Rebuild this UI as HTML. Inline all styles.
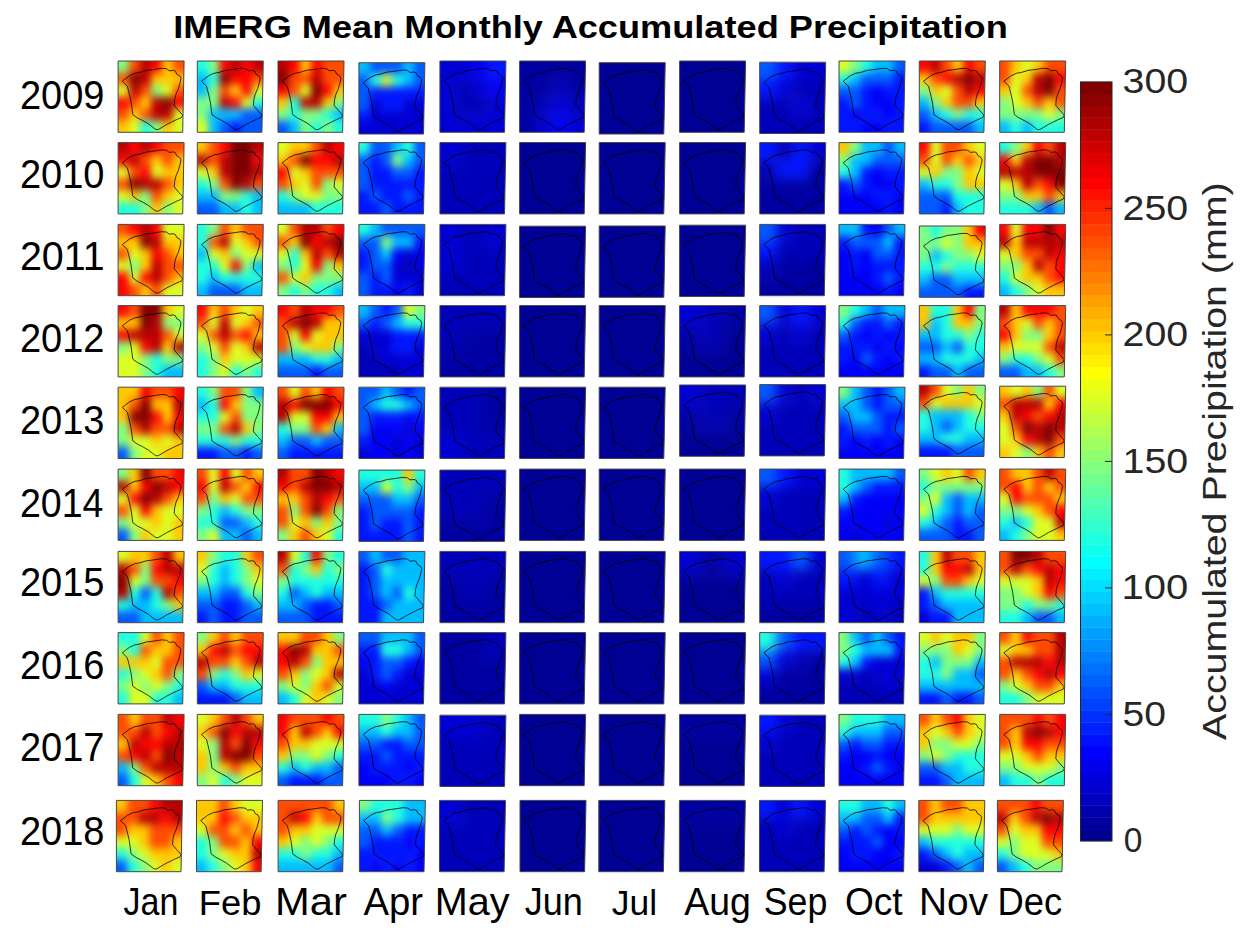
<!DOCTYPE html>
<html><head><meta charset="utf-8"><style>
html,body{margin:0;padding:0;background:#fff;width:1251px;height:936px;overflow:hidden}
svg{display:block}
text{font-family:"Liberation Sans",sans-serif}
.tk{font-size:35px;fill:#262626}
.mo{font-size:37px;fill:#000}
.yr{font-size:37px;fill:#000}
.ti{font-size:32px;font-weight:bold;fill:#000}
.lb{font-size:33.5px;fill:#262626}
</style></head><body>
<svg width="1251" height="936" viewBox="0 0 1251 936">
<defs><clipPath id="k3"><path d="M0 0H3L2.936 3H0z"/></clipPath><filter id="f3" x="-20%" y="-20%" width="140%" height="140%" color-interpolation-filters="sRGB"><feGaussianBlur stdDeviation="0.340"/></filter><clipPath id="k4"><path d="M0 0H4L3.915 4H0z"/></clipPath><filter id="f4" x="-20%" y="-20%" width="140%" height="140%" color-interpolation-filters="sRGB"><feGaussianBlur stdDeviation="0.340"/></filter><clipPath id="k6"><path d="M0 0H6L5.873 6H0z"/></clipPath><filter id="f6" x="-20%" y="-20%" width="140%" height="140%" color-interpolation-filters="sRGB"><feGaussianBlur stdDeviation="0.340"/></filter><path id="ol" d="M0.063 0.283 L0.114 0.248 L0.171 0.207 L0.254 0.172 L0.330 0.160 L0.431 0.131 L0.495 0.125 L0.584 0.113 L0.660 0.102 L0.736 0.108 L0.774 0.137 L0.838 0.131 L0.869 0.143 L0.888 0.184 L0.933 0.207 L0.952 0.242 L0.939 0.306 L0.914 0.388 L0.876 0.470 L0.857 0.540 L0.850 0.622 L0.914 0.692 L0.977 0.757 L0.964 0.792 L0.888 0.821 L0.812 0.856 L0.736 0.891 L0.673 0.926 L0.609 0.961 L0.571 0.961 L0.520 0.926 L0.457 0.880 L0.368 0.833 L0.292 0.798 L0.222 0.751 L0.209 0.657 L0.197 0.575 L0.178 0.494 L0.159 0.423 L0.140 0.353Z" fill="none" stroke="#000" stroke-width="0.85" stroke-opacity="0.9" vector-effect="non-scaling-stroke"/></defs>
<rect width="1251" height="936" fill="#fff"/>
<g transform="translate(118.1 61.0) scale(11.0000 11.8833)" clip-path="url(#k6)"><g filter="url(#f6)"><path fill="#80ff80" d="M-1 -1h1v1h-1zM0 -1h1v1h-1zM-1 0h1v1h-1zM0 0h1v1h-1zM3 2h1v1h-1zM3 5h1v1h-1zM3 6h1v1h-1z"/><path fill="#ff4c00" d="M1 -1h1v1h-1zM5 -1h1v1h-1zM6 -1h1v1h-1zM1 0h1v1h-1zM5 0h1v1h-1zM6 0h1v1h-1zM-1 1h1v1h-1zM0 1h1v1h-1zM2 2h1v1h-1zM5 2h1v1h-1zM6 2h1v1h-1zM1 3h1v1h-1zM-1 4h1v1h-1zM0 4h1v1h-1zM2 4h1v1h-1z"/><path fill="#b90000" d="M2 -1h1v1h-1zM2 0h1v1h-1zM2 1h1v1h-1zM1 2h1v1h-1zM3 3h1v1h-1zM3 4h1v1h-1zM4 4h1v1h-1z"/><path fill="#ff0200" d="M3 -1h1v1h-1zM3 0h1v1h-1zM-1 3h1v1h-1zM0 3h1v1h-1zM5 3h1v1h-1zM6 3h1v1h-1z"/><path fill="#ffc700" d="M4 -1h1v1h-1zM4 0h1v1h-1zM3 1h1v1h-1zM4 1h1v1h-1zM5 1h1v1h-1zM6 1h1v1h-1zM2 3h1v1h-1zM1 4h1v1h-1zM-1 5h1v1h-1zM0 5h1v1h-1zM4 5h1v1h-1zM-1 6h1v1h-1zM0 6h1v1h-1zM4 6h1v1h-1z"/><path fill="#800000" d="M1 1h1v1h-1zM4 3h1v1h-1z"/><path fill="#dbff24" d="M-1 2h1v1h-1zM0 2h1v1h-1zM4 2h1v1h-1zM5 4h1v1h-1zM6 4h1v1h-1zM1 5h1v1h-1zM5 5h1v1h-1zM6 5h1v1h-1zM1 6h1v1h-1zM5 6h1v1h-1zM6 6h1v1h-1z"/><path fill="#20ffdf" d="M2 5h1v1h-1zM2 6h1v1h-1z"/></g></g><use href="#ol" transform="translate(118.1 61.0) scale(66.0 71.3)"/><path d="M118.1 61.0h66.0l-1.4 71.3H118.1z" fill="none" stroke="#444" stroke-width="1"/>
<g transform="translate(197.3 61.0) scale(11.0000 11.8833)" clip-path="url(#k6)"><g filter="url(#f6)"><path fill="#20ffdf" d="M-1 -1h1v1h-1zM0 -1h1v1h-1zM-1 0h1v1h-1zM0 0h1v1h-1zM1 1h1v1h-1zM5 3h1v1h-1zM6 3h1v1h-1z"/><path fill="#80ff80" d="M1 -1h1v1h-1zM1 0h1v1h-1zM1 2h1v1h-1zM-1 3h1v1h-1zM0 3h1v1h-1zM1 3h1v1h-1zM-1 4h1v1h-1zM0 4h1v1h-1z"/><path fill="#ff0200" d="M2 -1h1v1h-1zM4 -1h1v1h-1zM2 0h1v1h-1zM4 0h1v1h-1zM3 1h1v1h-1zM4 1h1v1h-1zM4 2h1v1h-1zM3 3h1v1h-1z"/><path fill="#b90000" d="M3 -1h1v1h-1zM5 -1h1v1h-1zM6 -1h1v1h-1zM3 0h1v1h-1zM5 0h1v1h-1zM6 0h1v1h-1zM2 3h1v1h-1z"/><path fill="#00bdff" d="M-1 1h1v1h-1zM0 1h1v1h-1zM-1 2h1v1h-1zM0 2h1v1h-1zM1 4h1v1h-1zM2 4h1v1h-1zM3 4h1v1h-1zM1 5h1v1h-1zM1 6h1v1h-1z"/><path fill="#800000" d="M2 1h1v1h-1z"/><path fill="#ff4c00" d="M5 1h1v1h-1zM6 1h1v1h-1zM2 2h1v1h-1z"/><path fill="#ffc700" d="M3 2h1v1h-1z"/><path fill="#dbff24" d="M5 2h1v1h-1zM6 2h1v1h-1zM4 3h1v1h-1zM-1 5h1v1h-1zM0 5h1v1h-1zM-1 6h1v1h-1zM0 6h1v1h-1z"/><path fill="#005aff" d="M4 4h1v1h-1zM5 4h1v1h-1zM6 4h1v1h-1zM2 5h1v1h-1zM4 5h1v1h-1zM5 5h1v1h-1zM6 5h1v1h-1zM2 6h1v1h-1zM4 6h1v1h-1zM5 6h1v1h-1zM6 6h1v1h-1z"/><path fill="#0016ff" d="M3 5h1v1h-1zM3 6h1v1h-1z"/></g></g><use href="#ol" transform="translate(197.3 61.0) scale(66.0 71.3)"/><path d="M197.3 61.0h66.0l-1.4 71.3H197.3z" fill="none" stroke="#444" stroke-width="1"/>
<g transform="translate(278.0 61.0) scale(11.0000 11.8833)" clip-path="url(#k6)"><g filter="url(#f6)"><path fill="#b90000" d="M-1 -1h1v1h-1zM0 -1h1v1h-1zM-1 0h1v1h-1zM0 0h1v1h-1zM3 1h1v1h-1zM2 3h1v1h-1zM3 3h1v1h-1z"/><path fill="#ff0200" d="M1 -1h1v1h-1zM3 -1h1v1h-1zM1 0h1v1h-1zM3 0h1v1h-1zM-1 2h1v1h-1zM0 2h1v1h-1zM4 2h1v1h-1z"/><path fill="#ffc700" d="M2 -1h1v1h-1zM2 0h1v1h-1zM5 2h1v1h-1zM6 2h1v1h-1zM-1 3h1v1h-1zM0 3h1v1h-1zM4 3h1v1h-1z"/><path fill="#ff4c00" d="M4 -1h1v1h-1zM5 -1h1v1h-1zM6 -1h1v1h-1zM4 0h1v1h-1zM5 0h1v1h-1zM6 0h1v1h-1zM1 1h1v1h-1zM2 1h1v1h-1zM4 1h1v1h-1zM5 1h1v1h-1zM6 1h1v1h-1zM1 2h1v1h-1z"/><path fill="#800000" d="M-1 1h1v1h-1zM0 1h1v1h-1zM3 2h1v1h-1z"/><path fill="#dbff24" d="M2 2h1v1h-1z"/><path fill="#20ffdf" d="M1 3h1v1h-1zM1 4h1v1h-1zM4 4h1v1h-1zM3 5h1v1h-1zM5 5h1v1h-1zM6 5h1v1h-1zM3 6h1v1h-1zM5 6h1v1h-1zM6 6h1v1h-1z"/><path fill="#80ff80" d="M5 3h1v1h-1zM6 3h1v1h-1zM-1 4h1v1h-1zM0 4h1v1h-1zM2 4h1v1h-1zM3 4h1v1h-1zM2 5h1v1h-1zM4 5h1v1h-1zM2 6h1v1h-1zM4 6h1v1h-1z"/><path fill="#00bdff" d="M5 4h1v1h-1zM6 4h1v1h-1zM1 5h1v1h-1zM1 6h1v1h-1z"/><path fill="#005aff" d="M-1 5h1v1h-1zM0 5h1v1h-1zM-1 6h1v1h-1zM0 6h1v1h-1z"/></g></g><use href="#ol" transform="translate(278.0 61.0) scale(66.0 71.3)"/><path d="M278.0 61.0h66.0l-1.4 71.3H278.0z" fill="none" stroke="#444" stroke-width="1"/>
<g transform="translate(358.9 62.7) scale(11.0000 11.8833)" clip-path="url(#k6)"><g filter="url(#f6)"><path fill="#00bdff" d="M-1 -1h1v1h-1zM0 -1h1v1h-1zM4 -1h1v1h-1zM-1 0h1v1h-1zM0 0h1v1h-1zM4 0h1v1h-1zM4 1h1v1h-1z"/><path fill="#005aff" d="M1 -1h1v1h-1zM2 -1h1v1h-1zM3 -1h1v1h-1zM5 -1h1v1h-1zM6 -1h1v1h-1zM1 0h1v1h-1zM2 0h1v1h-1zM3 0h1v1h-1zM5 0h1v1h-1zM6 0h1v1h-1zM-1 1h1v1h-1zM0 1h1v1h-1zM5 1h1v1h-1zM6 1h1v1h-1zM-1 2h1v1h-1zM0 2h1v1h-1zM-1 3h1v1h-1zM0 3h1v1h-1z"/><path fill="#20ffdf" d="M1 1h1v1h-1zM3 1h1v1h-1z"/><path fill="#dbff24" d="M2 1h1v1h-1z"/><path fill="#0016ff" d="M1 2h1v1h-1zM2 2h1v1h-1zM3 2h1v1h-1zM4 2h1v1h-1zM5 2h1v1h-1zM6 2h1v1h-1zM2 3h1v1h-1zM3 3h1v1h-1zM-1 4h1v1h-1zM0 4h1v1h-1z"/><path fill="#0000d4" d="M1 3h1v1h-1zM4 3h1v1h-1zM5 3h1v1h-1zM6 3h1v1h-1zM1 4h1v1h-1zM2 4h1v1h-1zM3 4h1v1h-1zM4 4h1v1h-1zM5 4h1v1h-1zM6 4h1v1h-1zM-1 5h1v1h-1zM0 5h1v1h-1zM1 5h1v1h-1zM2 5h1v1h-1zM3 5h1v1h-1zM4 5h1v1h-1zM5 5h1v1h-1zM6 5h1v1h-1zM-1 6h1v1h-1zM0 6h1v1h-1zM1 6h1v1h-1zM2 6h1v1h-1zM3 6h1v1h-1zM4 6h1v1h-1zM5 6h1v1h-1zM6 6h1v1h-1z"/></g></g><use href="#ol" transform="translate(358.9 62.7) scale(66.0 71.3)"/><path d="M358.9 62.7h66.0l-1.4 71.3H358.9z" fill="none" stroke="#444" stroke-width="1"/>
<g transform="translate(439.9 61.0) scale(16.5000 17.8250)" clip-path="url(#k4)"><g filter="url(#f4)"><path fill="#0000d4" d="M-1 -1h1v1h-1zM0 -1h1v1h-1zM1 -1h1v1h-1zM-1 0h1v1h-1zM0 0h1v1h-1zM1 0h1v1h-1zM-1 1h1v1h-1zM0 1h1v1h-1zM2 1h1v1h-1zM-1 2h1v1h-1zM0 2h1v1h-1zM3 2h1v1h-1zM4 2h1v1h-1zM-1 3h1v1h-1zM0 3h1v1h-1zM1 3h1v1h-1zM2 3h1v1h-1zM3 3h1v1h-1zM4 3h1v1h-1zM-1 4h1v1h-1zM0 4h1v1h-1zM1 4h1v1h-1zM2 4h1v1h-1zM3 4h1v1h-1zM4 4h1v1h-1z"/><path fill="#0000f6" d="M2 -1h1v1h-1zM2 0h1v1h-1zM3 1h1v1h-1zM4 1h1v1h-1z"/><path fill="#0016ff" d="M3 -1h1v1h-1zM4 -1h1v1h-1zM3 0h1v1h-1zM4 0h1v1h-1z"/><path fill="#0000b9" d="M1 1h1v1h-1zM1 2h1v1h-1zM2 2h1v1h-1z"/></g></g><use href="#ol" transform="translate(439.9 61.0) scale(66.0 71.3)"/><path d="M439.9 61.0h66.0l-1.4 71.3H439.9z" fill="none" stroke="#444" stroke-width="1"/>
<g transform="translate(519.6 61.0) scale(16.5000 17.8250)" clip-path="url(#k4)"><g filter="url(#f4)"><path fill="#0000a2" d="M-1 -1h1v1h-1zM0 -1h1v1h-1zM1 -1h1v1h-1zM2 -1h1v1h-1zM3 -1h1v1h-1zM4 -1h1v1h-1zM-1 0h1v1h-1zM0 0h1v1h-1zM1 0h1v1h-1zM2 0h1v1h-1zM3 0h1v1h-1zM4 0h1v1h-1zM-1 1h1v1h-1zM0 1h1v1h-1zM1 1h1v1h-1zM3 1h1v1h-1zM4 1h1v1h-1zM-1 2h1v1h-1zM0 2h1v1h-1zM-1 3h1v1h-1zM0 3h1v1h-1zM-1 4h1v1h-1zM0 4h1v1h-1z"/><path fill="#0000b9" d="M2 1h1v1h-1zM1 2h1v1h-1zM3 2h1v1h-1zM4 2h1v1h-1z"/><path fill="#0000d4" d="M2 2h1v1h-1zM1 3h1v1h-1zM3 3h1v1h-1zM4 3h1v1h-1zM1 4h1v1h-1zM3 4h1v1h-1zM4 4h1v1h-1z"/><path fill="#0000f6" d="M2 3h1v1h-1zM2 4h1v1h-1z"/></g></g><use href="#ol" transform="translate(519.6 61.0) scale(66.0 71.3)"/><path d="M519.6 61.0h66.0l-1.4 71.3H519.6z" fill="none" stroke="#444" stroke-width="1"/>
<path d="M599.2 62.7h66.0l-1.4 71.3H599.2z" fill="#000094"/><use href="#ol" transform="translate(599.2 62.7) scale(66.0 71.3)"/><path d="M599.2 62.7h66.0l-1.4 71.3H599.2z" fill="none" stroke="#444" stroke-width="1"/>
<path d="M679.6 61.0h66.0l-1.4 71.3H679.6z" fill="#000094"/><use href="#ol" transform="translate(679.6 61.0) scale(66.0 71.3)"/><path d="M679.6 61.0h66.0l-1.4 71.3H679.6z" fill="none" stroke="#444" stroke-width="1"/>
<g transform="translate(759.7 62.2) scale(16.5000 17.8250)" clip-path="url(#k4)"><g filter="url(#f4)"><path fill="#005aff" d="M-1 -1h1v1h-1zM0 -1h1v1h-1zM-1 0h1v1h-1zM0 0h1v1h-1z"/><path fill="#0016ff" d="M1 -1h1v1h-1zM1 0h1v1h-1zM-1 1h1v1h-1zM0 1h1v1h-1z"/><path fill="#0000d4" d="M2 -1h1v1h-1zM3 -1h1v1h-1zM4 -1h1v1h-1zM2 0h1v1h-1zM3 0h1v1h-1zM4 0h1v1h-1zM1 1h1v1h-1zM2 2h1v1h-1z"/><path fill="#0000b9" d="M2 1h1v1h-1zM3 1h1v1h-1zM4 1h1v1h-1zM-1 2h1v1h-1zM0 2h1v1h-1zM1 2h1v1h-1zM3 2h1v1h-1zM4 2h1v1h-1zM-1 3h1v1h-1zM0 3h1v1h-1zM1 3h1v1h-1zM2 3h1v1h-1zM3 3h1v1h-1zM4 3h1v1h-1zM-1 4h1v1h-1zM0 4h1v1h-1zM1 4h1v1h-1zM2 4h1v1h-1zM3 4h1v1h-1zM4 4h1v1h-1z"/></g></g><use href="#ol" transform="translate(759.7 62.2) scale(66.0 71.3)"/><path d="M759.7 62.2h66.0l-1.4 71.3H759.7z" fill="none" stroke="#444" stroke-width="1"/>
<g transform="translate(839.0 61.0) scale(11.0000 11.8833)" clip-path="url(#k6)"><g filter="url(#f6)"><path fill="#dbff24" d="M-1 -1h1v1h-1zM0 -1h1v1h-1zM-1 0h1v1h-1zM0 0h1v1h-1z"/><path fill="#80ff80" d="M1 -1h1v1h-1zM1 0h1v1h-1z"/><path fill="#20ffdf" d="M2 -1h1v1h-1zM2 0h1v1h-1zM-1 1h1v1h-1zM0 1h1v1h-1z"/><path fill="#00bdff" d="M3 -1h1v1h-1zM4 -1h1v1h-1zM3 0h1v1h-1zM4 0h1v1h-1zM1 1h1v1h-1z"/><path fill="#005aff" d="M5 -1h1v1h-1zM6 -1h1v1h-1zM5 0h1v1h-1zM6 0h1v1h-1zM2 1h1v1h-1zM3 1h1v1h-1zM4 1h1v1h-1zM-1 2h1v1h-1zM0 2h1v1h-1zM1 2h1v1h-1zM1 3h1v1h-1z"/><path fill="#0016ff" d="M5 1h1v1h-1zM6 1h1v1h-1zM2 2h1v1h-1zM4 2h1v1h-1zM5 2h1v1h-1zM6 2h1v1h-1zM-1 3h1v1h-1zM0 3h1v1h-1zM2 3h1v1h-1zM5 3h1v1h-1zM6 3h1v1h-1zM-1 4h1v1h-1zM0 4h1v1h-1zM2 4h1v1h-1zM3 4h1v1h-1zM5 4h1v1h-1zM6 4h1v1h-1zM-1 5h1v1h-1zM0 5h1v1h-1zM1 5h1v1h-1zM4 5h1v1h-1zM5 5h1v1h-1zM6 5h1v1h-1zM-1 6h1v1h-1zM0 6h1v1h-1zM1 6h1v1h-1zM4 6h1v1h-1zM5 6h1v1h-1zM6 6h1v1h-1z"/><path fill="#0000f6" d="M3 2h1v1h-1zM3 3h1v1h-1zM4 3h1v1h-1zM1 4h1v1h-1zM4 4h1v1h-1zM2 5h1v1h-1zM3 5h1v1h-1zM2 6h1v1h-1zM3 6h1v1h-1z"/></g></g><use href="#ol" transform="translate(839.0 61.0) scale(66.0 71.3)"/><path d="M839.0 61.0h66.0l-1.4 71.3H839.0z" fill="none" stroke="#444" stroke-width="1"/>
<g transform="translate(919.3 61.0) scale(11.0000 11.8833)" clip-path="url(#k6)"><g filter="url(#f6)"><path fill="#ff0200" d="M-1 -1h1v1h-1zM0 -1h1v1h-1zM4 -1h1v1h-1zM-1 0h1v1h-1zM0 0h1v1h-1zM4 0h1v1h-1zM2 1h1v1h-1zM5 2h1v1h-1zM6 2h1v1h-1z"/><path fill="#b90000" d="M1 -1h1v1h-1zM1 0h1v1h-1zM3 1h1v1h-1zM5 1h1v1h-1zM6 1h1v1h-1zM4 2h1v1h-1z"/><path fill="#ff4c00" d="M2 -1h1v1h-1zM5 -1h1v1h-1zM6 -1h1v1h-1zM2 0h1v1h-1zM5 0h1v1h-1zM6 0h1v1h-1zM1 1h1v1h-1zM3 2h1v1h-1zM3 3h1v1h-1zM4 3h1v1h-1z"/><path fill="#ffc700" d="M3 -1h1v1h-1zM3 0h1v1h-1zM-1 1h1v1h-1zM0 1h1v1h-1zM1 2h1v1h-1zM2 3h1v1h-1zM5 3h1v1h-1zM6 3h1v1h-1z"/><path fill="#800000" d="M4 1h1v1h-1z"/><path fill="#80ff80" d="M-1 2h1v1h-1zM0 2h1v1h-1zM1 3h1v1h-1zM3 4h1v1h-1z"/><path fill="#dbff24" d="M2 2h1v1h-1z"/><path fill="#00bdff" d="M-1 3h1v1h-1zM0 3h1v1h-1zM1 4h1v1h-1zM5 5h1v1h-1zM6 5h1v1h-1zM5 6h1v1h-1zM6 6h1v1h-1z"/><path fill="#005aff" d="M-1 4h1v1h-1zM0 4h1v1h-1zM1 5h1v1h-1zM2 5h1v1h-1zM3 5h1v1h-1zM4 5h1v1h-1zM1 6h1v1h-1zM2 6h1v1h-1zM3 6h1v1h-1zM4 6h1v1h-1z"/><path fill="#20ffdf" d="M2 4h1v1h-1zM4 4h1v1h-1zM5 4h1v1h-1zM6 4h1v1h-1z"/><path fill="#0016ff" d="M-1 5h1v1h-1zM0 5h1v1h-1zM-1 6h1v1h-1zM0 6h1v1h-1z"/></g></g><use href="#ol" transform="translate(919.3 61.0) scale(66.0 71.3)"/><path d="M919.3 61.0h66.0l-1.4 71.3H919.3z" fill="none" stroke="#444" stroke-width="1"/>
<g transform="translate(999.7 61.0) scale(11.0000 11.8833)" clip-path="url(#k6)"><g filter="url(#f6)"><path fill="#ff4c00" d="M-1 -1h1v1h-1zM0 -1h1v1h-1zM4 -1h1v1h-1zM5 -1h1v1h-1zM6 -1h1v1h-1zM-1 0h1v1h-1zM0 0h1v1h-1zM4 0h1v1h-1zM5 0h1v1h-1zM6 0h1v1h-1zM-1 1h1v1h-1zM0 1h1v1h-1zM2 2h1v1h-1zM5 2h1v1h-1zM6 2h1v1h-1zM3 3h1v1h-1zM5 3h1v1h-1zM6 3h1v1h-1z"/><path fill="#ffc700" d="M1 -1h1v1h-1zM3 -1h1v1h-1zM1 0h1v1h-1zM3 0h1v1h-1zM2 1h1v1h-1zM-1 2h1v1h-1zM0 2h1v1h-1zM2 3h1v1h-1zM4 3h1v1h-1z"/><path fill="#dbff24" d="M2 -1h1v1h-1zM2 0h1v1h-1zM1 1h1v1h-1zM1 2h1v1h-1zM1 3h1v1h-1zM4 4h1v1h-1z"/><path fill="#b90000" d="M3 1h1v1h-1zM3 2h1v1h-1z"/><path fill="#800000" d="M4 1h1v1h-1zM4 2h1v1h-1z"/><path fill="#ff0200" d="M5 1h1v1h-1zM6 1h1v1h-1z"/><path fill="#80ff80" d="M-1 3h1v1h-1zM0 3h1v1h-1zM-1 4h1v1h-1zM0 4h1v1h-1zM1 4h1v1h-1zM2 4h1v1h-1zM3 4h1v1h-1zM5 4h1v1h-1zM6 4h1v1h-1z"/><path fill="#00bdff" d="M-1 5h1v1h-1zM0 5h1v1h-1zM2 5h1v1h-1zM-1 6h1v1h-1zM0 6h1v1h-1zM2 6h1v1h-1z"/><path fill="#20ffdf" d="M1 5h1v1h-1zM3 5h1v1h-1zM4 5h1v1h-1zM5 5h1v1h-1zM6 5h1v1h-1zM1 6h1v1h-1zM3 6h1v1h-1zM4 6h1v1h-1zM5 6h1v1h-1zM6 6h1v1h-1z"/></g></g><use href="#ol" transform="translate(999.7 61.0) scale(66.0 71.3)"/><path d="M999.7 61.0h66.0l-1.4 71.3H999.7z" fill="none" stroke="#444" stroke-width="1"/>
<g transform="translate(118.1 142.6) scale(11.0000 11.8833)" clip-path="url(#k6)"><g filter="url(#f6)"><path fill="#b90000" d="M-1 -1h1v1h-1zM0 -1h1v1h-1zM2 -1h1v1h-1zM-1 0h1v1h-1zM0 0h1v1h-1zM2 0h1v1h-1zM1 1h1v1h-1zM2 3h1v1h-1zM3 3h1v1h-1z"/><path fill="#ff0200" d="M1 -1h1v1h-1zM3 -1h1v1h-1zM1 0h1v1h-1zM3 0h1v1h-1zM-1 1h1v1h-1zM0 1h1v1h-1zM2 2h1v1h-1z"/><path fill="#ff4c00" d="M4 -1h1v1h-1zM5 -1h1v1h-1zM6 -1h1v1h-1zM4 0h1v1h-1zM5 0h1v1h-1zM6 0h1v1h-1zM2 1h1v1h-1zM4 1h1v1h-1zM1 2h1v1h-1zM-1 3h1v1h-1zM0 3h1v1h-1zM4 3h1v1h-1zM3 4h1v1h-1z"/><path fill="#ffc700" d="M3 1h1v1h-1zM5 1h1v1h-1zM6 1h1v1h-1zM4 2h1v1h-1zM5 2h1v1h-1zM6 2h1v1h-1zM5 3h1v1h-1zM6 3h1v1h-1zM1 4h1v1h-1zM4 4h1v1h-1zM3 5h1v1h-1zM3 6h1v1h-1z"/><path fill="#dbff24" d="M-1 2h1v1h-1zM0 2h1v1h-1zM3 2h1v1h-1zM-1 4h1v1h-1zM0 4h1v1h-1zM5 4h1v1h-1zM6 4h1v1h-1zM5 5h1v1h-1zM6 5h1v1h-1zM5 6h1v1h-1zM6 6h1v1h-1z"/><path fill="#800000" d="M1 3h1v1h-1z"/><path fill="#80ff80" d="M2 4h1v1h-1zM2 5h1v1h-1zM4 5h1v1h-1zM2 6h1v1h-1zM4 6h1v1h-1z"/><path fill="#20ffdf" d="M-1 5h1v1h-1zM0 5h1v1h-1zM1 5h1v1h-1zM-1 6h1v1h-1zM0 6h1v1h-1zM1 6h1v1h-1z"/></g></g><use href="#ol" transform="translate(118.1 142.6) scale(66.0 71.3)"/><path d="M118.1 142.6h66.0l-1.4 71.3H118.1z" fill="none" stroke="#444" stroke-width="1"/>
<g transform="translate(197.3 142.6) scale(11.0000 11.8833)" clip-path="url(#k6)"><g filter="url(#f6)"><path fill="#ffc700" d="M-1 -1h1v1h-1zM0 -1h1v1h-1zM-1 0h1v1h-1zM0 0h1v1h-1zM1 2h1v1h-1z"/><path fill="#ff4c00" d="M1 -1h1v1h-1zM1 0h1v1h-1zM1 1h1v1h-1zM2 3h1v1h-1zM5 3h1v1h-1zM6 3h1v1h-1z"/><path fill="#ff0200" d="M2 -1h1v1h-1zM2 0h1v1h-1zM5 1h1v1h-1zM6 1h1v1h-1z"/><path fill="#800000" d="M3 -1h1v1h-1zM4 -1h1v1h-1zM3 0h1v1h-1zM4 0h1v1h-1zM3 1h1v1h-1zM4 1h1v1h-1zM3 2h1v1h-1zM4 2h1v1h-1zM3 3h1v1h-1z"/><path fill="#b90000" d="M5 -1h1v1h-1zM6 -1h1v1h-1zM5 0h1v1h-1zM6 0h1v1h-1zM-1 1h1v1h-1zM0 1h1v1h-1zM2 1h1v1h-1zM2 2h1v1h-1zM5 2h1v1h-1zM6 2h1v1h-1zM4 3h1v1h-1z"/><path fill="#dbff24" d="M-1 2h1v1h-1zM0 2h1v1h-1z"/><path fill="#20ffdf" d="M-1 3h1v1h-1zM0 3h1v1h-1zM4 4h1v1h-1zM4 5h1v1h-1zM4 6h1v1h-1z"/><path fill="#80ff80" d="M1 3h1v1h-1zM2 4h1v1h-1zM3 4h1v1h-1z"/><path fill="#00bdff" d="M-1 4h1v1h-1zM0 4h1v1h-1zM1 4h1v1h-1zM5 4h1v1h-1zM6 4h1v1h-1zM2 5h1v1h-1zM3 5h1v1h-1zM5 5h1v1h-1zM6 5h1v1h-1zM2 6h1v1h-1zM3 6h1v1h-1zM5 6h1v1h-1zM6 6h1v1h-1z"/><path fill="#005aff" d="M-1 5h1v1h-1zM0 5h1v1h-1zM1 5h1v1h-1zM-1 6h1v1h-1zM0 6h1v1h-1zM1 6h1v1h-1z"/></g></g><use href="#ol" transform="translate(197.3 142.6) scale(66.0 71.3)"/><path d="M197.3 142.6h66.0l-1.4 71.3H197.3z" fill="none" stroke="#444" stroke-width="1"/>
<g transform="translate(278.0 142.6) scale(11.0000 11.8833)" clip-path="url(#k6)"><g filter="url(#f6)"><path fill="#dbff24" d="M-1 -1h1v1h-1zM0 -1h1v1h-1zM-1 0h1v1h-1zM0 0h1v1h-1zM1 2h1v1h-1zM2 3h1v1h-1zM5 3h1v1h-1zM6 3h1v1h-1zM2 4h1v1h-1zM3 4h1v1h-1z"/><path fill="#ffc700" d="M1 -1h1v1h-1zM2 -1h1v1h-1zM1 0h1v1h-1zM2 0h1v1h-1zM-1 1h1v1h-1zM0 1h1v1h-1zM2 2h1v1h-1zM1 3h1v1h-1z"/><path fill="#ff4c00" d="M3 -1h1v1h-1zM3 0h1v1h-1zM1 1h1v1h-1zM3 2h1v1h-1zM4 2h1v1h-1zM5 2h1v1h-1zM6 2h1v1h-1zM-1 3h1v1h-1zM0 3h1v1h-1zM3 3h1v1h-1z"/><path fill="#b90000" d="M4 -1h1v1h-1zM4 0h1v1h-1zM5 1h1v1h-1zM6 1h1v1h-1z"/><path fill="#ff0200" d="M5 -1h1v1h-1zM6 -1h1v1h-1zM5 0h1v1h-1zM6 0h1v1h-1zM3 1h1v1h-1zM4 1h1v1h-1zM-1 2h1v1h-1zM0 2h1v1h-1z"/><path fill="#800000" d="M2 1h1v1h-1z"/><path fill="#80ff80" d="M4 3h1v1h-1zM1 4h1v1h-1zM4 4h1v1h-1zM5 4h1v1h-1zM6 4h1v1h-1z"/><path fill="#20ffdf" d="M-1 4h1v1h-1zM0 4h1v1h-1zM3 5h1v1h-1zM4 5h1v1h-1zM5 5h1v1h-1zM6 5h1v1h-1zM3 6h1v1h-1zM4 6h1v1h-1zM5 6h1v1h-1zM6 6h1v1h-1z"/><path fill="#00bdff" d="M-1 5h1v1h-1zM0 5h1v1h-1zM1 5h1v1h-1zM2 5h1v1h-1zM-1 6h1v1h-1zM0 6h1v1h-1zM1 6h1v1h-1zM2 6h1v1h-1z"/></g></g><use href="#ol" transform="translate(278.0 142.6) scale(66.0 71.3)"/><path d="M278.0 142.6h66.0l-1.4 71.3H278.0z" fill="none" stroke="#444" stroke-width="1"/>
<g transform="translate(358.9 142.6) scale(11.0000 11.8833)" clip-path="url(#k6)"><g filter="url(#f6)"><path fill="#20ffdf" d="M-1 -1h1v1h-1zM0 -1h1v1h-1zM4 -1h1v1h-1zM-1 0h1v1h-1zM0 0h1v1h-1zM4 0h1v1h-1z"/><path fill="#005aff" d="M1 -1h1v1h-1zM2 -1h1v1h-1zM5 -1h1v1h-1zM6 -1h1v1h-1zM1 0h1v1h-1zM2 0h1v1h-1zM5 0h1v1h-1zM6 0h1v1h-1zM-1 1h1v1h-1zM0 1h1v1h-1zM2 1h1v1h-1zM5 1h1v1h-1zM6 1h1v1h-1zM-1 2h1v1h-1zM0 2h1v1h-1zM3 2h1v1h-1zM4 2h1v1h-1zM-1 3h1v1h-1zM0 3h1v1h-1zM1 4h1v1h-1zM4 4h1v1h-1zM2 5h1v1h-1zM2 6h1v1h-1z"/><path fill="#00bdff" d="M3 -1h1v1h-1zM3 0h1v1h-1zM4 1h1v1h-1z"/><path fill="#0016ff" d="M1 1h1v1h-1zM1 2h1v1h-1zM2 2h1v1h-1zM5 2h1v1h-1zM6 2h1v1h-1zM1 3h1v1h-1zM2 3h1v1h-1zM3 3h1v1h-1zM4 3h1v1h-1zM5 3h1v1h-1zM6 3h1v1h-1zM-1 4h1v1h-1zM0 4h1v1h-1zM2 4h1v1h-1zM3 4h1v1h-1zM5 4h1v1h-1zM6 4h1v1h-1zM-1 5h1v1h-1zM0 5h1v1h-1zM1 5h1v1h-1zM3 5h1v1h-1zM4 5h1v1h-1zM5 5h1v1h-1zM6 5h1v1h-1zM-1 6h1v1h-1zM0 6h1v1h-1zM1 6h1v1h-1zM3 6h1v1h-1zM4 6h1v1h-1zM5 6h1v1h-1zM6 6h1v1h-1z"/><path fill="#80ff80" d="M3 1h1v1h-1z"/></g></g><use href="#ol" transform="translate(358.9 142.6) scale(66.0 71.3)"/><path d="M358.9 142.6h66.0l-1.4 71.3H358.9z" fill="none" stroke="#444" stroke-width="1"/>
<g transform="translate(439.9 142.6) scale(22.0000 23.7667)" clip-path="url(#k3)"><g filter="url(#f3)"><path fill="#0000d4" d="M-1 -1h1v1h-1zM0 -1h1v1h-1zM-1 0h1v1h-1zM0 0h1v1h-1z"/><path fill="#0000b9" d="M1 -1h1v1h-1zM2 -1h1v1h-1zM3 -1h1v1h-1zM1 0h1v1h-1zM2 0h1v1h-1zM3 0h1v1h-1zM-1 1h1v1h-1zM0 1h1v1h-1zM1 1h1v1h-1zM2 1h1v1h-1zM3 1h1v1h-1zM-1 2h1v1h-1zM0 2h1v1h-1zM1 2h1v1h-1zM2 2h1v1h-1zM3 2h1v1h-1zM-1 3h1v1h-1zM0 3h1v1h-1zM1 3h1v1h-1zM2 3h1v1h-1zM3 3h1v1h-1z"/></g></g><use href="#ol" transform="translate(439.9 142.6) scale(66.0 71.3)"/><path d="M439.9 142.6h66.0l-1.4 71.3H439.9z" fill="none" stroke="#444" stroke-width="1"/>
<path d="M519.6 142.6h66.0l-1.4 71.3H519.6z" fill="#000094"/><use href="#ol" transform="translate(519.6 142.6) scale(66.0 71.3)"/><path d="M519.6 142.6h66.0l-1.4 71.3H519.6z" fill="none" stroke="#444" stroke-width="1"/>
<path d="M599.2 142.6h66.0l-1.4 71.3H599.2z" fill="#000094"/><use href="#ol" transform="translate(599.2 142.6) scale(66.0 71.3)"/><path d="M599.2 142.6h66.0l-1.4 71.3H599.2z" fill="none" stroke="#444" stroke-width="1"/>
<path d="M679.6 142.6h66.0l-1.4 71.3H679.6z" fill="#000094"/><use href="#ol" transform="translate(679.6 142.6) scale(66.0 71.3)"/><path d="M679.6 142.6h66.0l-1.4 71.3H679.6z" fill="none" stroke="#444" stroke-width="1"/>
<g transform="translate(759.7 142.6) scale(16.5000 17.8250)" clip-path="url(#k4)"><g filter="url(#f4)"><path fill="#0016ff" d="M-1 -1h1v1h-1zM0 -1h1v1h-1zM2 -1h1v1h-1zM-1 0h1v1h-1zM0 0h1v1h-1zM2 0h1v1h-1zM1 1h1v1h-1zM2 1h1v1h-1z"/><path fill="#0000b9" d="M1 -1h1v1h-1zM1 0h1v1h-1zM-1 1h1v1h-1zM0 1h1v1h-1z"/><path fill="#0000d4" d="M3 -1h1v1h-1zM4 -1h1v1h-1zM3 0h1v1h-1zM4 0h1v1h-1z"/><path fill="#0000a2" d="M3 1h1v1h-1zM4 1h1v1h-1zM-1 2h1v1h-1zM0 2h1v1h-1zM1 2h1v1h-1zM2 2h1v1h-1zM3 2h1v1h-1zM4 2h1v1h-1zM-1 3h1v1h-1zM0 3h1v1h-1zM1 3h1v1h-1zM2 3h1v1h-1zM3 3h1v1h-1zM4 3h1v1h-1zM-1 4h1v1h-1zM0 4h1v1h-1zM1 4h1v1h-1zM2 4h1v1h-1zM3 4h1v1h-1zM4 4h1v1h-1z"/></g></g><use href="#ol" transform="translate(759.7 142.6) scale(66.0 71.3)"/><path d="M759.7 142.6h66.0l-1.4 71.3H759.7z" fill="none" stroke="#444" stroke-width="1"/>
<g transform="translate(839.0 142.6) scale(11.0000 11.8833)" clip-path="url(#k6)"><g filter="url(#f6)"><path fill="#ffc700" d="M-1 -1h1v1h-1zM0 -1h1v1h-1zM-1 0h1v1h-1zM0 0h1v1h-1z"/><path fill="#80ff80" d="M1 -1h1v1h-1zM1 0h1v1h-1zM-1 1h1v1h-1zM0 1h1v1h-1z"/><path fill="#00bdff" d="M2 -1h1v1h-1zM3 -1h1v1h-1zM5 -1h1v1h-1zM6 -1h1v1h-1zM2 0h1v1h-1zM3 0h1v1h-1zM5 0h1v1h-1zM6 0h1v1h-1zM1 1h1v1h-1zM2 1h1v1h-1zM1 2h1v1h-1z"/><path fill="#005aff" d="M4 -1h1v1h-1zM4 0h1v1h-1zM3 1h1v1h-1zM4 1h1v1h-1zM5 1h1v1h-1zM6 1h1v1h-1zM1 3h1v1h-1z"/><path fill="#20ffdf" d="M-1 2h1v1h-1zM0 2h1v1h-1z"/><path fill="#0016ff" d="M2 2h1v1h-1zM4 2h1v1h-1zM5 2h1v1h-1zM6 2h1v1h-1zM-1 3h1v1h-1zM0 3h1v1h-1zM2 3h1v1h-1zM5 3h1v1h-1zM6 3h1v1h-1zM3 4h1v1h-1zM4 4h1v1h-1zM4 5h1v1h-1zM4 6h1v1h-1z"/><path fill="#0000f6" d="M3 2h1v1h-1zM3 3h1v1h-1zM4 3h1v1h-1zM-1 4h1v1h-1zM0 4h1v1h-1zM1 4h1v1h-1zM2 4h1v1h-1zM5 4h1v1h-1zM6 4h1v1h-1zM-1 5h1v1h-1zM0 5h1v1h-1zM1 5h1v1h-1zM2 5h1v1h-1zM3 5h1v1h-1zM5 5h1v1h-1zM6 5h1v1h-1zM-1 6h1v1h-1zM0 6h1v1h-1zM1 6h1v1h-1zM2 6h1v1h-1zM3 6h1v1h-1zM5 6h1v1h-1zM6 6h1v1h-1z"/></g></g><use href="#ol" transform="translate(839.0 142.6) scale(66.0 71.3)"/><path d="M839.0 142.6h66.0l-1.4 71.3H839.0z" fill="none" stroke="#444" stroke-width="1"/>
<g transform="translate(919.3 142.6) scale(11.0000 11.8833)" clip-path="url(#k6)"><g filter="url(#f6)"><path fill="#ff0200" d="M-1 -1h1v1h-1zM0 -1h1v1h-1zM-1 0h1v1h-1zM0 0h1v1h-1z"/><path fill="#dbff24" d="M1 -1h1v1h-1zM5 -1h1v1h-1zM6 -1h1v1h-1zM1 0h1v1h-1zM5 0h1v1h-1zM6 0h1v1h-1zM1 1h1v1h-1zM-1 2h1v1h-1zM0 2h1v1h-1zM5 2h1v1h-1zM6 2h1v1h-1z"/><path fill="#ff4c00" d="M2 -1h1v1h-1zM3 -1h1v1h-1zM2 0h1v1h-1zM3 0h1v1h-1zM-1 1h1v1h-1zM0 1h1v1h-1zM2 1h1v1h-1zM4 1h1v1h-1z"/><path fill="#ffc700" d="M4 -1h1v1h-1zM4 0h1v1h-1zM3 1h1v1h-1zM5 1h1v1h-1zM6 1h1v1h-1zM1 2h1v1h-1zM4 2h1v1h-1zM4 3h1v1h-1zM5 3h1v1h-1zM6 3h1v1h-1z"/><path fill="#80ff80" d="M2 2h1v1h-1zM3 2h1v1h-1zM3 3h1v1h-1z"/><path fill="#00bdff" d="M-1 3h1v1h-1zM0 3h1v1h-1zM3 5h1v1h-1zM3 6h1v1h-1z"/><path fill="#20ffdf" d="M1 3h1v1h-1zM2 3h1v1h-1zM3 4h1v1h-1zM4 4h1v1h-1zM5 4h1v1h-1zM6 4h1v1h-1zM4 5h1v1h-1zM5 5h1v1h-1zM6 5h1v1h-1zM4 6h1v1h-1zM5 6h1v1h-1zM6 6h1v1h-1z"/><path fill="#005aff" d="M-1 4h1v1h-1zM0 4h1v1h-1zM1 4h1v1h-1zM2 4h1v1h-1zM-1 5h1v1h-1zM0 5h1v1h-1zM1 5h1v1h-1zM-1 6h1v1h-1zM0 6h1v1h-1zM1 6h1v1h-1z"/><path fill="#0016ff" d="M2 5h1v1h-1zM2 6h1v1h-1z"/></g></g><use href="#ol" transform="translate(919.3 142.6) scale(66.0 71.3)"/><path d="M919.3 142.6h66.0l-1.4 71.3H919.3z" fill="none" stroke="#444" stroke-width="1"/>
<g transform="translate(999.7 142.6) scale(11.0000 11.8833)" clip-path="url(#k6)"><g filter="url(#f6)"><path fill="#20ffdf" d="M-1 -1h1v1h-1zM0 -1h1v1h-1zM-1 0h1v1h-1zM0 0h1v1h-1zM-1 5h1v1h-1zM0 5h1v1h-1zM1 5h1v1h-1zM2 5h1v1h-1zM-1 6h1v1h-1zM0 6h1v1h-1zM1 6h1v1h-1zM2 6h1v1h-1z"/><path fill="#80ff80" d="M1 -1h1v1h-1zM1 0h1v1h-1zM-1 4h1v1h-1zM0 4h1v1h-1zM1 4h1v1h-1z"/><path fill="#ffc700" d="M2 -1h1v1h-1zM2 0h1v1h-1zM1 1h1v1h-1zM1 3h1v1h-1zM2 4h1v1h-1zM3 4h1v1h-1zM5 4h1v1h-1zM6 4h1v1h-1z"/><path fill="#ff0200" d="M3 -1h1v1h-1zM3 0h1v1h-1zM-1 1h1v1h-1zM0 1h1v1h-1zM4 3h1v1h-1z"/><path fill="#ff4c00" d="M4 -1h1v1h-1zM4 0h1v1h-1zM3 3h1v1h-1zM4 4h1v1h-1z"/><path fill="#b90000" d="M5 -1h1v1h-1zM6 -1h1v1h-1zM5 0h1v1h-1zM6 0h1v1h-1zM2 1h1v1h-1zM5 1h1v1h-1zM6 1h1v1h-1zM-1 2h1v1h-1zM0 2h1v1h-1zM1 2h1v1h-1zM2 2h1v1h-1zM2 3h1v1h-1z"/><path fill="#800000" d="M3 1h1v1h-1zM4 1h1v1h-1zM3 2h1v1h-1zM4 2h1v1h-1zM5 2h1v1h-1zM6 2h1v1h-1zM5 3h1v1h-1zM6 3h1v1h-1z"/><path fill="#dbff24" d="M-1 3h1v1h-1zM0 3h1v1h-1z"/><path fill="#00bdff" d="M3 5h1v1h-1zM5 5h1v1h-1zM6 5h1v1h-1zM3 6h1v1h-1zM5 6h1v1h-1zM6 6h1v1h-1z"/><path fill="#005aff" d="M4 5h1v1h-1zM4 6h1v1h-1z"/></g></g><use href="#ol" transform="translate(999.7 142.6) scale(66.0 71.3)"/><path d="M999.7 142.6h66.0l-1.4 71.3H999.7z" fill="none" stroke="#444" stroke-width="1"/>
<g transform="translate(118.1 224.4) scale(11.0000 11.8833)" clip-path="url(#k6)"><g filter="url(#f6)"><path fill="#ff4c00" d="M-1 -1h1v1h-1zM0 -1h1v1h-1zM-1 0h1v1h-1zM0 0h1v1h-1zM-1 2h1v1h-1zM0 2h1v1h-1zM4 2h1v1h-1zM4 3h1v1h-1zM5 3h1v1h-1zM6 3h1v1h-1zM4 4h1v1h-1zM1 5h1v1h-1zM3 5h1v1h-1zM1 6h1v1h-1zM3 6h1v1h-1z"/><path fill="#ff0200" d="M1 -1h1v1h-1zM3 -1h1v1h-1zM1 0h1v1h-1zM3 0h1v1h-1zM3 2h1v1h-1zM-1 4h1v1h-1zM0 4h1v1h-1zM2 4h1v1h-1zM-1 5h1v1h-1zM0 5h1v1h-1zM-1 6h1v1h-1zM0 6h1v1h-1z"/><path fill="#b90000" d="M2 -1h1v1h-1zM2 0h1v1h-1zM3 1h1v1h-1zM3 3h1v1h-1zM3 4h1v1h-1z"/><path fill="#dbff24" d="M4 -1h1v1h-1zM5 -1h1v1h-1zM6 -1h1v1h-1zM4 0h1v1h-1zM5 0h1v1h-1zM6 0h1v1h-1zM1 2h1v1h-1zM-1 3h1v1h-1zM0 3h1v1h-1zM1 4h1v1h-1zM4 5h1v1h-1zM5 5h1v1h-1zM6 5h1v1h-1zM4 6h1v1h-1zM5 6h1v1h-1zM6 6h1v1h-1z"/><path fill="#ffc700" d="M-1 1h1v1h-1zM0 1h1v1h-1zM1 1h1v1h-1zM4 1h1v1h-1zM5 1h1v1h-1zM6 1h1v1h-1zM2 2h1v1h-1zM5 2h1v1h-1zM6 2h1v1h-1zM2 3h1v1h-1zM5 4h1v1h-1zM6 4h1v1h-1zM2 5h1v1h-1zM2 6h1v1h-1z"/><path fill="#800000" d="M2 1h1v1h-1z"/><path fill="#80ff80" d="M1 3h1v1h-1z"/></g></g><use href="#ol" transform="translate(118.1 224.4) scale(66.0 71.3)"/><path d="M118.1 224.4h66.0l-1.4 71.3H118.1z" fill="none" stroke="#444" stroke-width="1"/>
<g transform="translate(197.3 224.4) scale(11.0000 11.8833)" clip-path="url(#k6)"><g filter="url(#f6)"><path fill="#20ffdf" d="M-1 -1h1v1h-1zM0 -1h1v1h-1zM-1 0h1v1h-1zM0 0h1v1h-1zM-1 1h1v1h-1zM0 1h1v1h-1zM-1 3h1v1h-1zM0 3h1v1h-1zM1 3h1v1h-1zM-1 4h1v1h-1zM0 4h1v1h-1zM2 4h1v1h-1zM3 4h1v1h-1zM4 4h1v1h-1zM5 4h1v1h-1zM6 4h1v1h-1z"/><path fill="#80ff80" d="M1 -1h1v1h-1zM1 0h1v1h-1zM3 2h1v1h-1zM4 3h1v1h-1z"/><path fill="#ff4c00" d="M2 -1h1v1h-1zM4 -1h1v1h-1zM5 -1h1v1h-1zM6 -1h1v1h-1zM2 0h1v1h-1zM4 0h1v1h-1zM5 0h1v1h-1zM6 0h1v1h-1zM1 1h1v1h-1zM5 1h1v1h-1zM6 1h1v1h-1z"/><path fill="#ffc700" d="M3 -1h1v1h-1zM3 0h1v1h-1zM4 1h1v1h-1zM2 2h1v1h-1z"/><path fill="#b90000" d="M2 1h1v1h-1z"/><path fill="#dbff24" d="M3 1h1v1h-1zM1 2h1v1h-1zM4 2h1v1h-1zM5 2h1v1h-1zM6 2h1v1h-1zM2 3h1v1h-1z"/><path fill="#00bdff" d="M-1 2h1v1h-1zM0 2h1v1h-1zM5 3h1v1h-1zM6 3h1v1h-1zM1 4h1v1h-1zM-1 5h1v1h-1zM0 5h1v1h-1zM4 5h1v1h-1zM5 5h1v1h-1zM6 5h1v1h-1zM-1 6h1v1h-1zM0 6h1v1h-1zM4 6h1v1h-1zM5 6h1v1h-1zM6 6h1v1h-1z"/><path fill="#ff0200" d="M3 3h1v1h-1z"/><path fill="#005aff" d="M1 5h1v1h-1zM2 5h1v1h-1zM3 5h1v1h-1zM1 6h1v1h-1zM2 6h1v1h-1zM3 6h1v1h-1z"/></g></g><use href="#ol" transform="translate(197.3 224.4) scale(66.0 71.3)"/><path d="M197.3 224.4h66.0l-1.4 71.3H197.3z" fill="none" stroke="#444" stroke-width="1"/>
<g transform="translate(278.0 224.4) scale(11.0000 11.8833)" clip-path="url(#k6)"><g filter="url(#f6)"><path fill="#dbff24" d="M-1 -1h1v1h-1zM0 -1h1v1h-1zM-1 0h1v1h-1zM0 0h1v1h-1zM-1 2h1v1h-1zM0 2h1v1h-1zM2 3h1v1h-1zM1 4h1v1h-1z"/><path fill="#ff4c00" d="M1 -1h1v1h-1zM4 -1h1v1h-1zM1 0h1v1h-1zM4 0h1v1h-1zM-1 1h1v1h-1zM0 1h1v1h-1zM4 2h1v1h-1zM-1 4h1v1h-1zM0 4h1v1h-1z"/><path fill="#b90000" d="M2 -1h1v1h-1zM3 -1h1v1h-1zM2 0h1v1h-1zM3 0h1v1h-1zM4 1h1v1h-1zM3 2h1v1h-1zM5 2h1v1h-1zM6 2h1v1h-1z"/><path fill="#ff0200" d="M5 -1h1v1h-1zM6 -1h1v1h-1zM5 0h1v1h-1zM6 0h1v1h-1zM3 1h1v1h-1zM3 3h1v1h-1z"/><path fill="#ffc700" d="M1 1h1v1h-1zM2 2h1v1h-1zM5 3h1v1h-1zM6 3h1v1h-1zM2 4h1v1h-1z"/><path fill="#800000" d="M2 1h1v1h-1zM5 1h1v1h-1zM6 1h1v1h-1z"/><path fill="#20ffdf" d="M1 2h1v1h-1zM1 3h1v1h-1zM1 5h1v1h-1zM3 5h1v1h-1zM4 5h1v1h-1zM1 6h1v1h-1zM3 6h1v1h-1zM4 6h1v1h-1z"/><path fill="#80ff80" d="M-1 3h1v1h-1zM0 3h1v1h-1zM4 3h1v1h-1zM3 4h1v1h-1zM4 4h1v1h-1zM5 4h1v1h-1zM6 4h1v1h-1zM-1 5h1v1h-1zM0 5h1v1h-1zM2 5h1v1h-1zM-1 6h1v1h-1zM0 6h1v1h-1zM2 6h1v1h-1z"/><path fill="#00bdff" d="M5 5h1v1h-1zM6 5h1v1h-1zM5 6h1v1h-1zM6 6h1v1h-1z"/></g></g><use href="#ol" transform="translate(278.0 224.4) scale(66.0 71.3)"/><path d="M278.0 224.4h66.0l-1.4 71.3H278.0z" fill="none" stroke="#444" stroke-width="1"/>
<g transform="translate(358.9 224.4) scale(11.0000 11.8833)" clip-path="url(#k6)"><g filter="url(#f6)"><path fill="#20ffdf" d="M-1 -1h1v1h-1zM0 -1h1v1h-1zM-1 0h1v1h-1zM0 0h1v1h-1z"/><path fill="#00bdff" d="M1 -1h1v1h-1zM1 0h1v1h-1zM3 1h1v1h-1zM4 1h1v1h-1zM2 2h1v1h-1z"/><path fill="#005aff" d="M2 -1h1v1h-1zM3 -1h1v1h-1zM4 -1h1v1h-1zM5 -1h1v1h-1zM6 -1h1v1h-1zM2 0h1v1h-1zM3 0h1v1h-1zM4 0h1v1h-1zM5 0h1v1h-1zM6 0h1v1h-1zM-1 1h1v1h-1zM0 1h1v1h-1zM1 1h1v1h-1zM1 2h1v1h-1zM1 3h1v1h-1zM2 3h1v1h-1zM-1 4h1v1h-1zM0 4h1v1h-1zM2 4h1v1h-1zM-1 5h1v1h-1zM0 5h1v1h-1zM-1 6h1v1h-1zM0 6h1v1h-1z"/><path fill="#80ff80" d="M2 1h1v1h-1z"/><path fill="#0016ff" d="M5 1h1v1h-1zM6 1h1v1h-1zM-1 2h1v1h-1zM0 2h1v1h-1zM-1 3h1v1h-1zM0 3h1v1h-1zM1 4h1v1h-1zM1 5h1v1h-1zM2 5h1v1h-1zM4 5h1v1h-1zM1 6h1v1h-1zM2 6h1v1h-1zM4 6h1v1h-1z"/><path fill="#0000f6" d="M3 2h1v1h-1zM5 2h1v1h-1zM6 2h1v1h-1zM3 5h1v1h-1zM3 6h1v1h-1z"/><path fill="#0000d4" d="M4 2h1v1h-1zM3 3h1v1h-1zM5 3h1v1h-1zM6 3h1v1h-1zM3 4h1v1h-1zM4 4h1v1h-1zM5 4h1v1h-1zM6 4h1v1h-1zM5 5h1v1h-1zM6 5h1v1h-1zM5 6h1v1h-1zM6 6h1v1h-1z"/><path fill="#0000b9" d="M4 3h1v1h-1z"/></g></g><use href="#ol" transform="translate(358.9 224.4) scale(66.0 71.3)"/><path d="M358.9 224.4h66.0l-1.4 71.3H358.9z" fill="none" stroke="#444" stroke-width="1"/>
<g transform="translate(439.9 224.4) scale(22.0000 23.7667)" clip-path="url(#k3)"><g filter="url(#f3)"><path fill="#0000d4" d="M-1 -1h1v1h-1zM0 -1h1v1h-1zM2 -1h1v1h-1zM3 -1h1v1h-1zM-1 0h1v1h-1zM0 0h1v1h-1zM2 0h1v1h-1zM3 0h1v1h-1zM-1 1h1v1h-1zM0 1h1v1h-1z"/><path fill="#0000b9" d="M1 -1h1v1h-1zM1 0h1v1h-1zM1 1h1v1h-1zM2 1h1v1h-1zM3 1h1v1h-1zM-1 2h1v1h-1zM0 2h1v1h-1zM1 2h1v1h-1zM2 2h1v1h-1zM3 2h1v1h-1zM-1 3h1v1h-1zM0 3h1v1h-1zM1 3h1v1h-1zM2 3h1v1h-1zM3 3h1v1h-1z"/></g></g><use href="#ol" transform="translate(439.9 224.4) scale(66.0 71.3)"/><path d="M439.9 224.4h66.0l-1.4 71.3H439.9z" fill="none" stroke="#444" stroke-width="1"/>
<path d="M519.6 226.2h66.0l-1.4 71.3H519.6z" fill="#000094"/><use href="#ol" transform="translate(519.6 226.2) scale(66.0 71.3)"/><path d="M519.6 226.2h66.0l-1.4 71.3H519.6z" fill="none" stroke="#444" stroke-width="1"/>
<path d="M599.2 226.0h66.0l-1.4 71.3H599.2z" fill="#000094"/><use href="#ol" transform="translate(599.2 226.0) scale(66.0 71.3)"/><path d="M599.2 226.0h66.0l-1.4 71.3H599.2z" fill="none" stroke="#444" stroke-width="1"/>
<path d="M679.6 225.2h66.0l-1.4 71.3H679.6z" fill="#000094"/><use href="#ol" transform="translate(679.6 225.2) scale(66.0 71.3)"/><path d="M679.6 225.2h66.0l-1.4 71.3H679.6z" fill="none" stroke="#444" stroke-width="1"/>
<g transform="translate(759.7 224.4) scale(16.5000 17.8250)" clip-path="url(#k4)"><g filter="url(#f4)"><path fill="#005aff" d="M-1 -1h1v1h-1zM0 -1h1v1h-1zM-1 0h1v1h-1zM0 0h1v1h-1z"/><path fill="#0000d4" d="M1 -1h1v1h-1zM1 0h1v1h-1z"/><path fill="#0000b9" d="M2 -1h1v1h-1zM3 -1h1v1h-1zM4 -1h1v1h-1zM2 0h1v1h-1zM3 0h1v1h-1zM4 0h1v1h-1zM1 1h1v1h-1zM2 1h1v1h-1zM3 1h1v1h-1zM4 1h1v1h-1zM-1 2h1v1h-1zM0 2h1v1h-1z"/><path fill="#0016ff" d="M-1 1h1v1h-1zM0 1h1v1h-1z"/><path fill="#0000a2" d="M1 2h1v1h-1zM2 2h1v1h-1zM3 2h1v1h-1zM4 2h1v1h-1zM-1 3h1v1h-1zM0 3h1v1h-1zM1 3h1v1h-1zM2 3h1v1h-1zM3 3h1v1h-1zM4 3h1v1h-1zM-1 4h1v1h-1zM0 4h1v1h-1zM1 4h1v1h-1zM2 4h1v1h-1zM3 4h1v1h-1zM4 4h1v1h-1z"/></g></g><use href="#ol" transform="translate(759.7 224.4) scale(66.0 71.3)"/><path d="M759.7 224.4h66.0l-1.4 71.3H759.7z" fill="none" stroke="#444" stroke-width="1"/>
<g transform="translate(839.0 224.4) scale(11.0000 11.8833)" clip-path="url(#k6)"><g filter="url(#f6)"><path fill="#00bdff" d="M-1 -1h1v1h-1zM0 -1h1v1h-1zM1 -1h1v1h-1zM5 -1h1v1h-1zM6 -1h1v1h-1zM-1 0h1v1h-1zM0 0h1v1h-1zM1 0h1v1h-1zM5 0h1v1h-1zM6 0h1v1h-1zM4 1h1v1h-1z"/><path fill="#0016ff" d="M2 -1h1v1h-1zM2 0h1v1h-1zM-1 1h1v1h-1zM0 1h1v1h-1zM5 1h1v1h-1zM6 1h1v1h-1zM1 2h1v1h-1zM5 2h1v1h-1zM6 2h1v1h-1zM1 3h1v1h-1zM3 3h1v1h-1zM4 3h1v1h-1zM5 3h1v1h-1zM6 3h1v1h-1zM3 4h1v1h-1zM5 4h1v1h-1zM6 4h1v1h-1zM4 5h1v1h-1zM4 6h1v1h-1z"/><path fill="#0000f6" d="M3 -1h1v1h-1zM3 0h1v1h-1zM-1 2h1v1h-1zM0 2h1v1h-1zM2 2h1v1h-1zM-1 3h1v1h-1zM0 3h1v1h-1zM2 3h1v1h-1zM-1 4h1v1h-1zM0 4h1v1h-1zM1 4h1v1h-1zM2 4h1v1h-1zM-1 5h1v1h-1zM0 5h1v1h-1zM1 5h1v1h-1zM2 5h1v1h-1zM3 5h1v1h-1zM5 5h1v1h-1zM6 5h1v1h-1zM-1 6h1v1h-1zM0 6h1v1h-1zM1 6h1v1h-1zM2 6h1v1h-1zM3 6h1v1h-1zM5 6h1v1h-1zM6 6h1v1h-1z"/><path fill="#005aff" d="M4 -1h1v1h-1zM4 0h1v1h-1zM1 1h1v1h-1zM2 1h1v1h-1zM3 1h1v1h-1zM3 2h1v1h-1zM4 2h1v1h-1zM4 4h1v1h-1z"/></g></g><use href="#ol" transform="translate(839.0 224.4) scale(66.0 71.3)"/><path d="M839.0 224.4h66.0l-1.4 71.3H839.0z" fill="none" stroke="#444" stroke-width="1"/>
<g transform="translate(919.3 226.0) scale(11.0000 11.8833)" clip-path="url(#k6)"><g filter="url(#f6)"><path fill="#80ff80" d="M-1 -1h1v1h-1zM0 -1h1v1h-1zM2 -1h1v1h-1zM3 -1h1v1h-1zM-1 0h1v1h-1zM0 0h1v1h-1zM2 0h1v1h-1zM3 0h1v1h-1zM-1 1h1v1h-1zM0 1h1v1h-1zM1 1h1v1h-1zM3 1h1v1h-1zM-1 2h1v1h-1zM0 2h1v1h-1zM3 2h1v1h-1zM4 2h1v1h-1zM2 3h1v1h-1z"/><path fill="#20ffdf" d="M1 -1h1v1h-1zM1 0h1v1h-1zM2 2h1v1h-1zM-1 3h1v1h-1zM0 3h1v1h-1zM1 3h1v1h-1zM3 3h1v1h-1zM4 3h1v1h-1zM5 3h1v1h-1zM6 3h1v1h-1z"/><path fill="#ffc700" d="M4 -1h1v1h-1zM4 0h1v1h-1zM4 1h1v1h-1zM5 1h1v1h-1zM6 1h1v1h-1z"/><path fill="#ff0200" d="M5 -1h1v1h-1zM6 -1h1v1h-1zM5 0h1v1h-1zM6 0h1v1h-1z"/><path fill="#dbff24" d="M2 1h1v1h-1zM5 2h1v1h-1zM6 2h1v1h-1z"/><path fill="#00bdff" d="M1 2h1v1h-1zM-1 4h1v1h-1zM0 4h1v1h-1zM3 4h1v1h-1zM4 4h1v1h-1zM5 4h1v1h-1zM6 4h1v1h-1z"/><path fill="#005aff" d="M1 4h1v1h-1zM2 4h1v1h-1zM-1 5h1v1h-1zM0 5h1v1h-1zM1 5h1v1h-1zM2 5h1v1h-1zM3 5h1v1h-1zM-1 6h1v1h-1zM0 6h1v1h-1zM1 6h1v1h-1zM2 6h1v1h-1zM3 6h1v1h-1z"/><path fill="#0016ff" d="M4 5h1v1h-1zM5 5h1v1h-1zM6 5h1v1h-1zM4 6h1v1h-1zM5 6h1v1h-1zM6 6h1v1h-1z"/></g></g><use href="#ol" transform="translate(919.3 226.0) scale(66.0 71.3)"/><path d="M919.3 226.0h66.0l-1.4 71.3H919.3z" fill="none" stroke="#444" stroke-width="1"/>
<g transform="translate(999.7 224.4) scale(11.0000 11.8833)" clip-path="url(#k6)"><g filter="url(#f6)"><path fill="#ff0200" d="M-1 -1h1v1h-1zM0 -1h1v1h-1zM2 -1h1v1h-1zM3 -1h1v1h-1zM5 -1h1v1h-1zM6 -1h1v1h-1zM-1 0h1v1h-1zM0 0h1v1h-1zM2 0h1v1h-1zM3 0h1v1h-1zM5 0h1v1h-1zM6 0h1v1h-1zM5 2h1v1h-1zM6 2h1v1h-1zM5 3h1v1h-1zM6 3h1v1h-1zM5 4h1v1h-1zM6 4h1v1h-1z"/><path fill="#dbff24" d="M1 -1h1v1h-1zM1 0h1v1h-1zM-1 2h1v1h-1zM0 2h1v1h-1zM1 4h1v1h-1zM3 5h1v1h-1zM3 6h1v1h-1z"/><path fill="#800000" d="M4 -1h1v1h-1zM4 0h1v1h-1z"/><path fill="#b90000" d="M-1 1h1v1h-1zM0 1h1v1h-1zM2 1h1v1h-1zM3 1h1v1h-1zM4 1h1v1h-1zM5 1h1v1h-1zM6 1h1v1h-1zM4 2h1v1h-1zM3 3h1v1h-1z"/><path fill="#ffc700" d="M1 1h1v1h-1zM1 2h1v1h-1zM2 3h1v1h-1zM2 4h1v1h-1zM3 4h1v1h-1zM4 5h1v1h-1zM5 5h1v1h-1zM6 5h1v1h-1zM4 6h1v1h-1zM5 6h1v1h-1zM6 6h1v1h-1z"/><path fill="#ff4c00" d="M2 2h1v1h-1zM3 2h1v1h-1zM4 3h1v1h-1zM4 4h1v1h-1z"/><path fill="#80ff80" d="M-1 3h1v1h-1zM0 3h1v1h-1zM1 3h1v1h-1zM2 5h1v1h-1zM2 6h1v1h-1z"/><path fill="#20ffdf" d="M-1 4h1v1h-1zM0 4h1v1h-1zM1 5h1v1h-1zM1 6h1v1h-1z"/><path fill="#00bdff" d="M-1 5h1v1h-1zM0 5h1v1h-1zM-1 6h1v1h-1zM0 6h1v1h-1z"/></g></g><use href="#ol" transform="translate(999.7 224.4) scale(66.0 71.3)"/><path d="M999.7 224.4h66.0l-1.4 71.3H999.7z" fill="none" stroke="#444" stroke-width="1"/>
<g transform="translate(118.1 305.6) scale(11.0000 11.8833)" clip-path="url(#k6)"><g filter="url(#f6)"><path fill="#ff0200" d="M-1 -1h1v1h-1zM0 -1h1v1h-1zM-1 0h1v1h-1zM0 0h1v1h-1zM-1 2h1v1h-1zM0 2h1v1h-1zM2 3h1v1h-1z"/><path fill="#ff4c00" d="M1 -1h1v1h-1zM1 0h1v1h-1zM4 2h1v1h-1z"/><path fill="#800000" d="M2 -1h1v1h-1zM3 -1h1v1h-1zM2 0h1v1h-1zM3 0h1v1h-1zM2 1h1v1h-1z"/><path fill="#ffc700" d="M4 -1h1v1h-1zM4 0h1v1h-1zM-1 1h1v1h-1zM0 1h1v1h-1zM1 1h1v1h-1zM4 3h1v1h-1z"/><path fill="#dbff24" d="M5 -1h1v1h-1zM6 -1h1v1h-1zM5 0h1v1h-1zM6 0h1v1h-1zM5 2h1v1h-1zM6 2h1v1h-1zM1 3h1v1h-1zM-1 4h1v1h-1zM0 4h1v1h-1zM1 4h1v1h-1zM-1 5h1v1h-1zM0 5h1v1h-1zM1 5h1v1h-1zM-1 6h1v1h-1zM0 6h1v1h-1zM1 6h1v1h-1z"/><path fill="#b90000" d="M3 1h1v1h-1zM1 2h1v1h-1zM2 2h1v1h-1zM3 2h1v1h-1zM3 3h1v1h-1zM5 3h1v1h-1zM6 3h1v1h-1z"/><path fill="#80ff80" d="M4 1h1v1h-1zM5 1h1v1h-1zM6 1h1v1h-1zM-1 3h1v1h-1zM0 3h1v1h-1zM2 4h1v1h-1zM4 4h1v1h-1zM5 4h1v1h-1zM6 4h1v1h-1zM2 5h1v1h-1zM2 6h1v1h-1z"/><path fill="#20ffdf" d="M3 4h1v1h-1zM3 5h1v1h-1zM3 6h1v1h-1z"/><path fill="#00bdff" d="M4 5h1v1h-1zM5 5h1v1h-1zM6 5h1v1h-1zM4 6h1v1h-1zM5 6h1v1h-1zM6 6h1v1h-1z"/></g></g><use href="#ol" transform="translate(118.1 305.6) scale(66.0 71.3)"/><path d="M118.1 305.6h66.0l-1.4 71.3H118.1z" fill="none" stroke="#444" stroke-width="1"/>
<g transform="translate(197.3 305.6) scale(11.0000 11.8833)" clip-path="url(#k6)"><g filter="url(#f6)"><path fill="#ff0200" d="M-1 -1h1v1h-1zM0 -1h1v1h-1zM-1 0h1v1h-1zM0 0h1v1h-1zM4 2h1v1h-1z"/><path fill="#ffc700" d="M1 -1h1v1h-1zM3 -1h1v1h-1zM5 -1h1v1h-1zM6 -1h1v1h-1zM1 0h1v1h-1zM3 0h1v1h-1zM5 0h1v1h-1zM6 0h1v1h-1zM4 1h1v1h-1zM5 2h1v1h-1zM6 2h1v1h-1zM4 3h1v1h-1zM2 4h1v1h-1z"/><path fill="#ff4c00" d="M2 -1h1v1h-1zM2 0h1v1h-1zM-1 1h1v1h-1zM0 1h1v1h-1zM5 1h1v1h-1zM6 1h1v1h-1zM1 2h1v1h-1zM3 2h1v1h-1zM2 3h1v1h-1z"/><path fill="#dbff24" d="M4 -1h1v1h-1zM4 0h1v1h-1zM1 1h1v1h-1zM3 1h1v1h-1zM-1 2h1v1h-1zM0 2h1v1h-1zM1 3h1v1h-1zM3 3h1v1h-1zM3 4h1v1h-1zM4 4h1v1h-1zM5 4h1v1h-1zM6 4h1v1h-1zM2 5h1v1h-1zM2 6h1v1h-1z"/><path fill="#b90000" d="M2 1h1v1h-1zM2 2h1v1h-1zM5 3h1v1h-1zM6 3h1v1h-1z"/><path fill="#80ff80" d="M-1 3h1v1h-1zM0 3h1v1h-1zM1 4h1v1h-1zM1 5h1v1h-1zM4 5h1v1h-1zM1 6h1v1h-1zM4 6h1v1h-1z"/><path fill="#20ffdf" d="M-1 4h1v1h-1zM0 4h1v1h-1zM-1 5h1v1h-1zM0 5h1v1h-1zM3 5h1v1h-1zM5 5h1v1h-1zM6 5h1v1h-1zM-1 6h1v1h-1zM0 6h1v1h-1zM3 6h1v1h-1zM5 6h1v1h-1zM6 6h1v1h-1z"/></g></g><use href="#ol" transform="translate(197.3 305.6) scale(66.0 71.3)"/><path d="M197.3 305.6h66.0l-1.4 71.3H197.3z" fill="none" stroke="#444" stroke-width="1"/>
<g transform="translate(278.0 305.6) scale(11.0000 11.8833)" clip-path="url(#k6)"><g filter="url(#f6)"><path fill="#ff0200" d="M-1 -1h1v1h-1zM0 -1h1v1h-1zM3 -1h1v1h-1zM4 -1h1v1h-1zM-1 0h1v1h-1zM0 0h1v1h-1zM3 0h1v1h-1zM4 0h1v1h-1zM2 2h1v1h-1z"/><path fill="#ff4c00" d="M1 -1h1v1h-1zM5 -1h1v1h-1zM6 -1h1v1h-1zM1 0h1v1h-1zM5 0h1v1h-1zM6 0h1v1h-1zM-1 1h1v1h-1zM0 1h1v1h-1zM-1 2h1v1h-1zM0 2h1v1h-1zM-1 3h1v1h-1zM0 3h1v1h-1z"/><path fill="#b90000" d="M2 -1h1v1h-1zM2 0h1v1h-1zM1 1h1v1h-1zM3 1h1v1h-1z"/><path fill="#800000" d="M2 1h1v1h-1z"/><path fill="#ffc700" d="M4 1h1v1h-1zM5 1h1v1h-1zM6 1h1v1h-1zM4 2h1v1h-1zM5 2h1v1h-1zM6 2h1v1h-1zM3 3h1v1h-1zM4 3h1v1h-1z"/><path fill="#dbff24" d="M1 2h1v1h-1zM3 2h1v1h-1zM2 3h1v1h-1z"/><path fill="#80ff80" d="M1 3h1v1h-1zM5 3h1v1h-1zM6 3h1v1h-1z"/><path fill="#00bdff" d="M-1 4h1v1h-1zM0 4h1v1h-1zM1 4h1v1h-1zM2 4h1v1h-1zM5 4h1v1h-1zM6 4h1v1h-1z"/><path fill="#20ffdf" d="M3 4h1v1h-1zM4 4h1v1h-1z"/><path fill="#005aff" d="M-1 5h1v1h-1zM0 5h1v1h-1zM1 5h1v1h-1zM2 5h1v1h-1zM4 5h1v1h-1zM5 5h1v1h-1zM6 5h1v1h-1zM-1 6h1v1h-1zM0 6h1v1h-1zM1 6h1v1h-1zM2 6h1v1h-1zM4 6h1v1h-1zM5 6h1v1h-1zM6 6h1v1h-1z"/><path fill="#0016ff" d="M3 5h1v1h-1zM3 6h1v1h-1z"/></g></g><use href="#ol" transform="translate(278.0 305.6) scale(66.0 71.3)"/><path d="M278.0 305.6h66.0l-1.4 71.3H278.0z" fill="none" stroke="#444" stroke-width="1"/>
<g transform="translate(358.9 305.6) scale(11.0000 11.8833)" clip-path="url(#k6)"><g filter="url(#f6)"><path fill="#00bdff" d="M-1 -1h1v1h-1zM0 -1h1v1h-1zM-1 0h1v1h-1zM0 0h1v1h-1zM3 1h1v1h-1z"/><path fill="#005aff" d="M1 -1h1v1h-1zM3 -1h1v1h-1zM1 0h1v1h-1zM3 0h1v1h-1zM-1 1h1v1h-1zM0 1h1v1h-1zM2 1h1v1h-1z"/><path fill="#0016ff" d="M2 -1h1v1h-1zM2 0h1v1h-1zM1 1h1v1h-1zM3 2h1v1h-1zM4 2h1v1h-1zM5 2h1v1h-1zM6 2h1v1h-1zM3 3h1v1h-1zM4 3h1v1h-1z"/><path fill="#dbff24" d="M4 -1h1v1h-1zM4 0h1v1h-1z"/><path fill="#80ff80" d="M5 -1h1v1h-1zM6 -1h1v1h-1zM5 0h1v1h-1zM6 0h1v1h-1z"/><path fill="#20ffdf" d="M4 1h1v1h-1zM5 1h1v1h-1zM6 1h1v1h-1z"/><path fill="#0000d4" d="M-1 2h1v1h-1zM0 2h1v1h-1zM1 2h1v1h-1zM2 2h1v1h-1zM1 3h1v1h-1zM2 3h1v1h-1zM5 3h1v1h-1zM6 3h1v1h-1zM2 4h1v1h-1zM3 4h1v1h-1zM4 4h1v1h-1zM5 4h1v1h-1zM6 4h1v1h-1zM4 5h1v1h-1zM5 5h1v1h-1zM6 5h1v1h-1zM4 6h1v1h-1zM5 6h1v1h-1zM6 6h1v1h-1z"/><path fill="#0000b9" d="M-1 3h1v1h-1zM0 3h1v1h-1zM-1 4h1v1h-1zM0 4h1v1h-1zM1 4h1v1h-1zM-1 5h1v1h-1zM0 5h1v1h-1zM1 5h1v1h-1zM2 5h1v1h-1zM3 5h1v1h-1zM-1 6h1v1h-1zM0 6h1v1h-1zM1 6h1v1h-1zM2 6h1v1h-1zM3 6h1v1h-1z"/></g></g><use href="#ol" transform="translate(358.9 305.6) scale(66.0 71.3)"/><path d="M358.9 305.6h66.0l-1.4 71.3H358.9z" fill="none" stroke="#444" stroke-width="1"/>
<g transform="translate(439.9 305.6) scale(22.0000 23.7667)" clip-path="url(#k3)"><g filter="url(#f3)"><path fill="#0000b9" d="M-1 -1h1v1h-1zM0 -1h1v1h-1zM1 -1h1v1h-1zM2 -1h1v1h-1zM3 -1h1v1h-1zM-1 0h1v1h-1zM0 0h1v1h-1zM1 0h1v1h-1zM2 0h1v1h-1zM3 0h1v1h-1zM-1 1h1v1h-1zM0 1h1v1h-1z"/><path fill="#0000a2" d="M1 1h1v1h-1zM2 1h1v1h-1zM3 1h1v1h-1zM-1 2h1v1h-1zM0 2h1v1h-1zM1 2h1v1h-1zM2 2h1v1h-1zM3 2h1v1h-1zM-1 3h1v1h-1zM0 3h1v1h-1zM1 3h1v1h-1zM2 3h1v1h-1zM3 3h1v1h-1z"/></g></g><use href="#ol" transform="translate(439.9 305.6) scale(66.0 71.3)"/><path d="M439.9 305.6h66.0l-1.4 71.3H439.9z" fill="none" stroke="#444" stroke-width="1"/>
<path d="M519.6 305.6h66.0l-1.4 71.3H519.6z" fill="#000094"/><use href="#ol" transform="translate(519.6 305.6) scale(66.0 71.3)"/><path d="M519.6 305.6h66.0l-1.4 71.3H519.6z" fill="none" stroke="#444" stroke-width="1"/>
<path d="M599.2 305.6h66.0l-1.4 71.3H599.2z" fill="#000094"/><use href="#ol" transform="translate(599.2 305.6) scale(66.0 71.3)"/><path d="M599.2 305.6h66.0l-1.4 71.3H599.2z" fill="none" stroke="#444" stroke-width="1"/>
<g transform="translate(679.6 305.6) scale(22.0000 23.7667)" clip-path="url(#k3)"><g filter="url(#f3)"><path fill="#0000d4" d="M-1 -1h1v1h-1zM0 -1h1v1h-1zM-1 0h1v1h-1zM0 0h1v1h-1z"/><path fill="#0000b9" d="M1 -1h1v1h-1zM1 0h1v1h-1zM1 1h1v1h-1z"/><path fill="#0000a2" d="M2 -1h1v1h-1zM3 -1h1v1h-1zM2 0h1v1h-1zM3 0h1v1h-1zM-1 1h1v1h-1zM0 1h1v1h-1z"/><path fill="#000094" d="M2 1h1v1h-1zM3 1h1v1h-1zM-1 2h1v1h-1zM0 2h1v1h-1zM1 2h1v1h-1zM2 2h1v1h-1zM3 2h1v1h-1zM-1 3h1v1h-1zM0 3h1v1h-1zM1 3h1v1h-1zM2 3h1v1h-1zM3 3h1v1h-1z"/></g></g><use href="#ol" transform="translate(679.6 305.6) scale(66.0 71.3)"/><path d="M679.6 305.6h66.0l-1.4 71.3H679.6z" fill="none" stroke="#444" stroke-width="1"/>
<g transform="translate(759.7 305.6) scale(16.5000 17.8250)" clip-path="url(#k4)"><g filter="url(#f4)"><path fill="#005aff" d="M-1 -1h1v1h-1zM0 -1h1v1h-1zM-1 0h1v1h-1zM0 0h1v1h-1z"/><path fill="#0000d4" d="M1 -1h1v1h-1zM3 -1h1v1h-1zM4 -1h1v1h-1zM1 0h1v1h-1zM3 0h1v1h-1zM4 0h1v1h-1zM-1 1h1v1h-1zM0 1h1v1h-1zM2 1h1v1h-1z"/><path fill="#0016ff" d="M2 -1h1v1h-1zM2 0h1v1h-1z"/><path fill="#0000b9" d="M1 1h1v1h-1zM3 1h1v1h-1zM4 1h1v1h-1zM-1 2h1v1h-1zM0 2h1v1h-1zM1 2h1v1h-1zM2 2h1v1h-1zM3 2h1v1h-1zM4 2h1v1h-1zM-1 3h1v1h-1zM0 3h1v1h-1zM1 3h1v1h-1zM2 3h1v1h-1zM3 3h1v1h-1zM4 3h1v1h-1zM-1 4h1v1h-1zM0 4h1v1h-1zM1 4h1v1h-1zM2 4h1v1h-1zM3 4h1v1h-1zM4 4h1v1h-1z"/></g></g><use href="#ol" transform="translate(759.7 305.6) scale(66.0 71.3)"/><path d="M759.7 305.6h66.0l-1.4 71.3H759.7z" fill="none" stroke="#444" stroke-width="1"/>
<g transform="translate(839.0 305.6) scale(11.0000 11.8833)" clip-path="url(#k6)"><g filter="url(#f6)"><path fill="#80ff80" d="M-1 -1h1v1h-1zM0 -1h1v1h-1zM-1 0h1v1h-1zM0 0h1v1h-1z"/><path fill="#20ffdf" d="M1 -1h1v1h-1zM1 0h1v1h-1zM-1 1h1v1h-1zM0 1h1v1h-1z"/><path fill="#00bdff" d="M2 -1h1v1h-1zM4 -1h1v1h-1zM5 -1h1v1h-1zM6 -1h1v1h-1zM2 0h1v1h-1zM4 0h1v1h-1zM5 0h1v1h-1zM6 0h1v1h-1z"/><path fill="#005aff" d="M3 -1h1v1h-1zM3 0h1v1h-1zM1 1h1v1h-1zM4 1h1v1h-1zM-1 2h1v1h-1zM0 2h1v1h-1zM2 4h1v1h-1z"/><path fill="#0016ff" d="M2 1h1v1h-1zM3 1h1v1h-1zM5 1h1v1h-1zM6 1h1v1h-1zM1 2h1v1h-1zM3 2h1v1h-1zM5 2h1v1h-1zM6 2h1v1h-1zM-1 3h1v1h-1zM0 3h1v1h-1zM1 3h1v1h-1zM2 3h1v1h-1zM4 3h1v1h-1zM-1 4h1v1h-1zM0 4h1v1h-1zM3 4h1v1h-1zM5 4h1v1h-1zM6 4h1v1h-1z"/><path fill="#0000f6" d="M2 2h1v1h-1zM4 2h1v1h-1zM3 3h1v1h-1zM5 3h1v1h-1zM6 3h1v1h-1zM1 4h1v1h-1zM4 4h1v1h-1zM-1 5h1v1h-1zM0 5h1v1h-1zM1 5h1v1h-1zM2 5h1v1h-1zM3 5h1v1h-1zM4 5h1v1h-1zM5 5h1v1h-1zM6 5h1v1h-1zM-1 6h1v1h-1zM0 6h1v1h-1zM1 6h1v1h-1zM2 6h1v1h-1zM3 6h1v1h-1zM4 6h1v1h-1zM5 6h1v1h-1zM6 6h1v1h-1z"/></g></g><use href="#ol" transform="translate(839.0 305.6) scale(66.0 71.3)"/><path d="M839.0 305.6h66.0l-1.4 71.3H839.0z" fill="none" stroke="#444" stroke-width="1"/>
<g transform="translate(919.3 305.6) scale(11.0000 11.8833)" clip-path="url(#k6)"><g filter="url(#f6)"><path fill="#ffc700" d="M-1 -1h1v1h-1zM0 -1h1v1h-1zM3 -1h1v1h-1zM-1 0h1v1h-1zM0 0h1v1h-1zM3 0h1v1h-1zM-1 1h1v1h-1zM0 1h1v1h-1zM3 1h1v1h-1zM4 1h1v1h-1z"/><path fill="#20ffdf" d="M1 -1h1v1h-1zM2 -1h1v1h-1zM1 0h1v1h-1zM2 0h1v1h-1zM2 1h1v1h-1zM2 2h1v1h-1zM3 2h1v1h-1zM5 2h1v1h-1zM6 2h1v1h-1zM4 3h1v1h-1zM5 3h1v1h-1zM6 3h1v1h-1zM2 4h1v1h-1zM3 4h1v1h-1zM4 4h1v1h-1z"/><path fill="#ff0200" d="M4 -1h1v1h-1zM4 0h1v1h-1z"/><path fill="#80ff80" d="M5 -1h1v1h-1zM6 -1h1v1h-1zM5 0h1v1h-1zM6 0h1v1h-1zM5 1h1v1h-1zM6 1h1v1h-1zM4 2h1v1h-1z"/><path fill="#00bdff" d="M1 1h1v1h-1zM-1 2h1v1h-1zM0 2h1v1h-1zM1 2h1v1h-1zM2 3h1v1h-1zM-1 4h1v1h-1zM0 4h1v1h-1zM1 4h1v1h-1zM5 4h1v1h-1zM6 4h1v1h-1zM3 5h1v1h-1zM3 6h1v1h-1z"/><path fill="#005aff" d="M-1 3h1v1h-1zM0 3h1v1h-1zM1 3h1v1h-1zM3 3h1v1h-1zM1 5h1v1h-1zM2 5h1v1h-1zM4 5h1v1h-1zM5 5h1v1h-1zM6 5h1v1h-1zM1 6h1v1h-1zM2 6h1v1h-1zM4 6h1v1h-1zM5 6h1v1h-1zM6 6h1v1h-1z"/><path fill="#0016ff" d="M-1 5h1v1h-1zM0 5h1v1h-1zM-1 6h1v1h-1zM0 6h1v1h-1z"/></g></g><use href="#ol" transform="translate(919.3 305.6) scale(66.0 71.3)"/><path d="M919.3 305.6h66.0l-1.4 71.3H919.3z" fill="none" stroke="#444" stroke-width="1"/>
<g transform="translate(999.7 305.6) scale(11.0000 11.8833)" clip-path="url(#k6)"><g filter="url(#f6)"><path fill="#b90000" d="M-1 -1h1v1h-1zM0 -1h1v1h-1zM-1 0h1v1h-1zM0 0h1v1h-1zM5 3h1v1h-1zM6 3h1v1h-1z"/><path fill="#ffc700" d="M1 -1h1v1h-1zM1 0h1v1h-1zM1 1h1v1h-1zM4 1h1v1h-1zM1 2h1v1h-1zM4 2h1v1h-1zM-1 3h1v1h-1zM0 3h1v1h-1z"/><path fill="#ff0200" d="M2 -1h1v1h-1zM3 -1h1v1h-1zM4 -1h1v1h-1zM2 0h1v1h-1zM3 0h1v1h-1zM4 0h1v1h-1zM-1 2h1v1h-1zM0 2h1v1h-1z"/><path fill="#ff4c00" d="M5 -1h1v1h-1zM6 -1h1v1h-1zM5 0h1v1h-1zM6 0h1v1h-1zM-1 1h1v1h-1zM0 1h1v1h-1zM3 1h1v1h-1zM5 1h1v1h-1zM6 1h1v1h-1zM5 2h1v1h-1zM6 2h1v1h-1zM4 3h1v1h-1zM5 4h1v1h-1zM6 4h1v1h-1z"/><path fill="#dbff24" d="M2 1h1v1h-1zM1 3h1v1h-1zM2 3h1v1h-1zM3 3h1v1h-1zM4 4h1v1h-1z"/><path fill="#80ff80" d="M2 2h1v1h-1zM3 2h1v1h-1zM-1 4h1v1h-1zM0 4h1v1h-1zM3 4h1v1h-1zM5 5h1v1h-1zM6 5h1v1h-1zM5 6h1v1h-1zM6 6h1v1h-1z"/><path fill="#20ffdf" d="M1 4h1v1h-1zM2 4h1v1h-1zM4 5h1v1h-1zM4 6h1v1h-1z"/><path fill="#005aff" d="M-1 5h1v1h-1zM0 5h1v1h-1zM1 5h1v1h-1zM-1 6h1v1h-1zM0 6h1v1h-1zM1 6h1v1h-1z"/><path fill="#00bdff" d="M2 5h1v1h-1zM3 5h1v1h-1zM2 6h1v1h-1zM3 6h1v1h-1z"/></g></g><use href="#ol" transform="translate(999.7 305.6) scale(66.0 71.3)"/><path d="M999.7 305.6h66.0l-1.4 71.3H999.7z" fill="none" stroke="#444" stroke-width="1"/>
<g transform="translate(118.1 387.2) scale(11.0000 11.8833)" clip-path="url(#k6)"><g filter="url(#f6)"><path fill="#ffc700" d="M-1 -1h1v1h-1zM0 -1h1v1h-1zM1 -1h1v1h-1zM-1 0h1v1h-1zM0 0h1v1h-1zM1 0h1v1h-1zM-1 1h1v1h-1zM0 1h1v1h-1zM3 1h1v1h-1zM4 1h1v1h-1zM-1 2h1v1h-1zM0 2h1v1h-1zM4 2h1v1h-1zM3 4h1v1h-1zM5 4h1v1h-1zM6 4h1v1h-1zM4 5h1v1h-1zM5 5h1v1h-1zM6 5h1v1h-1zM4 6h1v1h-1zM5 6h1v1h-1zM6 6h1v1h-1z"/><path fill="#ff0200" d="M2 -1h1v1h-1zM5 -1h1v1h-1zM6 -1h1v1h-1zM2 0h1v1h-1zM5 0h1v1h-1zM6 0h1v1h-1zM3 2h1v1h-1zM5 2h1v1h-1zM6 2h1v1h-1z"/><path fill="#ff4c00" d="M3 -1h1v1h-1zM4 -1h1v1h-1zM3 0h1v1h-1zM4 0h1v1h-1zM1 1h1v1h-1zM1 3h1v1h-1zM3 3h1v1h-1zM4 3h1v1h-1z"/><path fill="#800000" d="M2 1h1v1h-1zM1 2h1v1h-1zM2 2h1v1h-1z"/><path fill="#b90000" d="M5 1h1v1h-1zM6 1h1v1h-1zM2 3h1v1h-1zM5 3h1v1h-1zM6 3h1v1h-1z"/><path fill="#80ff80" d="M-1 3h1v1h-1zM0 3h1v1h-1zM-1 4h1v1h-1zM0 4h1v1h-1zM1 5h1v1h-1zM1 6h1v1h-1z"/><path fill="#dbff24" d="M1 4h1v1h-1zM2 4h1v1h-1zM4 4h1v1h-1zM2 5h1v1h-1zM3 5h1v1h-1zM2 6h1v1h-1zM3 6h1v1h-1z"/><path fill="#005aff" d="M-1 5h1v1h-1zM0 5h1v1h-1zM-1 6h1v1h-1zM0 6h1v1h-1z"/></g></g><use href="#ol" transform="translate(118.1 387.2) scale(66.0 71.3)"/><path d="M118.1 387.2h66.0l-1.4 71.3H118.1z" fill="none" stroke="#444" stroke-width="1"/>
<g transform="translate(197.3 387.2) scale(11.0000 11.8833)" clip-path="url(#k6)"><g filter="url(#f6)"><path fill="#20ffdf" d="M-1 -1h1v1h-1zM0 -1h1v1h-1zM-1 0h1v1h-1zM0 0h1v1h-1zM1 1h1v1h-1zM-1 2h1v1h-1zM0 2h1v1h-1zM1 2h1v1h-1zM-1 4h1v1h-1zM0 4h1v1h-1zM1 4h1v1h-1zM2 4h1v1h-1zM4 4h1v1h-1zM5 4h1v1h-1zM6 4h1v1h-1z"/><path fill="#80ff80" d="M1 -1h1v1h-1zM4 -1h1v1h-1zM1 0h1v1h-1zM4 0h1v1h-1zM4 1h1v1h-1zM5 1h1v1h-1zM6 1h1v1h-1zM4 2h1v1h-1zM5 2h1v1h-1zM6 2h1v1h-1zM-1 3h1v1h-1zM0 3h1v1h-1zM1 3h1v1h-1zM5 3h1v1h-1zM6 3h1v1h-1zM3 4h1v1h-1z"/><path fill="#ff4c00" d="M2 -1h1v1h-1zM3 -1h1v1h-1zM2 0h1v1h-1zM3 0h1v1h-1zM3 2h1v1h-1zM2 3h1v1h-1z"/><path fill="#00bdff" d="M5 -1h1v1h-1zM6 -1h1v1h-1zM5 0h1v1h-1zM6 0h1v1h-1zM-1 1h1v1h-1zM0 1h1v1h-1z"/><path fill="#ff0200" d="M2 1h1v1h-1z"/><path fill="#ffc700" d="M3 1h1v1h-1zM4 3h1v1h-1z"/><path fill="#dbff24" d="M2 2h1v1h-1z"/><path fill="#b90000" d="M3 3h1v1h-1z"/><path fill="#0016ff" d="M-1 5h1v1h-1zM0 5h1v1h-1zM1 5h1v1h-1zM4 5h1v1h-1zM-1 6h1v1h-1zM0 6h1v1h-1zM1 6h1v1h-1zM4 6h1v1h-1z"/><path fill="#005aff" d="M2 5h1v1h-1zM3 5h1v1h-1zM5 5h1v1h-1zM6 5h1v1h-1zM2 6h1v1h-1zM3 6h1v1h-1zM5 6h1v1h-1zM6 6h1v1h-1z"/></g></g><use href="#ol" transform="translate(197.3 387.2) scale(66.0 71.3)"/><path d="M197.3 387.2h66.0l-1.4 71.3H197.3z" fill="none" stroke="#444" stroke-width="1"/>
<g transform="translate(278.0 387.2) scale(11.0000 11.8833)" clip-path="url(#k6)"><g filter="url(#f6)"><path fill="#ff4c00" d="M-1 -1h1v1h-1zM0 -1h1v1h-1zM2 -1h1v1h-1zM5 -1h1v1h-1zM6 -1h1v1h-1zM-1 0h1v1h-1zM0 0h1v1h-1zM2 0h1v1h-1zM5 0h1v1h-1zM6 0h1v1h-1zM3 3h1v1h-1z"/><path fill="#dbff24" d="M1 -1h1v1h-1zM1 0h1v1h-1zM1 2h1v1h-1zM2 2h1v1h-1z"/><path fill="#ffc700" d="M3 -1h1v1h-1zM3 0h1v1h-1zM5 2h1v1h-1zM6 2h1v1h-1zM4 3h1v1h-1z"/><path fill="#ff0200" d="M4 -1h1v1h-1zM4 0h1v1h-1zM1 1h1v1h-1zM5 1h1v1h-1zM6 1h1v1h-1zM3 2h1v1h-1zM4 2h1v1h-1z"/><path fill="#b90000" d="M-1 1h1v1h-1zM0 1h1v1h-1zM-1 2h1v1h-1zM0 2h1v1h-1z"/><path fill="#800000" d="M2 1h1v1h-1zM3 1h1v1h-1zM4 1h1v1h-1z"/><path fill="#20ffdf" d="M-1 3h1v1h-1zM0 3h1v1h-1z"/><path fill="#80ff80" d="M1 3h1v1h-1zM2 3h1v1h-1z"/><path fill="#00bdff" d="M5 3h1v1h-1zM6 3h1v1h-1zM-1 4h1v1h-1zM0 4h1v1h-1zM3 4h1v1h-1z"/><path fill="#005aff" d="M1 4h1v1h-1zM2 4h1v1h-1zM4 4h1v1h-1zM5 4h1v1h-1zM6 4h1v1h-1zM-1 5h1v1h-1zM0 5h1v1h-1zM-1 6h1v1h-1zM0 6h1v1h-1z"/><path fill="#0016ff" d="M1 5h1v1h-1zM2 5h1v1h-1zM3 5h1v1h-1zM4 5h1v1h-1zM5 5h1v1h-1zM6 5h1v1h-1zM1 6h1v1h-1zM2 6h1v1h-1zM3 6h1v1h-1zM4 6h1v1h-1zM5 6h1v1h-1zM6 6h1v1h-1z"/></g></g><use href="#ol" transform="translate(278.0 387.2) scale(66.0 71.3)"/><path d="M278.0 387.2h66.0l-1.4 71.3H278.0z" fill="none" stroke="#444" stroke-width="1"/>
<g transform="translate(358.9 387.2) scale(11.0000 11.8833)" clip-path="url(#k6)"><g filter="url(#f6)"><path fill="#005aff" d="M-1 -1h1v1h-1zM0 -1h1v1h-1zM1 -1h1v1h-1zM3 -1h1v1h-1zM5 -1h1v1h-1zM6 -1h1v1h-1zM-1 0h1v1h-1zM0 0h1v1h-1zM1 0h1v1h-1zM3 0h1v1h-1zM5 0h1v1h-1zM6 0h1v1h-1zM-1 1h1v1h-1zM0 1h1v1h-1zM5 1h1v1h-1zM6 1h1v1h-1zM-1 2h1v1h-1zM0 2h1v1h-1zM-1 3h1v1h-1zM0 3h1v1h-1z"/><path fill="#00bdff" d="M2 -1h1v1h-1zM2 0h1v1h-1zM1 1h1v1h-1zM4 1h1v1h-1z"/><path fill="#0016ff" d="M4 -1h1v1h-1zM4 0h1v1h-1zM1 2h1v1h-1zM2 2h1v1h-1zM3 2h1v1h-1zM5 2h1v1h-1zM6 2h1v1h-1zM-1 4h1v1h-1zM0 4h1v1h-1z"/><path fill="#20ffdf" d="M2 1h1v1h-1zM3 1h1v1h-1z"/><path fill="#0000f6" d="M4 2h1v1h-1zM1 3h1v1h-1zM2 3h1v1h-1zM3 3h1v1h-1zM5 3h1v1h-1zM6 3h1v1h-1zM1 4h1v1h-1zM2 4h1v1h-1zM4 4h1v1h-1zM1 5h1v1h-1zM2 5h1v1h-1zM4 5h1v1h-1zM1 6h1v1h-1zM2 6h1v1h-1zM4 6h1v1h-1z"/><path fill="#0000d4" d="M4 3h1v1h-1zM3 4h1v1h-1zM5 4h1v1h-1zM6 4h1v1h-1zM-1 5h1v1h-1zM0 5h1v1h-1zM3 5h1v1h-1zM5 5h1v1h-1zM6 5h1v1h-1zM-1 6h1v1h-1zM0 6h1v1h-1zM3 6h1v1h-1zM5 6h1v1h-1zM6 6h1v1h-1z"/></g></g><use href="#ol" transform="translate(358.9 387.2) scale(66.0 71.3)"/><path d="M358.9 387.2h66.0l-1.4 71.3H358.9z" fill="none" stroke="#444" stroke-width="1"/>
<g transform="translate(439.9 387.2) scale(22.0000 23.7667)" clip-path="url(#k3)"><g filter="url(#f3)"><path fill="#0000b9" d="M-1 -1h1v1h-1zM0 -1h1v1h-1zM1 -1h1v1h-1zM-1 0h1v1h-1zM0 0h1v1h-1zM1 0h1v1h-1zM-1 1h1v1h-1zM0 1h1v1h-1zM1 1h1v1h-1zM1 2h1v1h-1zM2 2h1v1h-1zM3 2h1v1h-1zM1 3h1v1h-1zM2 3h1v1h-1zM3 3h1v1h-1z"/><path fill="#0000a2" d="M2 -1h1v1h-1zM3 -1h1v1h-1zM2 0h1v1h-1zM3 0h1v1h-1zM2 1h1v1h-1zM3 1h1v1h-1z"/><path fill="#0000d4" d="M-1 2h1v1h-1zM0 2h1v1h-1zM-1 3h1v1h-1zM0 3h1v1h-1z"/></g></g><use href="#ol" transform="translate(439.9 387.2) scale(66.0 71.3)"/><path d="M439.9 387.2h66.0l-1.4 71.3H439.9z" fill="none" stroke="#444" stroke-width="1"/>
<path d="M519.6 387.2h66.0l-1.4 71.3H519.6z" fill="#000094"/><use href="#ol" transform="translate(519.6 387.2) scale(66.0 71.3)"/><path d="M519.6 387.2h66.0l-1.4 71.3H519.6z" fill="none" stroke="#444" stroke-width="1"/>
<path d="M599.2 387.2h66.0l-1.4 71.3H599.2z" fill="#000094"/><use href="#ol" transform="translate(599.2 387.2) scale(66.0 71.3)"/><path d="M599.2 387.2h66.0l-1.4 71.3H599.2z" fill="none" stroke="#444" stroke-width="1"/>
<g transform="translate(679.6 385.0) scale(22.0000 23.7667)" clip-path="url(#k3)"><g filter="url(#f3)"><path fill="#0000d4" d="M-1 -1h1v1h-1zM0 -1h1v1h-1zM-1 0h1v1h-1zM0 0h1v1h-1z"/><path fill="#0000b9" d="M1 -1h1v1h-1zM2 -1h1v1h-1zM3 -1h1v1h-1zM1 0h1v1h-1zM2 0h1v1h-1zM3 0h1v1h-1zM1 1h1v1h-1z"/><path fill="#0000a2" d="M-1 1h1v1h-1zM0 1h1v1h-1zM2 1h1v1h-1zM3 1h1v1h-1z"/><path fill="#000094" d="M-1 2h1v1h-1zM0 2h1v1h-1zM1 2h1v1h-1zM2 2h1v1h-1zM3 2h1v1h-1zM-1 3h1v1h-1zM0 3h1v1h-1zM1 3h1v1h-1zM2 3h1v1h-1zM3 3h1v1h-1z"/></g></g><use href="#ol" transform="translate(679.6 385.0) scale(66.0 71.3)"/><path d="M679.6 385.0h66.0l-1.4 71.3H679.6z" fill="none" stroke="#444" stroke-width="1"/>
<g transform="translate(759.7 384.6) scale(16.5000 17.8250)" clip-path="url(#k4)"><g filter="url(#f4)"><path fill="#005aff" d="M-1 -1h1v1h-1zM0 -1h1v1h-1zM-1 0h1v1h-1zM0 0h1v1h-1z"/><path fill="#0000d4" d="M1 -1h1v1h-1zM3 -1h1v1h-1zM4 -1h1v1h-1zM1 0h1v1h-1zM3 0h1v1h-1zM4 0h1v1h-1zM-1 1h1v1h-1zM0 1h1v1h-1z"/><path fill="#0000b9" d="M2 -1h1v1h-1zM2 0h1v1h-1zM1 1h1v1h-1zM2 1h1v1h-1zM3 1h1v1h-1zM4 1h1v1h-1zM-1 2h1v1h-1zM0 2h1v1h-1zM1 2h1v1h-1zM2 2h1v1h-1zM3 2h1v1h-1zM4 2h1v1h-1zM-1 3h1v1h-1zM0 3h1v1h-1zM1 3h1v1h-1zM2 3h1v1h-1zM3 3h1v1h-1zM4 3h1v1h-1zM-1 4h1v1h-1zM0 4h1v1h-1zM1 4h1v1h-1zM2 4h1v1h-1zM3 4h1v1h-1zM4 4h1v1h-1z"/></g></g><use href="#ol" transform="translate(759.7 384.6) scale(66.0 71.3)"/><path d="M759.7 384.6h66.0l-1.4 71.3H759.7z" fill="none" stroke="#444" stroke-width="1"/>
<g transform="translate(839.0 387.2) scale(11.0000 11.8833)" clip-path="url(#k6)"><g filter="url(#f6)"><path fill="#80ff80" d="M-1 -1h1v1h-1zM0 -1h1v1h-1zM-1 0h1v1h-1zM0 0h1v1h-1z"/><path fill="#00bdff" d="M1 -1h1v1h-1zM5 -1h1v1h-1zM6 -1h1v1h-1zM1 0h1v1h-1zM5 0h1v1h-1zM6 0h1v1h-1zM-1 1h1v1h-1zM0 1h1v1h-1zM1 1h1v1h-1zM1 2h1v1h-1zM2 2h1v1h-1z"/><path fill="#005aff" d="M2 -1h1v1h-1zM4 -1h1v1h-1zM2 0h1v1h-1zM4 0h1v1h-1zM2 1h1v1h-1zM4 1h1v1h-1zM5 1h1v1h-1zM6 1h1v1h-1zM-1 2h1v1h-1zM0 2h1v1h-1zM3 2h1v1h-1zM1 3h1v1h-1zM2 3h1v1h-1zM3 3h1v1h-1zM5 3h1v1h-1zM6 3h1v1h-1z"/><path fill="#0016ff" d="M3 -1h1v1h-1zM3 0h1v1h-1zM3 1h1v1h-1zM4 2h1v1h-1zM5 2h1v1h-1zM6 2h1v1h-1zM-1 3h1v1h-1zM0 3h1v1h-1zM4 3h1v1h-1zM-1 4h1v1h-1zM0 4h1v1h-1zM2 4h1v1h-1zM4 4h1v1h-1z"/><path fill="#0000f6" d="M1 4h1v1h-1zM3 4h1v1h-1zM5 4h1v1h-1zM6 4h1v1h-1zM-1 5h1v1h-1zM0 5h1v1h-1zM1 5h1v1h-1zM2 5h1v1h-1zM3 5h1v1h-1zM4 5h1v1h-1zM5 5h1v1h-1zM6 5h1v1h-1zM-1 6h1v1h-1zM0 6h1v1h-1zM1 6h1v1h-1zM2 6h1v1h-1zM3 6h1v1h-1zM4 6h1v1h-1zM5 6h1v1h-1zM6 6h1v1h-1z"/></g></g><use href="#ol" transform="translate(839.0 387.2) scale(66.0 71.3)"/><path d="M839.0 387.2h66.0l-1.4 71.3H839.0z" fill="none" stroke="#444" stroke-width="1"/>
<g transform="translate(919.3 385.2) scale(11.0000 11.8833)" clip-path="url(#k6)"><g filter="url(#f6)"><path fill="#b90000" d="M-1 -1h1v1h-1zM0 -1h1v1h-1zM-1 0h1v1h-1zM0 0h1v1h-1z"/><path fill="#ff4c00" d="M1 -1h1v1h-1zM1 0h1v1h-1zM-1 1h1v1h-1zM0 1h1v1h-1z"/><path fill="#dbff24" d="M2 -1h1v1h-1zM2 0h1v1h-1zM1 1h1v1h-1zM5 1h1v1h-1zM6 1h1v1h-1z"/><path fill="#80ff80" d="M3 -1h1v1h-1zM5 -1h1v1h-1zM6 -1h1v1h-1zM3 0h1v1h-1zM5 0h1v1h-1zM6 0h1v1h-1zM5 2h1v1h-1zM6 2h1v1h-1z"/><path fill="#ffc700" d="M4 -1h1v1h-1zM4 0h1v1h-1zM2 1h1v1h-1zM3 1h1v1h-1zM4 1h1v1h-1z"/><path fill="#20ffdf" d="M-1 2h1v1h-1zM0 2h1v1h-1zM4 2h1v1h-1zM-1 3h1v1h-1zM0 3h1v1h-1zM4 3h1v1h-1zM5 3h1v1h-1zM6 3h1v1h-1zM2 4h1v1h-1zM3 4h1v1h-1z"/><path fill="#00bdff" d="M1 2h1v1h-1zM2 2h1v1h-1zM3 2h1v1h-1zM1 3h1v1h-1zM3 3h1v1h-1zM-1 4h1v1h-1zM0 4h1v1h-1zM1 4h1v1h-1zM4 4h1v1h-1zM5 4h1v1h-1zM6 4h1v1h-1z"/><path fill="#005aff" d="M2 3h1v1h-1zM3 5h1v1h-1zM4 5h1v1h-1zM5 5h1v1h-1zM6 5h1v1h-1zM3 6h1v1h-1zM4 6h1v1h-1zM5 6h1v1h-1zM6 6h1v1h-1z"/><path fill="#0016ff" d="M-1 5h1v1h-1zM0 5h1v1h-1zM1 5h1v1h-1zM2 5h1v1h-1zM-1 6h1v1h-1zM0 6h1v1h-1zM1 6h1v1h-1zM2 6h1v1h-1z"/></g></g><use href="#ol" transform="translate(919.3 385.2) scale(66.0 71.3)"/><path d="M919.3 385.2h66.0l-1.4 71.3H919.3z" fill="none" stroke="#444" stroke-width="1"/>
<g transform="translate(999.7 386.2) scale(11.0000 11.8833)" clip-path="url(#k6)"><g filter="url(#f6)"><path fill="#ffc700" d="M-1 -1h1v1h-1zM0 -1h1v1h-1zM2 -1h1v1h-1zM-1 0h1v1h-1zM0 0h1v1h-1zM2 0h1v1h-1zM4 1h1v1h-1zM-1 2h1v1h-1zM0 2h1v1h-1zM1 4h1v1h-1zM-1 5h1v1h-1zM0 5h1v1h-1zM3 5h1v1h-1zM5 5h1v1h-1zM6 5h1v1h-1zM-1 6h1v1h-1zM0 6h1v1h-1zM3 6h1v1h-1zM5 6h1v1h-1zM6 6h1v1h-1z"/><path fill="#dbff24" d="M1 -1h1v1h-1zM5 -1h1v1h-1zM6 -1h1v1h-1zM1 0h1v1h-1zM5 0h1v1h-1zM6 0h1v1h-1zM-1 3h1v1h-1zM0 3h1v1h-1zM-1 4h1v1h-1zM0 4h1v1h-1zM1 5h1v1h-1zM1 6h1v1h-1z"/><path fill="#80ff80" d="M3 -1h1v1h-1zM3 0h1v1h-1zM2 5h1v1h-1zM2 6h1v1h-1z"/><path fill="#ff4c00" d="M4 -1h1v1h-1zM4 0h1v1h-1zM-1 1h1v1h-1zM0 1h1v1h-1zM3 2h1v1h-1zM1 3h1v1h-1zM5 4h1v1h-1zM6 4h1v1h-1zM4 5h1v1h-1zM4 6h1v1h-1z"/><path fill="#b90000" d="M1 1h1v1h-1zM2 1h1v1h-1zM3 1h1v1h-1zM1 2h1v1h-1zM5 2h1v1h-1zM6 2h1v1h-1zM3 3h1v1h-1zM5 3h1v1h-1zM6 3h1v1h-1zM3 4h1v1h-1z"/><path fill="#ff0200" d="M5 1h1v1h-1zM6 1h1v1h-1zM2 2h1v1h-1zM4 2h1v1h-1zM2 4h1v1h-1z"/><path fill="#800000" d="M2 3h1v1h-1zM4 3h1v1h-1zM4 4h1v1h-1z"/></g></g><use href="#ol" transform="translate(999.7 386.2) scale(66.0 71.3)"/><path d="M999.7 386.2h66.0l-1.4 71.3H999.7z" fill="none" stroke="#444" stroke-width="1"/>
<g transform="translate(118.1 469.1) scale(11.0000 11.8833)" clip-path="url(#k6)"><g filter="url(#f6)"><path fill="#80ff80" d="M-1 -1h1v1h-1zM0 -1h1v1h-1zM-1 0h1v1h-1zM0 0h1v1h-1zM-1 4h1v1h-1zM0 4h1v1h-1zM1 5h1v1h-1zM1 6h1v1h-1z"/><path fill="#ffc700" d="M1 -1h1v1h-1zM1 0h1v1h-1zM1 1h1v1h-1zM5 2h1v1h-1zM6 2h1v1h-1zM3 3h1v1h-1zM3 4h1v1h-1zM5 4h1v1h-1zM6 4h1v1h-1zM2 5h1v1h-1zM5 5h1v1h-1zM6 5h1v1h-1zM2 6h1v1h-1zM5 6h1v1h-1zM6 6h1v1h-1z"/><path fill="#800000" d="M2 -1h1v1h-1zM2 0h1v1h-1zM3 1h1v1h-1zM2 2h1v1h-1z"/><path fill="#ff4c00" d="M3 -1h1v1h-1zM4 -1h1v1h-1zM3 0h1v1h-1zM4 0h1v1h-1zM4 2h1v1h-1zM-1 3h1v1h-1zM0 3h1v1h-1z"/><path fill="#ff0200" d="M5 -1h1v1h-1zM6 -1h1v1h-1zM5 0h1v1h-1zM6 0h1v1h-1zM2 1h1v1h-1zM5 1h1v1h-1zM6 1h1v1h-1zM1 2h1v1h-1zM2 3h1v1h-1z"/><path fill="#b90000" d="M-1 1h1v1h-1zM0 1h1v1h-1zM4 1h1v1h-1zM3 2h1v1h-1z"/><path fill="#dbff24" d="M-1 2h1v1h-1zM0 2h1v1h-1zM1 3h1v1h-1zM4 3h1v1h-1zM5 3h1v1h-1zM6 3h1v1h-1zM1 4h1v1h-1zM2 4h1v1h-1zM4 4h1v1h-1zM3 5h1v1h-1zM4 5h1v1h-1zM3 6h1v1h-1zM4 6h1v1h-1z"/><path fill="#005aff" d="M-1 5h1v1h-1zM0 5h1v1h-1zM-1 6h1v1h-1zM0 6h1v1h-1z"/></g></g><use href="#ol" transform="translate(118.1 469.1) scale(66.0 71.3)"/><path d="M118.1 469.1h66.0l-1.4 71.3H118.1z" fill="none" stroke="#444" stroke-width="1"/>
<g transform="translate(197.3 469.1) scale(11.0000 11.8833)" clip-path="url(#k6)"><g filter="url(#f6)"><path fill="#ff4c00" d="M-1 -1h1v1h-1zM0 -1h1v1h-1zM4 -1h1v1h-1zM-1 0h1v1h-1zM0 0h1v1h-1zM4 0h1v1h-1zM3 1h1v1h-1zM-1 2h1v1h-1zM0 2h1v1h-1zM4 2h1v1h-1zM5 2h1v1h-1zM6 2h1v1h-1z"/><path fill="#dbff24" d="M1 -1h1v1h-1zM3 -1h1v1h-1zM1 0h1v1h-1zM3 0h1v1h-1zM1 1h1v1h-1zM3 2h1v1h-1zM1 5h1v1h-1zM1 6h1v1h-1z"/><path fill="#ff0200" d="M2 -1h1v1h-1zM2 0h1v1h-1zM-1 1h1v1h-1zM0 1h1v1h-1zM5 1h1v1h-1zM6 1h1v1h-1z"/><path fill="#ffc700" d="M5 -1h1v1h-1zM6 -1h1v1h-1zM5 0h1v1h-1zM6 0h1v1h-1zM4 1h1v1h-1zM2 2h1v1h-1z"/><path fill="#b90000" d="M2 1h1v1h-1z"/><path fill="#80ff80" d="M1 2h1v1h-1zM-1 3h1v1h-1zM0 3h1v1h-1zM4 3h1v1h-1zM5 3h1v1h-1zM6 3h1v1h-1zM-1 5h1v1h-1zM0 5h1v1h-1zM-1 6h1v1h-1zM0 6h1v1h-1z"/><path fill="#20ffdf" d="M1 3h1v1h-1zM3 3h1v1h-1zM-1 4h1v1h-1zM0 4h1v1h-1zM1 4h1v1h-1zM5 4h1v1h-1zM6 4h1v1h-1z"/><path fill="#00bdff" d="M2 3h1v1h-1zM4 4h1v1h-1zM2 5h1v1h-1zM3 5h1v1h-1zM5 5h1v1h-1zM6 5h1v1h-1zM2 6h1v1h-1zM3 6h1v1h-1zM5 6h1v1h-1zM6 6h1v1h-1z"/><path fill="#005aff" d="M2 4h1v1h-1zM3 4h1v1h-1zM4 5h1v1h-1zM4 6h1v1h-1z"/></g></g><use href="#ol" transform="translate(197.3 469.1) scale(66.0 71.3)"/><path d="M197.3 469.1h66.0l-1.4 71.3H197.3z" fill="none" stroke="#444" stroke-width="1"/>
<g transform="translate(278.0 469.1) scale(11.0000 11.8833)" clip-path="url(#k6)"><g filter="url(#f6)"><path fill="#b90000" d="M-1 -1h1v1h-1zM0 -1h1v1h-1zM4 -1h1v1h-1zM-1 0h1v1h-1zM0 0h1v1h-1zM4 0h1v1h-1zM2 1h1v1h-1zM5 1h1v1h-1zM6 1h1v1h-1zM3 2h1v1h-1z"/><path fill="#ff4c00" d="M1 -1h1v1h-1zM2 -1h1v1h-1zM1 0h1v1h-1zM2 0h1v1h-1zM1 1h1v1h-1zM2 2h1v1h-1zM5 2h1v1h-1zM6 2h1v1h-1zM-1 3h1v1h-1zM0 3h1v1h-1zM2 3h1v1h-1zM4 3h1v1h-1zM-1 4h1v1h-1zM0 4h1v1h-1zM2 5h1v1h-1zM2 6h1v1h-1z"/><path fill="#800000" d="M3 -1h1v1h-1zM3 0h1v1h-1zM3 1h1v1h-1zM4 1h1v1h-1zM3 3h1v1h-1z"/><path fill="#ff0200" d="M5 -1h1v1h-1zM6 -1h1v1h-1zM5 0h1v1h-1zM6 0h1v1h-1zM-1 1h1v1h-1zM0 1h1v1h-1zM4 2h1v1h-1z"/><path fill="#ffc700" d="M-1 2h1v1h-1zM0 2h1v1h-1zM1 2h1v1h-1zM2 4h1v1h-1zM4 4h1v1h-1zM1 5h1v1h-1zM3 5h1v1h-1zM1 6h1v1h-1zM3 6h1v1h-1z"/><path fill="#80ff80" d="M1 3h1v1h-1zM5 3h1v1h-1zM6 3h1v1h-1zM3 4h1v1h-1zM5 4h1v1h-1zM6 4h1v1h-1zM-1 5h1v1h-1zM0 5h1v1h-1zM-1 6h1v1h-1zM0 6h1v1h-1z"/><path fill="#dbff24" d="M1 4h1v1h-1zM4 5h1v1h-1zM4 6h1v1h-1z"/><path fill="#20ffdf" d="M5 5h1v1h-1zM6 5h1v1h-1zM5 6h1v1h-1zM6 6h1v1h-1z"/></g></g><use href="#ol" transform="translate(278.0 469.1) scale(66.0 71.3)"/><path d="M278.0 469.1h66.0l-1.4 71.3H278.0z" fill="none" stroke="#444" stroke-width="1"/>
<g transform="translate(358.9 470.1) scale(11.0000 11.8833)" clip-path="url(#k6)"><g filter="url(#f6)"><path fill="#20ffdf" d="M-1 -1h1v1h-1zM0 -1h1v1h-1zM1 -1h1v1h-1zM2 -1h1v1h-1zM3 -1h1v1h-1zM5 -1h1v1h-1zM6 -1h1v1h-1zM-1 0h1v1h-1zM0 0h1v1h-1zM1 0h1v1h-1zM2 0h1v1h-1zM3 0h1v1h-1zM5 0h1v1h-1zM6 0h1v1h-1zM3 1h1v1h-1z"/><path fill="#ffc700" d="M4 -1h1v1h-1zM4 0h1v1h-1z"/><path fill="#00bdff" d="M-1 1h1v1h-1zM0 1h1v1h-1zM1 1h1v1h-1zM5 1h1v1h-1zM6 1h1v1h-1zM3 2h1v1h-1zM4 2h1v1h-1z"/><path fill="#dbff24" d="M2 1h1v1h-1z"/><path fill="#80ff80" d="M4 1h1v1h-1z"/><path fill="#005aff" d="M-1 2h1v1h-1zM0 2h1v1h-1zM1 2h1v1h-1zM2 2h1v1h-1zM5 2h1v1h-1zM6 2h1v1h-1zM1 3h1v1h-1zM2 3h1v1h-1zM3 3h1v1h-1zM4 3h1v1h-1zM1 4h1v1h-1zM4 4h1v1h-1zM4 5h1v1h-1zM4 6h1v1h-1z"/><path fill="#0016ff" d="M-1 3h1v1h-1zM0 3h1v1h-1zM5 3h1v1h-1zM6 3h1v1h-1zM-1 4h1v1h-1zM0 4h1v1h-1zM2 4h1v1h-1zM3 4h1v1h-1zM5 4h1v1h-1zM6 4h1v1h-1zM-1 5h1v1h-1zM0 5h1v1h-1zM1 5h1v1h-1zM2 5h1v1h-1zM3 5h1v1h-1zM5 5h1v1h-1zM6 5h1v1h-1zM-1 6h1v1h-1zM0 6h1v1h-1zM1 6h1v1h-1zM2 6h1v1h-1zM3 6h1v1h-1zM5 6h1v1h-1zM6 6h1v1h-1z"/></g></g><use href="#ol" transform="translate(358.9 470.1) scale(66.0 71.3)"/><path d="M358.9 470.1h66.0l-1.4 71.3H358.9z" fill="none" stroke="#444" stroke-width="1"/>
<g transform="translate(439.9 470.1) scale(22.0000 23.7667)" clip-path="url(#k3)"><g filter="url(#f3)"><path fill="#0000b9" d="M-1 -1h1v1h-1zM0 -1h1v1h-1zM1 -1h1v1h-1zM2 -1h1v1h-1zM3 -1h1v1h-1zM-1 0h1v1h-1zM0 0h1v1h-1zM1 0h1v1h-1zM2 0h1v1h-1zM3 0h1v1h-1zM-1 1h1v1h-1zM0 1h1v1h-1zM1 1h1v1h-1z"/><path fill="#0000a2" d="M2 1h1v1h-1zM3 1h1v1h-1zM-1 2h1v1h-1zM0 2h1v1h-1zM1 2h1v1h-1zM2 2h1v1h-1zM3 2h1v1h-1zM-1 3h1v1h-1zM0 3h1v1h-1zM1 3h1v1h-1zM2 3h1v1h-1zM3 3h1v1h-1z"/></g></g><use href="#ol" transform="translate(439.9 470.1) scale(66.0 71.3)"/><path d="M439.9 470.1h66.0l-1.4 71.3H439.9z" fill="none" stroke="#444" stroke-width="1"/>
<path d="M519.6 469.1h66.0l-1.4 71.3H519.6z" fill="#000094"/><use href="#ol" transform="translate(519.6 469.1) scale(66.0 71.3)"/><path d="M519.6 469.1h66.0l-1.4 71.3H519.6z" fill="none" stroke="#444" stroke-width="1"/>
<path d="M599.2 469.1h66.0l-1.4 71.3H599.2z" fill="#000094"/><use href="#ol" transform="translate(599.2 469.1) scale(66.0 71.3)"/><path d="M599.2 469.1h66.0l-1.4 71.3H599.2z" fill="none" stroke="#444" stroke-width="1"/>
<path d="M679.6 469.1h66.0l-1.4 71.3H679.6z" fill="#000094"/><use href="#ol" transform="translate(679.6 469.1) scale(66.0 71.3)"/><path d="M679.6 469.1h66.0l-1.4 71.3H679.6z" fill="none" stroke="#444" stroke-width="1"/>
<g transform="translate(759.7 469.1) scale(16.5000 17.8250)" clip-path="url(#k4)"><g filter="url(#f4)"><path fill="#005aff" d="M-1 -1h1v1h-1zM0 -1h1v1h-1zM-1 0h1v1h-1zM0 0h1v1h-1z"/><path fill="#0016ff" d="M1 -1h1v1h-1zM1 0h1v1h-1z"/><path fill="#0000d4" d="M2 -1h1v1h-1zM3 -1h1v1h-1zM4 -1h1v1h-1zM2 0h1v1h-1zM3 0h1v1h-1zM4 0h1v1h-1zM-1 1h1v1h-1zM0 1h1v1h-1z"/><path fill="#0000b9" d="M1 1h1v1h-1zM2 1h1v1h-1zM3 1h1v1h-1zM4 1h1v1h-1zM-1 2h1v1h-1zM0 2h1v1h-1zM1 2h1v1h-1zM2 2h1v1h-1zM3 2h1v1h-1zM4 2h1v1h-1zM-1 3h1v1h-1zM0 3h1v1h-1zM1 3h1v1h-1zM2 3h1v1h-1zM3 3h1v1h-1zM4 3h1v1h-1zM-1 4h1v1h-1zM0 4h1v1h-1zM1 4h1v1h-1zM2 4h1v1h-1zM3 4h1v1h-1zM4 4h1v1h-1z"/></g></g><use href="#ol" transform="translate(759.7 469.1) scale(66.0 71.3)"/><path d="M759.7 469.1h66.0l-1.4 71.3H759.7z" fill="none" stroke="#444" stroke-width="1"/>
<g transform="translate(839.0 469.1) scale(11.0000 11.8833)" clip-path="url(#k6)"><g filter="url(#f6)"><path fill="#20ffdf" d="M-1 -1h1v1h-1zM0 -1h1v1h-1zM-1 0h1v1h-1zM0 0h1v1h-1zM-1 1h1v1h-1zM0 1h1v1h-1z"/><path fill="#00bdff" d="M1 -1h1v1h-1zM2 -1h1v1h-1zM3 -1h1v1h-1zM4 -1h1v1h-1zM1 0h1v1h-1zM2 0h1v1h-1zM3 0h1v1h-1zM4 0h1v1h-1zM1 1h1v1h-1zM-1 2h1v1h-1zM0 2h1v1h-1z"/><path fill="#005aff" d="M5 -1h1v1h-1zM6 -1h1v1h-1zM5 0h1v1h-1zM6 0h1v1h-1zM2 1h1v1h-1z"/><path fill="#0016ff" d="M3 1h1v1h-1zM4 1h1v1h-1zM5 1h1v1h-1zM6 1h1v1h-1zM1 2h1v1h-1zM-1 3h1v1h-1zM0 3h1v1h-1z"/><path fill="#0000f6" d="M2 2h1v1h-1zM3 2h1v1h-1zM4 2h1v1h-1zM5 2h1v1h-1zM6 2h1v1h-1zM1 3h1v1h-1zM2 3h1v1h-1zM3 3h1v1h-1zM4 3h1v1h-1zM5 3h1v1h-1zM6 3h1v1h-1zM-1 4h1v1h-1zM0 4h1v1h-1zM1 4h1v1h-1zM2 4h1v1h-1zM3 4h1v1h-1zM5 4h1v1h-1zM6 4h1v1h-1zM-1 5h1v1h-1zM0 5h1v1h-1zM2 5h1v1h-1zM3 5h1v1h-1zM4 5h1v1h-1zM5 5h1v1h-1zM6 5h1v1h-1zM-1 6h1v1h-1zM0 6h1v1h-1zM2 6h1v1h-1zM3 6h1v1h-1zM4 6h1v1h-1zM5 6h1v1h-1zM6 6h1v1h-1z"/><path fill="#0000d4" d="M4 4h1v1h-1zM1 5h1v1h-1zM1 6h1v1h-1z"/></g></g><use href="#ol" transform="translate(839.0 469.1) scale(66.0 71.3)"/><path d="M839.0 469.1h66.0l-1.4 71.3H839.0z" fill="none" stroke="#444" stroke-width="1"/>
<g transform="translate(919.3 469.1) scale(11.0000 11.8833)" clip-path="url(#k6)"><g filter="url(#f6)"><path fill="#80ff80" d="M-1 -1h1v1h-1zM0 -1h1v1h-1zM-1 0h1v1h-1zM0 0h1v1h-1zM1 1h1v1h-1zM2 1h1v1h-1zM3 1h1v1h-1zM4 1h1v1h-1zM5 1h1v1h-1zM6 1h1v1h-1zM-1 2h1v1h-1zM0 2h1v1h-1z"/><path fill="#dbff24" d="M1 -1h1v1h-1zM3 -1h1v1h-1zM1 0h1v1h-1zM3 0h1v1h-1zM1 2h1v1h-1zM-1 3h1v1h-1zM0 3h1v1h-1z"/><path fill="#ffc700" d="M2 -1h1v1h-1zM5 -1h1v1h-1zM6 -1h1v1h-1zM2 0h1v1h-1zM5 0h1v1h-1zM6 0h1v1h-1z"/><path fill="#ff4c00" d="M4 -1h1v1h-1zM4 0h1v1h-1z"/><path fill="#20ffdf" d="M-1 1h1v1h-1zM0 1h1v1h-1zM1 3h1v1h-1zM-1 4h1v1h-1zM0 4h1v1h-1z"/><path fill="#00bdff" d="M2 2h1v1h-1zM4 2h1v1h-1zM5 2h1v1h-1zM6 2h1v1h-1zM2 3h1v1h-1zM4 3h1v1h-1zM1 4h1v1h-1z"/><path fill="#005aff" d="M3 2h1v1h-1zM3 3h1v1h-1zM5 3h1v1h-1zM6 3h1v1h-1zM2 4h1v1h-1zM4 4h1v1h-1zM5 4h1v1h-1zM6 4h1v1h-1zM-1 5h1v1h-1zM0 5h1v1h-1zM1 5h1v1h-1zM2 5h1v1h-1zM5 5h1v1h-1zM6 5h1v1h-1zM-1 6h1v1h-1zM0 6h1v1h-1zM1 6h1v1h-1zM2 6h1v1h-1zM5 6h1v1h-1zM6 6h1v1h-1z"/><path fill="#0016ff" d="M3 4h1v1h-1zM3 5h1v1h-1zM4 5h1v1h-1zM3 6h1v1h-1zM4 6h1v1h-1z"/></g></g><use href="#ol" transform="translate(919.3 469.1) scale(66.0 71.3)"/><path d="M919.3 469.1h66.0l-1.4 71.3H919.3z" fill="none" stroke="#444" stroke-width="1"/>
<g transform="translate(999.7 469.1) scale(11.0000 11.8833)" clip-path="url(#k6)"><g filter="url(#f6)"><path fill="#ff4c00" d="M-1 -1h1v1h-1zM0 -1h1v1h-1zM3 -1h1v1h-1zM5 -1h1v1h-1zM6 -1h1v1h-1zM-1 0h1v1h-1zM0 0h1v1h-1zM3 0h1v1h-1zM5 0h1v1h-1zM6 0h1v1h-1zM-1 1h1v1h-1zM0 1h1v1h-1zM3 1h1v1h-1zM5 1h1v1h-1zM6 1h1v1h-1zM2 2h1v1h-1zM3 2h1v1h-1zM4 2h1v1h-1zM4 3h1v1h-1z"/><path fill="#ffc700" d="M1 -1h1v1h-1zM2 -1h1v1h-1zM1 0h1v1h-1zM2 0h1v1h-1zM2 1h1v1h-1zM4 1h1v1h-1zM5 2h1v1h-1zM6 2h1v1h-1zM3 3h1v1h-1zM5 5h1v1h-1zM6 5h1v1h-1zM5 6h1v1h-1zM6 6h1v1h-1z"/><path fill="#b90000" d="M4 -1h1v1h-1zM4 0h1v1h-1zM5 4h1v1h-1zM6 4h1v1h-1z"/><path fill="#ff0200" d="M1 1h1v1h-1zM1 2h1v1h-1zM5 3h1v1h-1zM6 3h1v1h-1z"/><path fill="#dbff24" d="M-1 2h1v1h-1zM0 2h1v1h-1zM2 3h1v1h-1zM3 4h1v1h-1zM4 4h1v1h-1zM3 5h1v1h-1zM4 5h1v1h-1zM3 6h1v1h-1zM4 6h1v1h-1z"/><path fill="#80ff80" d="M-1 3h1v1h-1zM0 3h1v1h-1zM1 3h1v1h-1zM2 5h1v1h-1zM2 6h1v1h-1z"/><path fill="#20ffdf" d="M-1 4h1v1h-1zM0 4h1v1h-1zM2 4h1v1h-1zM1 5h1v1h-1zM1 6h1v1h-1z"/><path fill="#00bdff" d="M1 4h1v1h-1zM-1 5h1v1h-1zM0 5h1v1h-1zM-1 6h1v1h-1zM0 6h1v1h-1z"/></g></g><use href="#ol" transform="translate(999.7 469.1) scale(66.0 71.3)"/><path d="M999.7 469.1h66.0l-1.4 71.3H999.7z" fill="none" stroke="#444" stroke-width="1"/>
<g transform="translate(118.1 551.4) scale(11.0000 11.8833)" clip-path="url(#k6)"><g filter="url(#f6)"><path fill="#dbff24" d="M-1 -1h1v1h-1zM0 -1h1v1h-1zM-1 0h1v1h-1zM0 0h1v1h-1zM1 2h1v1h-1z"/><path fill="#ffc700" d="M1 -1h1v1h-1zM2 -1h1v1h-1zM5 -1h1v1h-1zM6 -1h1v1h-1zM1 0h1v1h-1zM2 0h1v1h-1zM5 0h1v1h-1zM6 0h1v1h-1zM5 4h1v1h-1zM6 4h1v1h-1z"/><path fill="#ff4c00" d="M3 -1h1v1h-1zM3 0h1v1h-1zM1 1h1v1h-1zM3 2h1v1h-1zM4 2h1v1h-1zM5 3h1v1h-1zM6 3h1v1h-1z"/><path fill="#b90000" d="M4 -1h1v1h-1zM4 0h1v1h-1zM-1 1h1v1h-1zM0 1h1v1h-1zM4 1h1v1h-1zM5 1h1v1h-1zM6 1h1v1h-1zM-1 3h1v1h-1zM0 3h1v1h-1zM4 3h1v1h-1z"/><path fill="#80ff80" d="M2 1h1v1h-1zM2 2h1v1h-1zM4 4h1v1h-1z"/><path fill="#ff0200" d="M3 1h1v1h-1zM5 2h1v1h-1zM6 2h1v1h-1z"/><path fill="#800000" d="M-1 2h1v1h-1zM0 2h1v1h-1z"/><path fill="#20ffdf" d="M1 3h1v1h-1zM3 3h1v1h-1zM-1 4h1v1h-1zM0 4h1v1h-1zM3 4h1v1h-1z"/><path fill="#005aff" d="M2 3h1v1h-1zM-1 5h1v1h-1zM0 5h1v1h-1zM1 5h1v1h-1zM-1 6h1v1h-1zM0 6h1v1h-1zM1 6h1v1h-1z"/><path fill="#00bdff" d="M1 4h1v1h-1zM2 4h1v1h-1zM2 5h1v1h-1zM3 5h1v1h-1zM4 5h1v1h-1zM5 5h1v1h-1zM6 5h1v1h-1zM2 6h1v1h-1zM3 6h1v1h-1zM4 6h1v1h-1zM5 6h1v1h-1zM6 6h1v1h-1z"/></g></g><use href="#ol" transform="translate(118.1 551.4) scale(66.0 71.3)"/><path d="M118.1 551.4h66.0l-1.4 71.3H118.1z" fill="none" stroke="#444" stroke-width="1"/>
<g transform="translate(197.3 551.4) scale(11.0000 11.8833)" clip-path="url(#k6)"><g filter="url(#f6)"><path fill="#ffc700" d="M-1 -1h1v1h-1zM0 -1h1v1h-1zM4 -1h1v1h-1zM-1 0h1v1h-1zM0 0h1v1h-1zM4 0h1v1h-1zM5 1h1v1h-1zM6 1h1v1h-1z"/><path fill="#80ff80" d="M1 -1h1v1h-1zM1 0h1v1h-1zM4 1h1v1h-1zM-1 2h1v1h-1zM0 2h1v1h-1zM4 2h1v1h-1zM5 3h1v1h-1zM6 3h1v1h-1z"/><path fill="#20ffdf" d="M2 -1h1v1h-1zM3 -1h1v1h-1zM2 0h1v1h-1zM3 0h1v1h-1zM1 1h1v1h-1zM3 1h1v1h-1zM1 2h1v1h-1zM3 2h1v1h-1zM4 3h1v1h-1z"/><path fill="#ff4c00" d="M5 -1h1v1h-1zM6 -1h1v1h-1zM5 0h1v1h-1zM6 0h1v1h-1z"/><path fill="#dbff24" d="M-1 1h1v1h-1zM0 1h1v1h-1zM5 2h1v1h-1zM6 2h1v1h-1z"/><path fill="#00bdff" d="M2 1h1v1h-1zM2 2h1v1h-1zM-1 3h1v1h-1zM0 3h1v1h-1zM1 3h1v1h-1zM5 4h1v1h-1zM6 4h1v1h-1z"/><path fill="#005aff" d="M2 3h1v1h-1zM3 3h1v1h-1zM-1 4h1v1h-1zM0 4h1v1h-1zM1 4h1v1h-1zM4 4h1v1h-1zM1 5h1v1h-1zM4 5h1v1h-1zM5 5h1v1h-1zM6 5h1v1h-1zM1 6h1v1h-1zM4 6h1v1h-1zM5 6h1v1h-1zM6 6h1v1h-1z"/><path fill="#0016ff" d="M2 4h1v1h-1zM3 4h1v1h-1zM-1 5h1v1h-1zM0 5h1v1h-1zM2 5h1v1h-1zM3 5h1v1h-1zM-1 6h1v1h-1zM0 6h1v1h-1zM2 6h1v1h-1zM3 6h1v1h-1z"/></g></g><use href="#ol" transform="translate(197.3 551.4) scale(66.0 71.3)"/><path d="M197.3 551.4h66.0l-1.4 71.3H197.3z" fill="none" stroke="#444" stroke-width="1"/>
<g transform="translate(278.0 551.4) scale(11.0000 11.8833)" clip-path="url(#k6)"><g filter="url(#f6)"><path fill="#b90000" d="M-1 -1h1v1h-1zM0 -1h1v1h-1zM-1 0h1v1h-1zM0 0h1v1h-1z"/><path fill="#dbff24" d="M1 -1h1v1h-1zM1 0h1v1h-1z"/><path fill="#20ffdf" d="M2 -1h1v1h-1zM5 -1h1v1h-1zM6 -1h1v1h-1zM2 0h1v1h-1zM5 0h1v1h-1zM6 0h1v1h-1zM1 1h1v1h-1zM4 1h1v1h-1zM1 2h1v1h-1zM2 2h1v1h-1zM3 2h1v1h-1zM4 2h1v1h-1zM5 2h1v1h-1zM6 2h1v1h-1zM-1 3h1v1h-1zM0 3h1v1h-1zM3 3h1v1h-1z"/><path fill="#ff0200" d="M3 -1h1v1h-1zM3 0h1v1h-1z"/><path fill="#80ff80" d="M4 -1h1v1h-1zM4 0h1v1h-1zM2 1h1v1h-1zM5 1h1v1h-1zM6 1h1v1h-1zM-1 2h1v1h-1zM0 2h1v1h-1z"/><path fill="#ff4c00" d="M-1 1h1v1h-1zM0 1h1v1h-1z"/><path fill="#ffc700" d="M3 1h1v1h-1z"/><path fill="#005aff" d="M1 3h1v1h-1zM2 4h1v1h-1zM5 4h1v1h-1zM6 4h1v1h-1zM-1 5h1v1h-1zM0 5h1v1h-1zM1 5h1v1h-1zM2 5h1v1h-1zM-1 6h1v1h-1zM0 6h1v1h-1zM1 6h1v1h-1zM2 6h1v1h-1z"/><path fill="#00bdff" d="M2 3h1v1h-1zM4 3h1v1h-1zM5 3h1v1h-1zM6 3h1v1h-1zM-1 4h1v1h-1zM0 4h1v1h-1zM1 4h1v1h-1z"/><path fill="#0016ff" d="M3 4h1v1h-1zM4 4h1v1h-1zM3 5h1v1h-1zM4 5h1v1h-1zM5 5h1v1h-1zM6 5h1v1h-1zM3 6h1v1h-1zM4 6h1v1h-1zM5 6h1v1h-1zM6 6h1v1h-1z"/></g></g><use href="#ol" transform="translate(278.0 551.4) scale(66.0 71.3)"/><path d="M278.0 551.4h66.0l-1.4 71.3H278.0z" fill="none" stroke="#444" stroke-width="1"/>
<g transform="translate(358.9 551.4) scale(11.0000 11.8833)" clip-path="url(#k6)"><g filter="url(#f6)"><path fill="#005aff" d="M-1 -1h1v1h-1zM0 -1h1v1h-1zM2 -1h1v1h-1zM3 -1h1v1h-1zM-1 0h1v1h-1zM0 0h1v1h-1zM2 0h1v1h-1zM3 0h1v1h-1zM1 1h1v1h-1zM1 2h1v1h-1zM1 3h1v1h-1zM3 3h1v1h-1zM2 4h1v1h-1z"/><path fill="#00bdff" d="M1 -1h1v1h-1zM4 -1h1v1h-1zM5 -1h1v1h-1zM6 -1h1v1h-1zM1 0h1v1h-1zM4 0h1v1h-1zM5 0h1v1h-1zM6 0h1v1h-1zM3 1h1v1h-1zM4 1h1v1h-1zM5 1h1v1h-1zM6 1h1v1h-1zM2 2h1v1h-1zM3 2h1v1h-1zM4 2h1v1h-1zM5 2h1v1h-1zM6 2h1v1h-1zM2 3h1v1h-1zM5 3h1v1h-1zM6 3h1v1h-1zM3 4h1v1h-1zM4 4h1v1h-1zM5 4h1v1h-1zM6 4h1v1h-1zM2 5h1v1h-1zM3 5h1v1h-1zM4 5h1v1h-1zM5 5h1v1h-1zM6 5h1v1h-1zM2 6h1v1h-1zM3 6h1v1h-1zM4 6h1v1h-1zM5 6h1v1h-1zM6 6h1v1h-1z"/><path fill="#0016ff" d="M-1 1h1v1h-1zM0 1h1v1h-1zM-1 2h1v1h-1zM0 2h1v1h-1zM-1 3h1v1h-1zM0 3h1v1h-1zM-1 4h1v1h-1zM0 4h1v1h-1zM1 4h1v1h-1zM-1 5h1v1h-1zM0 5h1v1h-1zM1 5h1v1h-1zM-1 6h1v1h-1zM0 6h1v1h-1zM1 6h1v1h-1z"/><path fill="#20ffdf" d="M2 1h1v1h-1zM4 3h1v1h-1z"/></g></g><use href="#ol" transform="translate(358.9 551.4) scale(66.0 71.3)"/><path d="M358.9 551.4h66.0l-1.4 71.3H358.9z" fill="none" stroke="#444" stroke-width="1"/>
<g transform="translate(439.9 551.4) scale(22.0000 23.7667)" clip-path="url(#k3)"><g filter="url(#f3)"><path fill="#0000b9" d="M-1 -1h1v1h-1zM0 -1h1v1h-1zM1 -1h1v1h-1zM2 -1h1v1h-1zM3 -1h1v1h-1zM-1 0h1v1h-1zM0 0h1v1h-1zM1 0h1v1h-1zM2 0h1v1h-1zM3 0h1v1h-1zM1 1h1v1h-1z"/><path fill="#0000a2" d="M-1 1h1v1h-1zM0 1h1v1h-1zM2 1h1v1h-1zM3 1h1v1h-1zM-1 2h1v1h-1zM0 2h1v1h-1zM1 2h1v1h-1zM2 2h1v1h-1zM3 2h1v1h-1zM-1 3h1v1h-1zM0 3h1v1h-1zM1 3h1v1h-1zM2 3h1v1h-1zM3 3h1v1h-1z"/></g></g><use href="#ol" transform="translate(439.9 551.4) scale(66.0 71.3)"/><path d="M439.9 551.4h66.0l-1.4 71.3H439.9z" fill="none" stroke="#444" stroke-width="1"/>
<path d="M519.6 551.4h66.0l-1.4 71.3H519.6z" fill="#000094"/><use href="#ol" transform="translate(519.6 551.4) scale(66.0 71.3)"/><path d="M519.6 551.4h66.0l-1.4 71.3H519.6z" fill="none" stroke="#444" stroke-width="1"/>
<path d="M599.2 551.4h66.0l-1.4 71.3H599.2z" fill="#000094"/><use href="#ol" transform="translate(599.2 551.4) scale(66.0 71.3)"/><path d="M599.2 551.4h66.0l-1.4 71.3H599.2z" fill="none" stroke="#444" stroke-width="1"/>
<g transform="translate(679.6 551.4) scale(22.0000 23.7667)" clip-path="url(#k3)"><g filter="url(#f3)"><path fill="#0000d4" d="M-1 -1h1v1h-1zM0 -1h1v1h-1zM2 -1h1v1h-1zM3 -1h1v1h-1zM-1 0h1v1h-1zM0 0h1v1h-1zM2 0h1v1h-1zM3 0h1v1h-1z"/><path fill="#0000a2" d="M1 -1h1v1h-1zM1 0h1v1h-1z"/><path fill="#000094" d="M-1 1h1v1h-1zM0 1h1v1h-1zM1 1h1v1h-1zM2 1h1v1h-1zM3 1h1v1h-1zM-1 2h1v1h-1zM0 2h1v1h-1zM1 2h1v1h-1zM2 2h1v1h-1zM3 2h1v1h-1zM-1 3h1v1h-1zM0 3h1v1h-1zM1 3h1v1h-1zM2 3h1v1h-1zM3 3h1v1h-1z"/></g></g><use href="#ol" transform="translate(679.6 551.4) scale(66.0 71.3)"/><path d="M679.6 551.4h66.0l-1.4 71.3H679.6z" fill="none" stroke="#444" stroke-width="1"/>
<g transform="translate(759.7 551.4) scale(16.5000 17.8250)" clip-path="url(#k4)"><g filter="url(#f4)"><path fill="#0016ff" d="M-1 -1h1v1h-1zM0 -1h1v1h-1zM1 -1h1v1h-1zM-1 0h1v1h-1zM0 0h1v1h-1zM1 0h1v1h-1z"/><path fill="#005aff" d="M2 -1h1v1h-1zM2 0h1v1h-1z"/><path fill="#0000d4" d="M3 -1h1v1h-1zM4 -1h1v1h-1zM3 0h1v1h-1zM4 0h1v1h-1zM1 1h1v1h-1z"/><path fill="#0000b9" d="M-1 1h1v1h-1zM0 1h1v1h-1zM2 1h1v1h-1zM3 1h1v1h-1zM4 1h1v1h-1zM-1 2h1v1h-1zM0 2h1v1h-1zM1 2h1v1h-1zM2 2h1v1h-1zM3 2h1v1h-1zM4 2h1v1h-1z"/><path fill="#0000a2" d="M-1 3h1v1h-1zM0 3h1v1h-1zM1 3h1v1h-1zM2 3h1v1h-1zM3 3h1v1h-1zM4 3h1v1h-1zM-1 4h1v1h-1zM0 4h1v1h-1zM1 4h1v1h-1zM2 4h1v1h-1zM3 4h1v1h-1zM4 4h1v1h-1z"/></g></g><use href="#ol" transform="translate(759.7 551.4) scale(66.0 71.3)"/><path d="M759.7 551.4h66.0l-1.4 71.3H759.7z" fill="none" stroke="#444" stroke-width="1"/>
<g transform="translate(839.0 551.4) scale(16.5000 17.8250)" clip-path="url(#k4)"><g filter="url(#f4)"><path fill="#005aff" d="M-1 -1h1v1h-1zM0 -1h1v1h-1zM2 -1h1v1h-1zM-1 0h1v1h-1zM0 0h1v1h-1zM2 0h1v1h-1z"/><path fill="#00bdff" d="M1 -1h1v1h-1zM1 0h1v1h-1z"/><path fill="#0016ff" d="M3 -1h1v1h-1zM4 -1h1v1h-1zM3 0h1v1h-1zM4 0h1v1h-1zM-1 1h1v1h-1zM0 1h1v1h-1zM2 1h1v1h-1z"/><path fill="#0000d4" d="M1 1h1v1h-1zM3 1h1v1h-1zM4 1h1v1h-1zM-1 2h1v1h-1zM0 2h1v1h-1zM1 2h1v1h-1zM2 2h1v1h-1zM3 2h1v1h-1zM4 2h1v1h-1zM-1 3h1v1h-1zM0 3h1v1h-1zM2 3h1v1h-1zM-1 4h1v1h-1zM0 4h1v1h-1zM2 4h1v1h-1z"/><path fill="#0000b9" d="M1 3h1v1h-1zM3 3h1v1h-1zM4 3h1v1h-1zM1 4h1v1h-1zM3 4h1v1h-1zM4 4h1v1h-1z"/></g></g><use href="#ol" transform="translate(839.0 551.4) scale(66.0 71.3)"/><path d="M839.0 551.4h66.0l-1.4 71.3H839.0z" fill="none" stroke="#444" stroke-width="1"/>
<g transform="translate(919.3 551.4) scale(11.0000 11.8833)" clip-path="url(#k6)"><g filter="url(#f6)"><path fill="#20ffdf" d="M-1 -1h1v1h-1zM0 -1h1v1h-1zM-1 0h1v1h-1zM0 0h1v1h-1zM-1 1h1v1h-1zM0 1h1v1h-1zM2 3h1v1h-1zM3 3h1v1h-1zM4 3h1v1h-1zM5 3h1v1h-1zM6 3h1v1h-1z"/><path fill="#ffc700" d="M1 -1h1v1h-1zM5 -1h1v1h-1zM6 -1h1v1h-1zM1 0h1v1h-1zM5 0h1v1h-1zM6 0h1v1h-1zM1 1h1v1h-1zM5 1h1v1h-1zM6 1h1v1h-1zM4 2h1v1h-1z"/><path fill="#b90000" d="M2 -1h1v1h-1zM2 0h1v1h-1zM4 1h1v1h-1z"/><path fill="#ff4c00" d="M3 -1h1v1h-1zM4 -1h1v1h-1zM3 0h1v1h-1zM4 0h1v1h-1zM2 2h1v1h-1zM3 2h1v1h-1z"/><path fill="#ff0200" d="M2 1h1v1h-1zM3 1h1v1h-1z"/><path fill="#dbff24" d="M-1 2h1v1h-1zM0 2h1v1h-1zM5 2h1v1h-1zM6 2h1v1h-1z"/><path fill="#80ff80" d="M1 2h1v1h-1z"/><path fill="#0016ff" d="M-1 3h1v1h-1zM0 3h1v1h-1zM-1 4h1v1h-1zM0 4h1v1h-1zM1 5h1v1h-1zM2 5h1v1h-1zM1 6h1v1h-1zM2 6h1v1h-1z"/><path fill="#00bdff" d="M1 3h1v1h-1zM2 4h1v1h-1zM3 4h1v1h-1zM4 4h1v1h-1zM5 4h1v1h-1zM6 4h1v1h-1zM3 5h1v1h-1zM4 5h1v1h-1zM5 5h1v1h-1zM6 5h1v1h-1zM3 6h1v1h-1zM4 6h1v1h-1zM5 6h1v1h-1zM6 6h1v1h-1z"/><path fill="#005aff" d="M1 4h1v1h-1z"/><path fill="#0000d4" d="M-1 5h1v1h-1zM0 5h1v1h-1zM-1 6h1v1h-1zM0 6h1v1h-1z"/></g></g><use href="#ol" transform="translate(919.3 551.4) scale(66.0 71.3)"/><path d="M919.3 551.4h66.0l-1.4 71.3H919.3z" fill="none" stroke="#444" stroke-width="1"/>
<g transform="translate(999.7 551.4) scale(11.0000 11.8833)" clip-path="url(#k6)"><g filter="url(#f6)"><path fill="#ff4c00" d="M-1 -1h1v1h-1zM0 -1h1v1h-1zM4 -1h1v1h-1zM5 -1h1v1h-1zM6 -1h1v1h-1zM-1 0h1v1h-1zM0 0h1v1h-1zM4 0h1v1h-1zM5 0h1v1h-1zM6 0h1v1h-1zM-1 1h1v1h-1zM0 1h1v1h-1zM2 1h1v1h-1zM5 3h1v1h-1zM6 3h1v1h-1z"/><path fill="#800000" d="M1 -1h1v1h-1zM2 -1h1v1h-1zM1 0h1v1h-1zM2 0h1v1h-1z"/><path fill="#b90000" d="M3 -1h1v1h-1zM3 0h1v1h-1zM1 1h1v1h-1zM4 1h1v1h-1zM4 2h1v1h-1z"/><path fill="#ff0200" d="M3 1h1v1h-1zM5 1h1v1h-1zM6 1h1v1h-1zM5 2h1v1h-1zM6 2h1v1h-1zM4 3h1v1h-1z"/><path fill="#dbff24" d="M-1 2h1v1h-1zM0 2h1v1h-1zM1 2h1v1h-1zM2 2h1v1h-1zM2 3h1v1h-1z"/><path fill="#ffc700" d="M3 2h1v1h-1zM3 3h1v1h-1z"/><path fill="#80ff80" d="M-1 3h1v1h-1zM0 3h1v1h-1zM1 3h1v1h-1zM-1 4h1v1h-1zM0 4h1v1h-1zM1 4h1v1h-1zM3 4h1v1h-1zM4 4h1v1h-1z"/><path fill="#20ffdf" d="M2 4h1v1h-1zM5 4h1v1h-1zM6 4h1v1h-1zM-1 5h1v1h-1zM0 5h1v1h-1zM1 5h1v1h-1zM-1 6h1v1h-1zM0 6h1v1h-1zM1 6h1v1h-1z"/><path fill="#00bdff" d="M2 5h1v1h-1zM5 5h1v1h-1zM6 5h1v1h-1zM2 6h1v1h-1zM5 6h1v1h-1zM6 6h1v1h-1z"/><path fill="#005aff" d="M3 5h1v1h-1zM4 5h1v1h-1zM3 6h1v1h-1zM4 6h1v1h-1z"/></g></g><use href="#ol" transform="translate(999.7 551.4) scale(66.0 71.3)"/><path d="M999.7 551.4h66.0l-1.4 71.3H999.7z" fill="none" stroke="#444" stroke-width="1"/>
<g transform="translate(118.1 632.6) scale(11.0000 11.8833)" clip-path="url(#k6)"><g filter="url(#f6)"><path fill="#20ffdf" d="M-1 -1h1v1h-1zM0 -1h1v1h-1zM1 -1h1v1h-1zM-1 0h1v1h-1zM0 0h1v1h-1zM1 0h1v1h-1zM1 1h1v1h-1zM-1 3h1v1h-1zM0 3h1v1h-1zM5 4h1v1h-1zM6 4h1v1h-1zM-1 5h1v1h-1zM0 5h1v1h-1zM3 5h1v1h-1zM4 5h1v1h-1zM-1 6h1v1h-1zM0 6h1v1h-1zM3 6h1v1h-1zM4 6h1v1h-1z"/><path fill="#dbff24" d="M2 -1h1v1h-1zM2 0h1v1h-1zM3 2h1v1h-1zM2 3h1v1h-1zM1 4h1v1h-1zM3 4h1v1h-1zM1 5h1v1h-1zM2 5h1v1h-1zM1 6h1v1h-1zM2 6h1v1h-1z"/><path fill="#ff4c00" d="M3 -1h1v1h-1zM5 -1h1v1h-1zM6 -1h1v1h-1zM3 0h1v1h-1zM5 0h1v1h-1zM6 0h1v1h-1zM2 1h1v1h-1zM5 1h1v1h-1zM6 1h1v1h-1zM4 2h1v1h-1zM5 2h1v1h-1zM6 2h1v1h-1zM4 3h1v1h-1z"/><path fill="#ffc700" d="M4 -1h1v1h-1zM4 0h1v1h-1zM3 1h1v1h-1zM4 1h1v1h-1zM-1 2h1v1h-1zM0 2h1v1h-1zM1 2h1v1h-1zM2 2h1v1h-1zM3 3h1v1h-1z"/><path fill="#80ff80" d="M-1 1h1v1h-1zM0 1h1v1h-1zM1 3h1v1h-1zM5 3h1v1h-1zM6 3h1v1h-1zM-1 4h1v1h-1zM0 4h1v1h-1zM2 4h1v1h-1zM4 4h1v1h-1z"/><path fill="#00bdff" d="M5 5h1v1h-1zM6 5h1v1h-1zM5 6h1v1h-1zM6 6h1v1h-1z"/></g></g><use href="#ol" transform="translate(118.1 632.6) scale(66.0 71.3)"/><path d="M118.1 632.6h66.0l-1.4 71.3H118.1z" fill="none" stroke="#444" stroke-width="1"/>
<g transform="translate(197.3 632.6) scale(11.0000 11.8833)" clip-path="url(#k6)"><g filter="url(#f6)"><path fill="#80ff80" d="M-1 -1h1v1h-1zM0 -1h1v1h-1zM-1 0h1v1h-1zM0 0h1v1h-1zM1 3h1v1h-1zM3 3h1v1h-1z"/><path fill="#ffc700" d="M1 -1h1v1h-1zM3 -1h1v1h-1zM1 0h1v1h-1zM3 0h1v1h-1zM-1 1h1v1h-1zM0 1h1v1h-1zM3 2h1v1h-1zM4 3h1v1h-1z"/><path fill="#ff4c00" d="M2 -1h1v1h-1zM4 -1h1v1h-1zM5 -1h1v1h-1zM6 -1h1v1h-1zM2 0h1v1h-1zM4 0h1v1h-1zM5 0h1v1h-1zM6 0h1v1h-1zM3 1h1v1h-1zM1 2h1v1h-1zM2 2h1v1h-1zM4 2h1v1h-1zM-1 3h1v1h-1zM0 3h1v1h-1z"/><path fill="#ff0200" d="M1 1h1v1h-1zM4 1h1v1h-1zM5 1h1v1h-1zM6 1h1v1h-1z"/><path fill="#b90000" d="M2 1h1v1h-1zM-1 2h1v1h-1zM0 2h1v1h-1zM5 2h1v1h-1zM6 2h1v1h-1z"/><path fill="#20ffdf" d="M2 3h1v1h-1zM3 4h1v1h-1zM4 4h1v1h-1zM5 4h1v1h-1zM6 4h1v1h-1z"/><path fill="#dbff24" d="M5 3h1v1h-1zM6 3h1v1h-1z"/><path fill="#005aff" d="M-1 4h1v1h-1zM0 4h1v1h-1zM3 5h1v1h-1zM3 6h1v1h-1z"/><path fill="#00bdff" d="M1 4h1v1h-1zM2 4h1v1h-1zM4 5h1v1h-1zM5 5h1v1h-1zM6 5h1v1h-1zM4 6h1v1h-1zM5 6h1v1h-1zM6 6h1v1h-1z"/><path fill="#0016ff" d="M-1 5h1v1h-1zM0 5h1v1h-1zM1 5h1v1h-1zM2 5h1v1h-1zM-1 6h1v1h-1zM0 6h1v1h-1zM1 6h1v1h-1zM2 6h1v1h-1z"/></g></g><use href="#ol" transform="translate(197.3 632.6) scale(66.0 71.3)"/><path d="M197.3 632.6h66.0l-1.4 71.3H197.3z" fill="none" stroke="#444" stroke-width="1"/>
<g transform="translate(278.0 632.6) scale(11.0000 11.8833)" clip-path="url(#k6)"><g filter="url(#f6)"><path fill="#ffc700" d="M-1 -1h1v1h-1zM0 -1h1v1h-1zM1 -1h1v1h-1zM4 -1h1v1h-1zM-1 0h1v1h-1zM0 0h1v1h-1zM1 0h1v1h-1zM4 0h1v1h-1zM3 1h1v1h-1zM4 1h1v1h-1zM4 2h1v1h-1zM5 2h1v1h-1zM6 2h1v1h-1zM1 3h1v1h-1zM4 3h1v1h-1zM3 4h1v1h-1zM3 5h1v1h-1zM3 6h1v1h-1z"/><path fill="#ff4c00" d="M2 -1h1v1h-1zM3 -1h1v1h-1zM2 0h1v1h-1zM3 0h1v1h-1zM5 1h1v1h-1zM6 1h1v1h-1zM2 2h1v1h-1zM-1 3h1v1h-1zM0 3h1v1h-1zM4 4h1v1h-1z"/><path fill="#80ff80" d="M5 -1h1v1h-1zM6 -1h1v1h-1zM5 0h1v1h-1zM6 0h1v1h-1zM3 2h1v1h-1zM2 3h1v1h-1zM-1 4h1v1h-1zM0 4h1v1h-1zM2 4h1v1h-1zM5 5h1v1h-1zM6 5h1v1h-1zM5 6h1v1h-1zM6 6h1v1h-1z"/><path fill="#ff0200" d="M-1 1h1v1h-1zM0 1h1v1h-1zM-1 2h1v1h-1zM0 2h1v1h-1z"/><path fill="#800000" d="M1 1h1v1h-1z"/><path fill="#b90000" d="M2 1h1v1h-1zM1 2h1v1h-1zM5 3h1v1h-1zM6 3h1v1h-1z"/><path fill="#dbff24" d="M3 3h1v1h-1zM1 4h1v1h-1zM5 4h1v1h-1zM6 4h1v1h-1zM2 5h1v1h-1zM4 5h1v1h-1zM2 6h1v1h-1zM4 6h1v1h-1z"/><path fill="#00bdff" d="M-1 5h1v1h-1zM0 5h1v1h-1zM-1 6h1v1h-1zM0 6h1v1h-1z"/><path fill="#20ffdf" d="M1 5h1v1h-1zM1 6h1v1h-1z"/></g></g><use href="#ol" transform="translate(278.0 632.6) scale(66.0 71.3)"/><path d="M278.0 632.6h66.0l-1.4 71.3H278.0z" fill="none" stroke="#444" stroke-width="1"/>
<g transform="translate(358.9 632.6) scale(11.0000 11.8833)" clip-path="url(#k6)"><g filter="url(#f6)"><path fill="#005aff" d="M-1 -1h1v1h-1zM0 -1h1v1h-1zM1 -1h1v1h-1zM5 -1h1v1h-1zM6 -1h1v1h-1zM-1 0h1v1h-1zM0 0h1v1h-1zM1 0h1v1h-1zM5 0h1v1h-1zM6 0h1v1h-1zM5 1h1v1h-1zM6 1h1v1h-1zM2 2h1v1h-1zM3 2h1v1h-1zM2 3h1v1h-1z"/><path fill="#00bdff" d="M2 -1h1v1h-1zM3 -1h1v1h-1zM4 -1h1v1h-1zM2 0h1v1h-1zM3 0h1v1h-1zM4 0h1v1h-1zM4 1h1v1h-1z"/><path fill="#0016ff" d="M-1 1h1v1h-1zM0 1h1v1h-1zM1 1h1v1h-1zM1 2h1v1h-1zM4 2h1v1h-1zM1 3h1v1h-1zM3 3h1v1h-1z"/><path fill="#20ffdf" d="M2 1h1v1h-1zM3 1h1v1h-1z"/><path fill="#0000f6" d="M-1 2h1v1h-1zM0 2h1v1h-1zM5 2h1v1h-1zM6 2h1v1h-1zM2 4h1v1h-1z"/><path fill="#0000d4" d="M-1 3h1v1h-1zM0 3h1v1h-1zM4 3h1v1h-1zM5 3h1v1h-1zM6 3h1v1h-1zM-1 4h1v1h-1zM0 4h1v1h-1zM1 4h1v1h-1zM3 4h1v1h-1zM4 4h1v1h-1zM5 4h1v1h-1zM6 4h1v1h-1zM-1 5h1v1h-1zM0 5h1v1h-1zM1 5h1v1h-1zM2 5h1v1h-1zM3 5h1v1h-1zM4 5h1v1h-1zM5 5h1v1h-1zM6 5h1v1h-1zM-1 6h1v1h-1zM0 6h1v1h-1zM1 6h1v1h-1zM2 6h1v1h-1zM3 6h1v1h-1zM4 6h1v1h-1zM5 6h1v1h-1zM6 6h1v1h-1z"/></g></g><use href="#ol" transform="translate(358.9 632.6) scale(66.0 71.3)"/><path d="M358.9 632.6h66.0l-1.4 71.3H358.9z" fill="none" stroke="#444" stroke-width="1"/>
<g transform="translate(439.9 632.6) scale(22.0000 23.7667)" clip-path="url(#k3)"><g filter="url(#f3)"><path fill="#0000a2" d="M-1 -1h1v1h-1zM0 -1h1v1h-1zM1 -1h1v1h-1zM-1 0h1v1h-1zM0 0h1v1h-1zM1 0h1v1h-1zM-1 1h1v1h-1zM0 1h1v1h-1zM1 1h1v1h-1zM2 1h1v1h-1zM3 1h1v1h-1zM-1 2h1v1h-1zM0 2h1v1h-1zM1 2h1v1h-1zM2 2h1v1h-1zM3 2h1v1h-1zM-1 3h1v1h-1zM0 3h1v1h-1zM1 3h1v1h-1zM2 3h1v1h-1zM3 3h1v1h-1z"/><path fill="#0000b9" d="M2 -1h1v1h-1zM3 -1h1v1h-1zM2 0h1v1h-1zM3 0h1v1h-1z"/></g></g><use href="#ol" transform="translate(439.9 632.6) scale(66.0 71.3)"/><path d="M439.9 632.6h66.0l-1.4 71.3H439.9z" fill="none" stroke="#444" stroke-width="1"/>
<path d="M519.6 632.6h66.0l-1.4 71.3H519.6z" fill="#000094"/><use href="#ol" transform="translate(519.6 632.6) scale(66.0 71.3)"/><path d="M519.6 632.6h66.0l-1.4 71.3H519.6z" fill="none" stroke="#444" stroke-width="1"/>
<path d="M599.2 632.6h66.0l-1.4 71.3H599.2z" fill="#000094"/><use href="#ol" transform="translate(599.2 632.6) scale(66.0 71.3)"/><path d="M599.2 632.6h66.0l-1.4 71.3H599.2z" fill="none" stroke="#444" stroke-width="1"/>
<path d="M679.6 632.6h66.0l-1.4 71.3H679.6z" fill="#000094"/><use href="#ol" transform="translate(679.6 632.6) scale(66.0 71.3)"/><path d="M679.6 632.6h66.0l-1.4 71.3H679.6z" fill="none" stroke="#444" stroke-width="1"/>
<g transform="translate(759.7 632.6) scale(16.5000 17.8250)" clip-path="url(#k4)"><g filter="url(#f4)"><path fill="#20ffdf" d="M-1 -1h1v1h-1zM0 -1h1v1h-1zM-1 0h1v1h-1zM0 0h1v1h-1z"/><path fill="#005aff" d="M1 -1h1v1h-1zM1 0h1v1h-1zM-1 1h1v1h-1zM0 1h1v1h-1z"/><path fill="#0016ff" d="M2 -1h1v1h-1zM3 -1h1v1h-1zM4 -1h1v1h-1zM2 0h1v1h-1zM3 0h1v1h-1zM4 0h1v1h-1z"/><path fill="#0000d4" d="M1 1h1v1h-1zM-1 2h1v1h-1zM0 2h1v1h-1z"/><path fill="#0000b9" d="M2 1h1v1h-1z"/><path fill="#0000a2" d="M3 1h1v1h-1zM4 1h1v1h-1zM1 2h1v1h-1zM2 2h1v1h-1zM3 2h1v1h-1zM4 2h1v1h-1zM-1 3h1v1h-1zM0 3h1v1h-1zM1 3h1v1h-1zM2 3h1v1h-1zM3 3h1v1h-1zM4 3h1v1h-1zM-1 4h1v1h-1zM0 4h1v1h-1zM1 4h1v1h-1zM2 4h1v1h-1zM3 4h1v1h-1zM4 4h1v1h-1z"/></g></g><use href="#ol" transform="translate(759.7 632.6) scale(66.0 71.3)"/><path d="M759.7 632.6h66.0l-1.4 71.3H759.7z" fill="none" stroke="#444" stroke-width="1"/>
<g transform="translate(839.0 632.6) scale(11.0000 11.8833)" clip-path="url(#k6)"><g filter="url(#f6)"><path fill="#80ff80" d="M-1 -1h1v1h-1zM0 -1h1v1h-1zM-1 0h1v1h-1zM0 0h1v1h-1zM-1 1h1v1h-1zM0 1h1v1h-1z"/><path fill="#00bdff" d="M1 -1h1v1h-1zM3 -1h1v1h-1zM1 0h1v1h-1zM3 0h1v1h-1zM2 1h1v1h-1zM3 1h1v1h-1zM4 1h1v1h-1zM1 2h1v1h-1z"/><path fill="#005aff" d="M2 -1h1v1h-1zM4 -1h1v1h-1zM2 0h1v1h-1zM4 0h1v1h-1z"/><path fill="#0016ff" d="M5 -1h1v1h-1zM6 -1h1v1h-1zM5 0h1v1h-1zM6 0h1v1h-1zM5 1h1v1h-1zM6 1h1v1h-1zM2 2h1v1h-1z"/><path fill="#20ffdf" d="M1 1h1v1h-1zM-1 2h1v1h-1zM0 2h1v1h-1z"/><path fill="#0000d4" d="M3 2h1v1h-1zM4 2h1v1h-1zM5 2h1v1h-1zM6 2h1v1h-1zM-1 3h1v1h-1zM0 3h1v1h-1zM1 3h1v1h-1zM3 3h1v1h-1zM4 3h1v1h-1zM5 3h1v1h-1zM6 3h1v1h-1zM4 4h1v1h-1z"/><path fill="#0000b9" d="M2 3h1v1h-1zM-1 4h1v1h-1zM0 4h1v1h-1zM1 4h1v1h-1zM2 4h1v1h-1zM3 4h1v1h-1zM5 4h1v1h-1zM6 4h1v1h-1zM-1 5h1v1h-1zM0 5h1v1h-1zM1 5h1v1h-1zM2 5h1v1h-1zM3 5h1v1h-1zM4 5h1v1h-1zM5 5h1v1h-1zM6 5h1v1h-1zM-1 6h1v1h-1zM0 6h1v1h-1zM1 6h1v1h-1zM2 6h1v1h-1zM3 6h1v1h-1zM4 6h1v1h-1zM5 6h1v1h-1zM6 6h1v1h-1z"/></g></g><use href="#ol" transform="translate(839.0 632.6) scale(66.0 71.3)"/><path d="M839.0 632.6h66.0l-1.4 71.3H839.0z" fill="none" stroke="#444" stroke-width="1"/>
<g transform="translate(919.3 632.6) scale(11.0000 11.8833)" clip-path="url(#k6)"><g filter="url(#f6)"><path fill="#dbff24" d="M-1 -1h1v1h-1zM0 -1h1v1h-1zM2 -1h1v1h-1zM-1 0h1v1h-1zM0 0h1v1h-1zM2 0h1v1h-1zM4 1h1v1h-1z"/><path fill="#ffc700" d="M1 -1h1v1h-1zM3 -1h1v1h-1zM4 -1h1v1h-1zM1 0h1v1h-1zM3 0h1v1h-1zM4 0h1v1h-1zM3 1h1v1h-1z"/><path fill="#80ff80" d="M5 -1h1v1h-1zM6 -1h1v1h-1zM5 0h1v1h-1zM6 0h1v1h-1zM-1 1h1v1h-1zM0 1h1v1h-1zM1 1h1v1h-1zM2 1h1v1h-1zM5 1h1v1h-1zM6 1h1v1h-1zM2 2h1v1h-1zM3 2h1v1h-1zM4 2h1v1h-1zM2 3h1v1h-1z"/><path fill="#20ffdf" d="M-1 2h1v1h-1zM0 2h1v1h-1zM-1 3h1v1h-1zM0 3h1v1h-1zM1 3h1v1h-1z"/><path fill="#00bdff" d="M1 2h1v1h-1zM5 2h1v1h-1zM6 2h1v1h-1zM3 3h1v1h-1zM4 3h1v1h-1zM-1 4h1v1h-1zM0 4h1v1h-1zM1 4h1v1h-1zM2 4h1v1h-1zM3 4h1v1h-1zM4 4h1v1h-1zM5 4h1v1h-1zM6 4h1v1h-1z"/><path fill="#005aff" d="M5 3h1v1h-1zM6 3h1v1h-1zM2 5h1v1h-1zM5 5h1v1h-1zM6 5h1v1h-1zM2 6h1v1h-1zM5 6h1v1h-1zM6 6h1v1h-1z"/><path fill="#0016ff" d="M-1 5h1v1h-1zM0 5h1v1h-1zM1 5h1v1h-1zM3 5h1v1h-1zM4 5h1v1h-1zM-1 6h1v1h-1zM0 6h1v1h-1zM1 6h1v1h-1zM3 6h1v1h-1zM4 6h1v1h-1z"/></g></g><use href="#ol" transform="translate(919.3 632.6) scale(66.0 71.3)"/><path d="M919.3 632.6h66.0l-1.4 71.3H919.3z" fill="none" stroke="#444" stroke-width="1"/>
<g transform="translate(999.7 632.6) scale(11.0000 11.8833)" clip-path="url(#k6)"><g filter="url(#f6)"><path fill="#ff4c00" d="M-1 -1h1v1h-1zM0 -1h1v1h-1zM3 -1h1v1h-1zM4 -1h1v1h-1zM-1 0h1v1h-1zM0 0h1v1h-1zM3 0h1v1h-1zM4 0h1v1h-1zM3 1h1v1h-1zM4 1h1v1h-1zM-1 2h1v1h-1zM0 2h1v1h-1zM-1 3h1v1h-1zM0 3h1v1h-1zM2 3h1v1h-1zM3 4h1v1h-1zM4 4h1v1h-1z"/><path fill="#ffc700" d="M1 -1h1v1h-1zM1 0h1v1h-1zM1 1h1v1h-1zM2 1h1v1h-1zM1 3h1v1h-1zM2 4h1v1h-1zM5 4h1v1h-1zM6 4h1v1h-1z"/><path fill="#ff0200" d="M2 -1h1v1h-1zM2 0h1v1h-1zM4 2h1v1h-1zM3 3h1v1h-1zM5 3h1v1h-1zM6 3h1v1h-1z"/><path fill="#b90000" d="M5 -1h1v1h-1zM6 -1h1v1h-1zM5 0h1v1h-1zM6 0h1v1h-1zM5 1h1v1h-1zM6 1h1v1h-1zM1 2h1v1h-1zM2 2h1v1h-1zM3 2h1v1h-1zM5 2h1v1h-1zM6 2h1v1h-1zM4 3h1v1h-1z"/><path fill="#dbff24" d="M-1 1h1v1h-1zM0 1h1v1h-1zM1 4h1v1h-1zM3 5h1v1h-1zM4 5h1v1h-1zM5 5h1v1h-1zM6 5h1v1h-1zM3 6h1v1h-1zM4 6h1v1h-1zM5 6h1v1h-1zM6 6h1v1h-1z"/><path fill="#80ff80" d="M-1 4h1v1h-1zM0 4h1v1h-1zM2 5h1v1h-1zM2 6h1v1h-1z"/><path fill="#20ffdf" d="M-1 5h1v1h-1zM0 5h1v1h-1zM1 5h1v1h-1zM-1 6h1v1h-1zM0 6h1v1h-1zM1 6h1v1h-1z"/></g></g><use href="#ol" transform="translate(999.7 632.6) scale(66.0 71.3)"/><path d="M999.7 632.6h66.0l-1.4 71.3H999.7z" fill="none" stroke="#444" stroke-width="1"/>
<g transform="translate(118.1 714.4) scale(11.0000 11.8833)" clip-path="url(#k6)"><g filter="url(#f6)"><path fill="#ff4c00" d="M-1 -1h1v1h-1zM0 -1h1v1h-1zM2 -1h1v1h-1zM3 -1h1v1h-1zM-1 0h1v1h-1zM0 0h1v1h-1zM2 0h1v1h-1zM3 0h1v1h-1zM-1 1h1v1h-1zM0 1h1v1h-1zM1 1h1v1h-1zM3 1h1v1h-1zM-1 3h1v1h-1zM0 3h1v1h-1zM3 3h1v1h-1zM2 4h1v1h-1zM4 5h1v1h-1zM4 6h1v1h-1z"/><path fill="#ffc700" d="M1 -1h1v1h-1zM1 0h1v1h-1zM-1 2h1v1h-1zM0 2h1v1h-1zM3 5h1v1h-1zM3 6h1v1h-1z"/><path fill="#b90000" d="M4 -1h1v1h-1zM4 0h1v1h-1zM2 1h1v1h-1zM5 1h1v1h-1zM6 1h1v1h-1zM1 2h1v1h-1zM4 2h1v1h-1zM5 2h1v1h-1zM6 2h1v1h-1zM2 3h1v1h-1zM5 3h1v1h-1zM6 3h1v1h-1zM3 4h1v1h-1zM4 4h1v1h-1zM5 4h1v1h-1zM6 4h1v1h-1z"/><path fill="#ff0200" d="M5 -1h1v1h-1zM6 -1h1v1h-1zM5 0h1v1h-1zM6 0h1v1h-1zM4 1h1v1h-1zM2 2h1v1h-1zM3 2h1v1h-1zM1 3h1v1h-1zM5 5h1v1h-1zM6 5h1v1h-1zM5 6h1v1h-1zM6 6h1v1h-1z"/><path fill="#800000" d="M4 3h1v1h-1z"/><path fill="#00bdff" d="M-1 4h1v1h-1zM0 4h1v1h-1z"/><path fill="#80ff80" d="M1 4h1v1h-1z"/><path fill="#005aff" d="M-1 5h1v1h-1zM0 5h1v1h-1zM-1 6h1v1h-1zM0 6h1v1h-1z"/><path fill="#20ffdf" d="M1 5h1v1h-1zM1 6h1v1h-1z"/><path fill="#dbff24" d="M2 5h1v1h-1zM2 6h1v1h-1z"/></g></g><use href="#ol" transform="translate(118.1 714.4) scale(66.0 71.3)"/><path d="M118.1 714.4h66.0l-1.4 71.3H118.1z" fill="none" stroke="#444" stroke-width="1"/>
<g transform="translate(197.3 714.4) scale(11.0000 11.8833)" clip-path="url(#k6)"><g filter="url(#f6)"><path fill="#dbff24" d="M-1 -1h1v1h-1zM0 -1h1v1h-1zM-1 0h1v1h-1zM0 0h1v1h-1zM-1 2h1v1h-1zM0 2h1v1h-1zM1 5h1v1h-1zM4 5h1v1h-1zM5 5h1v1h-1zM6 5h1v1h-1zM1 6h1v1h-1zM4 6h1v1h-1zM5 6h1v1h-1zM6 6h1v1h-1z"/><path fill="#ffc700" d="M1 -1h1v1h-1zM5 -1h1v1h-1zM6 -1h1v1h-1zM1 0h1v1h-1zM5 0h1v1h-1zM6 0h1v1h-1zM-1 1h1v1h-1zM0 1h1v1h-1zM-1 3h1v1h-1zM0 3h1v1h-1zM-1 4h1v1h-1zM0 4h1v1h-1zM2 4h1v1h-1zM4 4h1v1h-1zM5 4h1v1h-1zM6 4h1v1h-1z"/><path fill="#ff4c00" d="M2 -1h1v1h-1zM4 -1h1v1h-1zM2 0h1v1h-1zM4 0h1v1h-1zM1 1h1v1h-1zM3 2h1v1h-1zM5 3h1v1h-1zM6 3h1v1h-1zM3 4h1v1h-1z"/><path fill="#b90000" d="M3 -1h1v1h-1zM3 0h1v1h-1zM4 1h1v1h-1zM5 1h1v1h-1zM6 1h1v1h-1zM2 2h1v1h-1zM2 3h1v1h-1z"/><path fill="#800000" d="M2 1h1v1h-1zM4 2h1v1h-1zM3 3h1v1h-1zM4 3h1v1h-1z"/><path fill="#ff0200" d="M3 1h1v1h-1zM5 2h1v1h-1zM6 2h1v1h-1z"/><path fill="#80ff80" d="M1 2h1v1h-1zM1 3h1v1h-1zM1 4h1v1h-1zM-1 5h1v1h-1zM0 5h1v1h-1zM3 5h1v1h-1zM-1 6h1v1h-1zM0 6h1v1h-1zM3 6h1v1h-1z"/><path fill="#20ffdf" d="M2 5h1v1h-1zM2 6h1v1h-1z"/></g></g><use href="#ol" transform="translate(197.3 714.4) scale(66.0 71.3)"/><path d="M197.3 714.4h66.0l-1.4 71.3H197.3z" fill="none" stroke="#444" stroke-width="1"/>
<g transform="translate(278.0 714.4) scale(11.0000 11.8833)" clip-path="url(#k6)"><g filter="url(#f6)"><path fill="#ff0200" d="M-1 -1h1v1h-1zM0 -1h1v1h-1zM4 -1h1v1h-1zM-1 0h1v1h-1zM0 0h1v1h-1zM4 0h1v1h-1zM-1 1h1v1h-1zM0 1h1v1h-1zM5 1h1v1h-1zM6 1h1v1h-1z"/><path fill="#ff4c00" d="M1 -1h1v1h-1zM2 -1h1v1h-1zM3 -1h1v1h-1zM5 -1h1v1h-1zM6 -1h1v1h-1zM1 0h1v1h-1zM2 0h1v1h-1zM3 0h1v1h-1zM5 0h1v1h-1zM6 0h1v1h-1zM3 1h1v1h-1zM-1 2h1v1h-1zM0 2h1v1h-1z"/><path fill="#ffc700" d="M1 1h1v1h-1zM4 1h1v1h-1zM1 2h1v1h-1zM2 2h1v1h-1zM-1 3h1v1h-1zM0 3h1v1h-1z"/><path fill="#b90000" d="M2 1h1v1h-1z"/><path fill="#dbff24" d="M3 2h1v1h-1zM4 2h1v1h-1zM5 2h1v1h-1zM6 2h1v1h-1zM3 3h1v1h-1z"/><path fill="#80ff80" d="M1 3h1v1h-1zM2 3h1v1h-1zM4 3h1v1h-1z"/><path fill="#20ffdf" d="M5 3h1v1h-1zM6 3h1v1h-1zM-1 4h1v1h-1zM0 4h1v1h-1zM2 4h1v1h-1z"/><path fill="#00bdff" d="M1 4h1v1h-1zM3 4h1v1h-1zM4 4h1v1h-1z"/><path fill="#005aff" d="M5 4h1v1h-1zM6 4h1v1h-1zM-1 5h1v1h-1zM0 5h1v1h-1zM4 5h1v1h-1zM5 5h1v1h-1zM6 5h1v1h-1zM-1 6h1v1h-1zM0 6h1v1h-1zM4 6h1v1h-1zM5 6h1v1h-1zM6 6h1v1h-1z"/><path fill="#0016ff" d="M1 5h1v1h-1zM2 5h1v1h-1zM3 5h1v1h-1zM1 6h1v1h-1zM2 6h1v1h-1zM3 6h1v1h-1z"/></g></g><use href="#ol" transform="translate(278.0 714.4) scale(66.0 71.3)"/><path d="M278.0 714.4h66.0l-1.4 71.3H278.0z" fill="none" stroke="#444" stroke-width="1"/>
<g transform="translate(358.9 714.4) scale(11.0000 11.8833)" clip-path="url(#k6)"><g filter="url(#f6)"><path fill="#20ffdf" d="M-1 -1h1v1h-1zM0 -1h1v1h-1zM1 -1h1v1h-1zM3 -1h1v1h-1zM-1 0h1v1h-1zM0 0h1v1h-1zM1 0h1v1h-1zM3 0h1v1h-1zM2 1h1v1h-1z"/><path fill="#80ff80" d="M2 -1h1v1h-1zM2 0h1v1h-1z"/><path fill="#00bdff" d="M4 -1h1v1h-1zM4 0h1v1h-1zM-1 1h1v1h-1zM0 1h1v1h-1zM1 1h1v1h-1zM3 1h1v1h-1zM4 1h1v1h-1z"/><path fill="#005aff" d="M5 -1h1v1h-1zM6 -1h1v1h-1zM5 0h1v1h-1zM6 0h1v1h-1zM5 1h1v1h-1zM6 1h1v1h-1zM-1 2h1v1h-1zM0 2h1v1h-1zM1 2h1v1h-1zM4 2h1v1h-1zM5 2h1v1h-1zM6 2h1v1h-1zM2 3h1v1h-1z"/><path fill="#0016ff" d="M2 2h1v1h-1zM3 2h1v1h-1zM-1 3h1v1h-1zM0 3h1v1h-1zM1 3h1v1h-1zM3 3h1v1h-1zM4 3h1v1h-1zM5 3h1v1h-1zM6 3h1v1h-1zM1 4h1v1h-1zM2 4h1v1h-1zM3 4h1v1h-1zM5 4h1v1h-1zM6 4h1v1h-1zM3 5h1v1h-1zM4 5h1v1h-1zM3 6h1v1h-1zM4 6h1v1h-1z"/><path fill="#0000f6" d="M-1 4h1v1h-1zM0 4h1v1h-1zM4 4h1v1h-1zM-1 5h1v1h-1zM0 5h1v1h-1zM1 5h1v1h-1zM2 5h1v1h-1zM5 5h1v1h-1zM6 5h1v1h-1zM-1 6h1v1h-1zM0 6h1v1h-1zM1 6h1v1h-1zM2 6h1v1h-1zM5 6h1v1h-1zM6 6h1v1h-1z"/></g></g><use href="#ol" transform="translate(358.9 714.4) scale(66.0 71.3)"/><path d="M358.9 714.4h66.0l-1.4 71.3H358.9z" fill="none" stroke="#444" stroke-width="1"/>
<g transform="translate(439.9 715.2) scale(22.0000 23.7667)" clip-path="url(#k3)"><g filter="url(#f3)"><path fill="#0000d4" d="M-1 -1h1v1h-1zM0 -1h1v1h-1zM1 -1h1v1h-1zM-1 0h1v1h-1zM0 0h1v1h-1zM1 0h1v1h-1z"/><path fill="#0000b9" d="M2 -1h1v1h-1zM3 -1h1v1h-1zM2 0h1v1h-1zM3 0h1v1h-1zM-1 1h1v1h-1zM0 1h1v1h-1zM1 1h1v1h-1zM2 1h1v1h-1zM3 1h1v1h-1zM-1 2h1v1h-1zM0 2h1v1h-1zM1 2h1v1h-1zM2 2h1v1h-1zM3 2h1v1h-1zM-1 3h1v1h-1zM0 3h1v1h-1zM1 3h1v1h-1zM2 3h1v1h-1zM3 3h1v1h-1z"/></g></g><use href="#ol" transform="translate(439.9 715.2) scale(66.0 71.3)"/><path d="M439.9 715.2h66.0l-1.4 71.3H439.9z" fill="none" stroke="#444" stroke-width="1"/>
<path d="M519.6 714.4h66.0l-1.4 71.3H519.6z" fill="#000094"/><use href="#ol" transform="translate(519.6 714.4) scale(66.0 71.3)"/><path d="M519.6 714.4h66.0l-1.4 71.3H519.6z" fill="none" stroke="#444" stroke-width="1"/>
<path d="M599.2 714.4h66.0l-1.4 71.3H599.2z" fill="#000094"/><use href="#ol" transform="translate(599.2 714.4) scale(66.0 71.3)"/><path d="M599.2 714.4h66.0l-1.4 71.3H599.2z" fill="none" stroke="#444" stroke-width="1"/>
<g transform="translate(679.6 714.4) scale(22.0000 23.7667)" clip-path="url(#k3)"><g filter="url(#f3)"><path fill="#0000a2" d="M-1 -1h1v1h-1zM0 -1h1v1h-1zM1 -1h1v1h-1zM2 -1h1v1h-1zM3 -1h1v1h-1zM-1 0h1v1h-1zM0 0h1v1h-1zM1 0h1v1h-1zM2 0h1v1h-1zM3 0h1v1h-1z"/><path fill="#000094" d="M-1 1h1v1h-1zM0 1h1v1h-1zM1 1h1v1h-1zM2 1h1v1h-1zM3 1h1v1h-1zM-1 2h1v1h-1zM0 2h1v1h-1zM1 2h1v1h-1zM2 2h1v1h-1zM3 2h1v1h-1zM-1 3h1v1h-1zM0 3h1v1h-1zM1 3h1v1h-1zM2 3h1v1h-1zM3 3h1v1h-1z"/></g></g><use href="#ol" transform="translate(679.6 714.4) scale(66.0 71.3)"/><path d="M679.6 714.4h66.0l-1.4 71.3H679.6z" fill="none" stroke="#444" stroke-width="1"/>
<g transform="translate(759.7 715.2) scale(16.5000 17.8250)" clip-path="url(#k4)"><g filter="url(#f4)"><path fill="#0016ff" d="M-1 -1h1v1h-1zM0 -1h1v1h-1zM-1 0h1v1h-1zM0 0h1v1h-1z"/><path fill="#0000d4" d="M1 -1h1v1h-1zM1 0h1v1h-1zM-1 1h1v1h-1zM0 1h1v1h-1z"/><path fill="#0000b9" d="M2 -1h1v1h-1zM3 -1h1v1h-1zM4 -1h1v1h-1zM2 0h1v1h-1zM3 0h1v1h-1zM4 0h1v1h-1zM1 1h1v1h-1zM2 1h1v1h-1zM3 1h1v1h-1zM4 1h1v1h-1zM-1 2h1v1h-1zM0 2h1v1h-1zM1 2h1v1h-1zM2 2h1v1h-1zM3 2h1v1h-1zM4 2h1v1h-1zM-1 3h1v1h-1zM0 3h1v1h-1zM1 3h1v1h-1zM2 3h1v1h-1zM3 3h1v1h-1zM4 3h1v1h-1zM-1 4h1v1h-1zM0 4h1v1h-1zM1 4h1v1h-1zM2 4h1v1h-1zM3 4h1v1h-1zM4 4h1v1h-1z"/></g></g><use href="#ol" transform="translate(759.7 715.2) scale(66.0 71.3)"/><path d="M759.7 715.2h66.0l-1.4 71.3H759.7z" fill="none" stroke="#444" stroke-width="1"/>
<g transform="translate(839.0 714.4) scale(11.0000 11.8833)" clip-path="url(#k6)"><g filter="url(#f6)"><path fill="#80ff80" d="M-1 -1h1v1h-1zM0 -1h1v1h-1zM-1 0h1v1h-1zM0 0h1v1h-1z"/><path fill="#20ffdf" d="M1 -1h1v1h-1zM2 -1h1v1h-1zM3 -1h1v1h-1zM1 0h1v1h-1zM2 0h1v1h-1zM3 0h1v1h-1zM-1 1h1v1h-1zM0 1h1v1h-1z"/><path fill="#00bdff" d="M4 -1h1v1h-1zM5 -1h1v1h-1zM6 -1h1v1h-1zM4 0h1v1h-1zM5 0h1v1h-1zM6 0h1v1h-1zM1 1h1v1h-1zM2 1h1v1h-1zM3 1h1v1h-1z"/><path fill="#005aff" d="M4 1h1v1h-1zM5 1h1v1h-1zM6 1h1v1h-1zM-1 2h1v1h-1zM0 2h1v1h-1zM2 2h1v1h-1zM3 2h1v1h-1zM3 4h1v1h-1z"/><path fill="#0016ff" d="M1 2h1v1h-1zM4 2h1v1h-1zM5 2h1v1h-1zM6 2h1v1h-1zM-1 3h1v1h-1zM0 3h1v1h-1zM3 3h1v1h-1zM2 4h1v1h-1zM4 4h1v1h-1z"/><path fill="#0000f6" d="M1 3h1v1h-1zM2 3h1v1h-1zM4 3h1v1h-1zM5 3h1v1h-1zM6 3h1v1h-1zM-1 4h1v1h-1zM0 4h1v1h-1zM1 4h1v1h-1zM5 4h1v1h-1zM6 4h1v1h-1zM-1 5h1v1h-1zM0 5h1v1h-1zM1 5h1v1h-1zM2 5h1v1h-1zM3 5h1v1h-1zM4 5h1v1h-1zM5 5h1v1h-1zM6 5h1v1h-1zM-1 6h1v1h-1zM0 6h1v1h-1zM1 6h1v1h-1zM2 6h1v1h-1zM3 6h1v1h-1zM4 6h1v1h-1zM5 6h1v1h-1zM6 6h1v1h-1z"/></g></g><use href="#ol" transform="translate(839.0 714.4) scale(66.0 71.3)"/><path d="M839.0 714.4h66.0l-1.4 71.3H839.0z" fill="none" stroke="#444" stroke-width="1"/>
<g transform="translate(919.3 714.4) scale(11.0000 11.8833)" clip-path="url(#k6)"><g filter="url(#f6)"><path fill="#ff4c00" d="M-1 -1h1v1h-1zM0 -1h1v1h-1zM2 -1h1v1h-1zM-1 0h1v1h-1zM0 0h1v1h-1zM2 0h1v1h-1zM3 1h1v1h-1z"/><path fill="#ffc700" d="M1 -1h1v1h-1zM4 -1h1v1h-1zM1 0h1v1h-1zM4 0h1v1h-1zM-1 1h1v1h-1zM0 1h1v1h-1zM2 1h1v1h-1zM4 1h1v1h-1zM-1 2h1v1h-1zM0 2h1v1h-1z"/><path fill="#ff0200" d="M3 -1h1v1h-1zM3 0h1v1h-1z"/><path fill="#dbff24" d="M5 -1h1v1h-1zM6 -1h1v1h-1zM5 0h1v1h-1zM6 0h1v1h-1zM1 1h1v1h-1zM5 1h1v1h-1zM6 1h1v1h-1zM3 2h1v1h-1zM4 2h1v1h-1zM1 3h1v1h-1z"/><path fill="#80ff80" d="M1 2h1v1h-1zM2 2h1v1h-1zM5 2h1v1h-1zM6 2h1v1h-1zM-1 3h1v1h-1zM0 3h1v1h-1zM2 3h1v1h-1z"/><path fill="#20ffdf" d="M3 3h1v1h-1zM4 3h1v1h-1zM5 3h1v1h-1zM6 3h1v1h-1zM4 4h1v1h-1zM5 4h1v1h-1zM6 4h1v1h-1z"/><path fill="#005aff" d="M-1 4h1v1h-1zM0 4h1v1h-1zM1 4h1v1h-1zM2 5h1v1h-1zM2 6h1v1h-1z"/><path fill="#00bdff" d="M2 4h1v1h-1zM3 4h1v1h-1zM3 5h1v1h-1zM4 5h1v1h-1zM5 5h1v1h-1zM6 5h1v1h-1zM3 6h1v1h-1zM4 6h1v1h-1zM5 6h1v1h-1zM6 6h1v1h-1z"/><path fill="#0016ff" d="M-1 5h1v1h-1zM0 5h1v1h-1zM1 5h1v1h-1zM-1 6h1v1h-1zM0 6h1v1h-1zM1 6h1v1h-1z"/></g></g><use href="#ol" transform="translate(919.3 714.4) scale(66.0 71.3)"/><path d="M919.3 714.4h66.0l-1.4 71.3H919.3z" fill="none" stroke="#444" stroke-width="1"/>
<g transform="translate(999.7 714.4) scale(11.0000 11.8833)" clip-path="url(#k6)"><g filter="url(#f6)"><path fill="#ff4c00" d="M-1 -1h1v1h-1zM0 -1h1v1h-1zM1 -1h1v1h-1zM2 -1h1v1h-1zM4 -1h1v1h-1zM-1 0h1v1h-1zM0 0h1v1h-1zM1 0h1v1h-1zM2 0h1v1h-1zM4 0h1v1h-1zM-1 1h1v1h-1zM0 1h1v1h-1zM-1 2h1v1h-1zM0 2h1v1h-1zM4 2h1v1h-1zM5 2h1v1h-1zM6 2h1v1h-1zM3 3h1v1h-1z"/><path fill="#ff0200" d="M3 -1h1v1h-1zM5 -1h1v1h-1zM6 -1h1v1h-1zM3 0h1v1h-1zM5 0h1v1h-1zM6 0h1v1h-1zM5 1h1v1h-1zM6 1h1v1h-1zM2 2h1v1h-1zM3 2h1v1h-1z"/><path fill="#ffc700" d="M1 1h1v1h-1zM1 2h1v1h-1zM2 3h1v1h-1zM4 3h1v1h-1zM5 3h1v1h-1zM6 3h1v1h-1z"/><path fill="#b90000" d="M2 1h1v1h-1zM4 1h1v1h-1z"/><path fill="#800000" d="M3 1h1v1h-1z"/><path fill="#dbff24" d="M-1 3h1v1h-1zM0 3h1v1h-1zM1 3h1v1h-1zM2 4h1v1h-1zM3 4h1v1h-1zM4 4h1v1h-1z"/><path fill="#80ff80" d="M-1 4h1v1h-1zM0 4h1v1h-1zM1 4h1v1h-1zM5 4h1v1h-1zM6 4h1v1h-1zM3 5h1v1h-1zM3 6h1v1h-1z"/><path fill="#00bdff" d="M-1 5h1v1h-1zM0 5h1v1h-1zM-1 6h1v1h-1zM0 6h1v1h-1z"/><path fill="#20ffdf" d="M1 5h1v1h-1zM2 5h1v1h-1zM4 5h1v1h-1zM5 5h1v1h-1zM6 5h1v1h-1zM1 6h1v1h-1zM2 6h1v1h-1zM4 6h1v1h-1zM5 6h1v1h-1zM6 6h1v1h-1z"/></g></g><use href="#ol" transform="translate(999.7 714.4) scale(66.0 71.3)"/><path d="M999.7 714.4h66.0l-1.4 71.3H999.7z" fill="none" stroke="#444" stroke-width="1"/>
<g transform="translate(116.4 800.4) scale(11.0000 11.8833)" clip-path="url(#k6)"><g filter="url(#f6)"><path fill="#ffc700" d="M-1 -1h1v1h-1zM0 -1h1v1h-1zM-1 0h1v1h-1zM0 0h1v1h-1zM1 2h1v1h-1zM2 2h1v1h-1zM2 3h1v1h-1zM5 3h1v1h-1zM6 3h1v1h-1zM3 4h1v1h-1zM4 4h1v1h-1zM5 4h1v1h-1zM6 4h1v1h-1zM4 5h1v1h-1zM4 6h1v1h-1z"/><path fill="#ff4c00" d="M1 -1h1v1h-1zM2 -1h1v1h-1zM1 0h1v1h-1zM2 0h1v1h-1zM-1 1h1v1h-1zM0 1h1v1h-1zM1 1h1v1h-1zM-1 2h1v1h-1zM0 2h1v1h-1zM3 2h1v1h-1zM4 2h1v1h-1zM5 2h1v1h-1zM6 2h1v1h-1zM3 3h1v1h-1zM4 3h1v1h-1z"/><path fill="#ff0200" d="M3 -1h1v1h-1zM3 0h1v1h-1zM4 1h1v1h-1z"/><path fill="#b90000" d="M4 -1h1v1h-1zM5 -1h1v1h-1zM6 -1h1v1h-1zM4 0h1v1h-1zM5 0h1v1h-1zM6 0h1v1h-1zM2 1h1v1h-1zM3 1h1v1h-1zM5 1h1v1h-1zM6 1h1v1h-1z"/><path fill="#dbff24" d="M-1 3h1v1h-1zM0 3h1v1h-1zM1 3h1v1h-1zM2 4h1v1h-1zM3 5h1v1h-1zM5 5h1v1h-1zM6 5h1v1h-1zM3 6h1v1h-1zM5 6h1v1h-1zM6 6h1v1h-1z"/><path fill="#20ffdf" d="M-1 4h1v1h-1zM0 4h1v1h-1zM1 5h1v1h-1zM1 6h1v1h-1z"/><path fill="#80ff80" d="M1 4h1v1h-1zM2 5h1v1h-1zM2 6h1v1h-1z"/><path fill="#005aff" d="M-1 5h1v1h-1zM0 5h1v1h-1zM-1 6h1v1h-1zM0 6h1v1h-1z"/></g></g><use href="#ol" transform="translate(116.4 800.4) scale(66.0 71.3)"/><path d="M116.4 800.4h66.0l-1.4 71.3H116.4z" fill="none" stroke="#444" stroke-width="1"/>
<g transform="translate(196.5 800.4) scale(11.0000 11.8833)" clip-path="url(#k6)"><g filter="url(#f6)"><path fill="#ffc700" d="M-1 -1h1v1h-1zM0 -1h1v1h-1zM1 -1h1v1h-1zM3 -1h1v1h-1zM-1 0h1v1h-1zM0 0h1v1h-1zM1 0h1v1h-1zM3 0h1v1h-1zM-1 1h1v1h-1zM0 1h1v1h-1zM1 1h1v1h-1zM4 1h1v1h-1zM5 1h1v1h-1zM6 1h1v1h-1zM3 2h1v1h-1zM5 2h1v1h-1zM6 2h1v1h-1zM4 3h1v1h-1zM3 4h1v1h-1zM4 4h1v1h-1zM4 5h1v1h-1zM4 6h1v1h-1z"/><path fill="#ff4c00" d="M2 -1h1v1h-1zM2 0h1v1h-1zM3 1h1v1h-1zM1 2h1v1h-1zM2 2h1v1h-1zM4 2h1v1h-1zM2 3h1v1h-1zM3 3h1v1h-1z"/><path fill="#dbff24" d="M4 -1h1v1h-1zM5 -1h1v1h-1zM6 -1h1v1h-1zM4 0h1v1h-1zM5 0h1v1h-1zM6 0h1v1h-1zM-1 2h1v1h-1zM0 2h1v1h-1zM2 4h1v1h-1zM3 5h1v1h-1zM3 6h1v1h-1z"/><path fill="#ff0200" d="M2 1h1v1h-1zM5 3h1v1h-1zM6 3h1v1h-1zM5 5h1v1h-1zM6 5h1v1h-1zM5 6h1v1h-1zM6 6h1v1h-1z"/><path fill="#20ffdf" d="M-1 3h1v1h-1zM0 3h1v1h-1zM-1 4h1v1h-1zM0 4h1v1h-1zM1 5h1v1h-1zM1 6h1v1h-1z"/><path fill="#80ff80" d="M1 3h1v1h-1zM1 4h1v1h-1zM2 5h1v1h-1zM2 6h1v1h-1z"/><path fill="#b90000" d="M5 4h1v1h-1zM6 4h1v1h-1z"/><path fill="#00bdff" d="M-1 5h1v1h-1zM0 5h1v1h-1zM-1 6h1v1h-1zM0 6h1v1h-1z"/></g></g><use href="#ol" transform="translate(196.5 800.4) scale(66.0 71.3)"/><path d="M196.5 800.4h66.0l-1.4 71.3H196.5z" fill="none" stroke="#444" stroke-width="1"/>
<g transform="translate(278.1 800.4) scale(11.0000 11.8833)" clip-path="url(#k6)"><g filter="url(#f6)"><path fill="#ff4c00" d="M-1 -1h1v1h-1zM0 -1h1v1h-1zM1 -1h1v1h-1zM2 -1h1v1h-1zM3 -1h1v1h-1zM4 -1h1v1h-1zM-1 0h1v1h-1zM0 0h1v1h-1zM1 0h1v1h-1zM2 0h1v1h-1zM3 0h1v1h-1zM4 0h1v1h-1zM-1 1h1v1h-1zM0 1h1v1h-1zM4 1h1v1h-1zM5 1h1v1h-1zM6 1h1v1h-1zM-1 2h1v1h-1zM0 2h1v1h-1z"/><path fill="#ffc700" d="M5 -1h1v1h-1zM6 -1h1v1h-1zM5 0h1v1h-1zM6 0h1v1h-1zM3 1h1v1h-1zM1 2h1v1h-1zM2 2h1v1h-1zM-1 3h1v1h-1zM0 3h1v1h-1z"/><path fill="#b90000" d="M1 1h1v1h-1z"/><path fill="#ff0200" d="M2 1h1v1h-1z"/><path fill="#dbff24" d="M3 2h1v1h-1zM4 2h1v1h-1zM5 2h1v1h-1zM6 2h1v1h-1zM1 3h1v1h-1zM3 3h1v1h-1z"/><path fill="#80ff80" d="M2 3h1v1h-1zM4 3h1v1h-1zM2 4h1v1h-1z"/><path fill="#20ffdf" d="M5 3h1v1h-1zM6 3h1v1h-1zM-1 4h1v1h-1zM0 4h1v1h-1zM1 4h1v1h-1zM3 4h1v1h-1zM4 4h1v1h-1z"/><path fill="#00bdff" d="M5 4h1v1h-1zM6 4h1v1h-1zM-1 5h1v1h-1zM0 5h1v1h-1zM1 5h1v1h-1zM2 5h1v1h-1zM3 5h1v1h-1zM4 5h1v1h-1zM-1 6h1v1h-1zM0 6h1v1h-1zM1 6h1v1h-1zM2 6h1v1h-1zM3 6h1v1h-1zM4 6h1v1h-1z"/><path fill="#005aff" d="M5 5h1v1h-1zM6 5h1v1h-1zM5 6h1v1h-1zM6 6h1v1h-1z"/></g></g><use href="#ol" transform="translate(278.1 800.4) scale(66.0 71.3)"/><path d="M278.1 800.4h66.0l-1.4 71.3H278.1z" fill="none" stroke="#444" stroke-width="1"/>
<g transform="translate(359.4 800.4) scale(11.0000 11.8833)" clip-path="url(#k6)"><g filter="url(#f6)"><path fill="#80ff80" d="M-1 -1h1v1h-1zM0 -1h1v1h-1zM-1 0h1v1h-1zM0 0h1v1h-1zM2 1h1v1h-1z"/><path fill="#20ffdf" d="M1 -1h1v1h-1zM2 -1h1v1h-1zM3 -1h1v1h-1zM1 0h1v1h-1zM2 0h1v1h-1zM3 0h1v1h-1zM3 1h1v1h-1z"/><path fill="#00bdff" d="M4 -1h1v1h-1zM5 -1h1v1h-1zM6 -1h1v1h-1zM4 0h1v1h-1zM5 0h1v1h-1zM6 0h1v1h-1zM-1 1h1v1h-1zM0 1h1v1h-1zM1 1h1v1h-1zM4 1h1v1h-1zM5 1h1v1h-1zM6 1h1v1h-1zM2 2h1v1h-1z"/><path fill="#005aff" d="M-1 2h1v1h-1zM0 2h1v1h-1zM1 2h1v1h-1zM3 2h1v1h-1zM-1 3h1v1h-1zM0 3h1v1h-1z"/><path fill="#0016ff" d="M4 2h1v1h-1zM5 2h1v1h-1zM6 2h1v1h-1zM1 3h1v1h-1zM2 3h1v1h-1zM3 3h1v1h-1zM5 3h1v1h-1zM6 3h1v1h-1zM-1 4h1v1h-1zM0 4h1v1h-1zM1 4h1v1h-1zM2 4h1v1h-1zM3 4h1v1h-1zM4 4h1v1h-1zM-1 5h1v1h-1zM0 5h1v1h-1zM2 5h1v1h-1zM4 5h1v1h-1zM-1 6h1v1h-1zM0 6h1v1h-1zM2 6h1v1h-1zM4 6h1v1h-1z"/><path fill="#0000f6" d="M4 3h1v1h-1zM5 4h1v1h-1zM6 4h1v1h-1zM1 5h1v1h-1zM3 5h1v1h-1zM5 5h1v1h-1zM6 5h1v1h-1zM1 6h1v1h-1zM3 6h1v1h-1zM5 6h1v1h-1zM6 6h1v1h-1z"/></g></g><use href="#ol" transform="translate(359.4 800.4) scale(66.0 71.3)"/><path d="M359.4 800.4h66.0l-1.4 71.3H359.4z" fill="none" stroke="#444" stroke-width="1"/>
<g transform="translate(439.5 800.4) scale(22.0000 23.7667)" clip-path="url(#k3)"><g filter="url(#f3)"><path fill="#0000d4" d="M-1 -1h1v1h-1zM0 -1h1v1h-1zM-1 0h1v1h-1zM0 0h1v1h-1z"/><path fill="#0000b9" d="M1 -1h1v1h-1zM2 -1h1v1h-1zM3 -1h1v1h-1zM1 0h1v1h-1zM2 0h1v1h-1zM3 0h1v1h-1zM-1 1h1v1h-1zM0 1h1v1h-1zM1 1h1v1h-1zM2 1h1v1h-1zM3 1h1v1h-1zM-1 2h1v1h-1zM0 2h1v1h-1zM1 2h1v1h-1zM2 2h1v1h-1zM3 2h1v1h-1zM-1 3h1v1h-1zM0 3h1v1h-1zM1 3h1v1h-1zM2 3h1v1h-1zM3 3h1v1h-1z"/></g></g><use href="#ol" transform="translate(439.5 800.4) scale(66.0 71.3)"/><path d="M439.5 800.4h66.0l-1.4 71.3H439.5z" fill="none" stroke="#444" stroke-width="1"/>
<path d="M520.0 800.4h66.0l-1.4 71.3H520.0z" fill="#000094"/><use href="#ol" transform="translate(520.0 800.4) scale(66.0 71.3)"/><path d="M520.0 800.4h66.0l-1.4 71.3H520.0z" fill="none" stroke="#444" stroke-width="1"/>
<path d="M598.8 800.4h66.0l-1.4 71.3H598.8z" fill="#000094"/><use href="#ol" transform="translate(598.8 800.4) scale(66.0 71.3)"/><path d="M598.8 800.4h66.0l-1.4 71.3H598.8z" fill="none" stroke="#444" stroke-width="1"/>
<g transform="translate(679.4 800.4) scale(22.0000 23.7667)" clip-path="url(#k3)"><g filter="url(#f3)"><path fill="#0000a2" d="M-1 -1h1v1h-1zM0 -1h1v1h-1zM1 -1h1v1h-1zM2 -1h1v1h-1zM3 -1h1v1h-1zM-1 0h1v1h-1zM0 0h1v1h-1zM1 0h1v1h-1zM2 0h1v1h-1zM3 0h1v1h-1z"/><path fill="#000094" d="M-1 1h1v1h-1zM0 1h1v1h-1zM1 1h1v1h-1zM2 1h1v1h-1zM3 1h1v1h-1zM-1 2h1v1h-1zM0 2h1v1h-1zM1 2h1v1h-1zM2 2h1v1h-1zM3 2h1v1h-1zM-1 3h1v1h-1zM0 3h1v1h-1zM1 3h1v1h-1zM2 3h1v1h-1zM3 3h1v1h-1z"/></g></g><use href="#ol" transform="translate(679.4 800.4) scale(66.0 71.3)"/><path d="M679.4 800.4h66.0l-1.4 71.3H679.4z" fill="none" stroke="#444" stroke-width="1"/>
<g transform="translate(759.5 800.4) scale(16.5000 17.8250)" clip-path="url(#k4)"><g filter="url(#f4)"><path fill="#0016ff" d="M-1 -1h1v1h-1zM0 -1h1v1h-1zM2 -1h1v1h-1zM-1 0h1v1h-1zM0 0h1v1h-1zM2 0h1v1h-1z"/><path fill="#0000d4" d="M1 -1h1v1h-1zM3 -1h1v1h-1zM4 -1h1v1h-1zM1 0h1v1h-1zM3 0h1v1h-1zM4 0h1v1h-1zM1 1h1v1h-1z"/><path fill="#0000b9" d="M-1 1h1v1h-1zM0 1h1v1h-1zM2 1h1v1h-1zM3 1h1v1h-1zM4 1h1v1h-1zM-1 2h1v1h-1zM0 2h1v1h-1zM1 2h1v1h-1zM2 2h1v1h-1zM3 2h1v1h-1zM4 2h1v1h-1zM-1 3h1v1h-1zM0 3h1v1h-1zM1 3h1v1h-1zM2 3h1v1h-1zM3 3h1v1h-1zM4 3h1v1h-1zM-1 4h1v1h-1zM0 4h1v1h-1zM1 4h1v1h-1zM2 4h1v1h-1zM3 4h1v1h-1zM4 4h1v1h-1z"/></g></g><use href="#ol" transform="translate(759.5 800.4) scale(66.0 71.3)"/><path d="M759.5 800.4h66.0l-1.4 71.3H759.5z" fill="none" stroke="#444" stroke-width="1"/>
<g transform="translate(839.0 800.4) scale(11.0000 11.8833)" clip-path="url(#k6)"><g filter="url(#f6)"><path fill="#20ffdf" d="M-1 -1h1v1h-1zM0 -1h1v1h-1zM1 -1h1v1h-1zM4 -1h1v1h-1zM-1 0h1v1h-1zM0 0h1v1h-1zM1 0h1v1h-1zM4 0h1v1h-1z"/><path fill="#00bdff" d="M2 -1h1v1h-1zM3 -1h1v1h-1zM5 -1h1v1h-1zM6 -1h1v1h-1zM2 0h1v1h-1zM3 0h1v1h-1zM5 0h1v1h-1zM6 0h1v1h-1zM-1 1h1v1h-1zM0 1h1v1h-1zM1 1h1v1h-1zM4 1h1v1h-1z"/><path fill="#005aff" d="M2 1h1v1h-1zM3 1h1v1h-1zM-1 2h1v1h-1zM0 2h1v1h-1zM2 2h1v1h-1zM3 3h1v1h-1z"/><path fill="#0016ff" d="M5 1h1v1h-1zM6 1h1v1h-1zM1 2h1v1h-1zM3 2h1v1h-1zM5 2h1v1h-1zM6 2h1v1h-1zM-1 3h1v1h-1zM0 3h1v1h-1zM1 3h1v1h-1zM2 3h1v1h-1zM1 4h1v1h-1zM2 4h1v1h-1zM5 4h1v1h-1zM6 4h1v1h-1z"/><path fill="#0000f6" d="M4 2h1v1h-1zM4 3h1v1h-1zM5 3h1v1h-1zM6 3h1v1h-1zM-1 4h1v1h-1zM0 4h1v1h-1zM3 4h1v1h-1zM4 4h1v1h-1zM-1 5h1v1h-1zM0 5h1v1h-1zM1 5h1v1h-1zM2 5h1v1h-1zM3 5h1v1h-1zM4 5h1v1h-1zM5 5h1v1h-1zM6 5h1v1h-1zM-1 6h1v1h-1zM0 6h1v1h-1zM1 6h1v1h-1zM2 6h1v1h-1zM3 6h1v1h-1zM4 6h1v1h-1zM5 6h1v1h-1zM6 6h1v1h-1z"/></g></g><use href="#ol" transform="translate(839.0 800.4) scale(66.0 71.3)"/><path d="M839.0 800.4h66.0l-1.4 71.3H839.0z" fill="none" stroke="#444" stroke-width="1"/>
<g transform="translate(918.8 800.4) scale(11.0000 11.8833)" clip-path="url(#k6)"><g filter="url(#f6)"><path fill="#ff4c00" d="M-1 -1h1v1h-1zM0 -1h1v1h-1zM2 -1h1v1h-1zM3 -1h1v1h-1zM-1 0h1v1h-1zM0 0h1v1h-1zM2 0h1v1h-1zM3 0h1v1h-1zM-1 1h1v1h-1zM0 1h1v1h-1z"/><path fill="#ffc700" d="M1 -1h1v1h-1zM4 -1h1v1h-1zM5 -1h1v1h-1zM6 -1h1v1h-1zM1 0h1v1h-1zM4 0h1v1h-1zM5 0h1v1h-1zM6 0h1v1h-1zM1 1h1v1h-1zM2 1h1v1h-1zM3 1h1v1h-1zM4 1h1v1h-1zM5 1h1v1h-1zM6 1h1v1h-1z"/><path fill="#dbff24" d="M-1 2h1v1h-1zM0 2h1v1h-1zM1 2h1v1h-1zM2 2h1v1h-1zM4 2h1v1h-1zM5 2h1v1h-1zM6 2h1v1h-1z"/><path fill="#80ff80" d="M3 2h1v1h-1z"/><path fill="#00bdff" d="M-1 3h1v1h-1zM0 3h1v1h-1zM2 4h1v1h-1zM4 4h1v1h-1zM5 4h1v1h-1zM6 4h1v1h-1zM4 5h1v1h-1zM4 6h1v1h-1z"/><path fill="#20ffdf" d="M1 3h1v1h-1zM2 3h1v1h-1zM3 3h1v1h-1zM4 3h1v1h-1zM5 3h1v1h-1zM6 3h1v1h-1zM3 4h1v1h-1z"/><path fill="#0016ff" d="M-1 4h1v1h-1zM0 4h1v1h-1zM2 5h1v1h-1zM2 6h1v1h-1z"/><path fill="#005aff" d="M1 4h1v1h-1zM3 5h1v1h-1zM5 5h1v1h-1zM6 5h1v1h-1zM3 6h1v1h-1zM5 6h1v1h-1zM6 6h1v1h-1z"/><path fill="#0000d4" d="M-1 5h1v1h-1zM0 5h1v1h-1zM1 5h1v1h-1zM-1 6h1v1h-1zM0 6h1v1h-1zM1 6h1v1h-1z"/></g></g><use href="#ol" transform="translate(918.8 800.4) scale(66.0 71.3)"/><path d="M918.8 800.4h66.0l-1.4 71.3H918.8z" fill="none" stroke="#444" stroke-width="1"/>
<g transform="translate(997.4 800.4) scale(11.0000 11.8833)" clip-path="url(#k6)"><g filter="url(#f6)"><path fill="#ff4c00" d="M-1 -1h1v1h-1zM0 -1h1v1h-1zM1 -1h1v1h-1zM2 -1h1v1h-1zM4 -1h1v1h-1zM5 -1h1v1h-1zM6 -1h1v1h-1zM-1 0h1v1h-1zM0 0h1v1h-1zM1 0h1v1h-1zM2 0h1v1h-1zM4 0h1v1h-1zM5 0h1v1h-1zM6 0h1v1h-1zM2 1h1v1h-1zM-1 2h1v1h-1zM0 2h1v1h-1zM4 3h1v1h-1zM5 3h1v1h-1zM6 3h1v1h-1z"/><path fill="#ff0200" d="M3 -1h1v1h-1zM3 0h1v1h-1zM4 2h1v1h-1zM5 2h1v1h-1zM6 2h1v1h-1z"/><path fill="#b90000" d="M-1 1h1v1h-1zM0 1h1v1h-1zM3 1h1v1h-1zM5 1h1v1h-1zM6 1h1v1h-1z"/><path fill="#ffc700" d="M1 1h1v1h-1zM2 2h1v1h-1zM3 2h1v1h-1zM5 4h1v1h-1zM6 4h1v1h-1z"/><path fill="#800000" d="M4 1h1v1h-1z"/><path fill="#dbff24" d="M1 2h1v1h-1zM-1 3h1v1h-1zM0 3h1v1h-1zM2 3h1v1h-1zM3 3h1v1h-1zM2 4h1v1h-1zM3 4h1v1h-1zM4 4h1v1h-1z"/><path fill="#80ff80" d="M1 3h1v1h-1zM1 4h1v1h-1zM3 5h1v1h-1zM4 5h1v1h-1zM5 5h1v1h-1zM6 5h1v1h-1zM3 6h1v1h-1zM4 6h1v1h-1zM5 6h1v1h-1zM6 6h1v1h-1z"/><path fill="#20ffdf" d="M-1 4h1v1h-1zM0 4h1v1h-1zM2 5h1v1h-1zM2 6h1v1h-1z"/><path fill="#005aff" d="M-1 5h1v1h-1zM0 5h1v1h-1zM-1 6h1v1h-1zM0 6h1v1h-1z"/><path fill="#00bdff" d="M1 5h1v1h-1zM1 6h1v1h-1z"/></g></g><use href="#ol" transform="translate(997.4 800.4) scale(66.0 71.3)"/><path d="M997.4 800.4h66.0l-1.4 71.3H997.4z" fill="none" stroke="#444" stroke-width="1"/>
<rect x="1080.5" y="829.04" width="31.5" height="12.26" fill="#00008f"/><rect x="1080.5" y="817.18" width="31.5" height="12.26" fill="#00009f"/><rect x="1080.5" y="805.32" width="31.5" height="12.26" fill="#0000af"/><rect x="1080.5" y="793.46" width="31.5" height="12.26" fill="#0000bf"/><rect x="1080.5" y="781.60" width="31.5" height="12.26" fill="#0000cf"/><rect x="1080.5" y="769.74" width="31.5" height="12.26" fill="#0000df"/><rect x="1080.5" y="757.88" width="31.5" height="12.26" fill="#0000ef"/><rect x="1080.5" y="746.02" width="31.5" height="12.26" fill="#0000ff"/><rect x="1080.5" y="734.17" width="31.5" height="12.26" fill="#0010ff"/><rect x="1080.5" y="722.31" width="31.5" height="12.26" fill="#0020ff"/><rect x="1080.5" y="710.45" width="31.5" height="12.26" fill="#0030ff"/><rect x="1080.5" y="698.59" width="31.5" height="12.26" fill="#0040ff"/><rect x="1080.5" y="686.73" width="31.5" height="12.26" fill="#0050ff"/><rect x="1080.5" y="674.87" width="31.5" height="12.26" fill="#0060ff"/><rect x="1080.5" y="663.01" width="31.5" height="12.26" fill="#0070ff"/><rect x="1080.5" y="651.15" width="31.5" height="12.26" fill="#0080ff"/><rect x="1080.5" y="639.29" width="31.5" height="12.26" fill="#008fff"/><rect x="1080.5" y="627.43" width="31.5" height="12.26" fill="#009fff"/><rect x="1080.5" y="615.57" width="31.5" height="12.26" fill="#00afff"/><rect x="1080.5" y="603.71" width="31.5" height="12.26" fill="#00bfff"/><rect x="1080.5" y="591.85" width="31.5" height="12.26" fill="#00cfff"/><rect x="1080.5" y="579.99" width="31.5" height="12.26" fill="#00dfff"/><rect x="1080.5" y="568.13" width="31.5" height="12.26" fill="#00efff"/><rect x="1080.5" y="556.27" width="31.5" height="12.26" fill="#00ffff"/><rect x="1080.5" y="544.42" width="31.5" height="12.26" fill="#10ffef"/><rect x="1080.5" y="532.56" width="31.5" height="12.26" fill="#20ffdf"/><rect x="1080.5" y="520.70" width="31.5" height="12.26" fill="#30ffcf"/><rect x="1080.5" y="508.84" width="31.5" height="12.26" fill="#40ffbf"/><rect x="1080.5" y="496.98" width="31.5" height="12.26" fill="#50ffaf"/><rect x="1080.5" y="485.12" width="31.5" height="12.26" fill="#60ff9f"/><rect x="1080.5" y="473.26" width="31.5" height="12.26" fill="#70ff8f"/><rect x="1080.5" y="461.40" width="31.5" height="12.26" fill="#80ff80"/><rect x="1080.5" y="449.54" width="31.5" height="12.26" fill="#8fff70"/><rect x="1080.5" y="437.68" width="31.5" height="12.26" fill="#9fff60"/><rect x="1080.5" y="425.82" width="31.5" height="12.26" fill="#afff50"/><rect x="1080.5" y="413.96" width="31.5" height="12.26" fill="#bfff40"/><rect x="1080.5" y="402.10" width="31.5" height="12.26" fill="#cfff30"/><rect x="1080.5" y="390.24" width="31.5" height="12.26" fill="#dfff20"/><rect x="1080.5" y="378.38" width="31.5" height="12.26" fill="#efff10"/><rect x="1080.5" y="366.52" width="31.5" height="12.26" fill="#ffff00"/><rect x="1080.5" y="354.67" width="31.5" height="12.26" fill="#ffef00"/><rect x="1080.5" y="342.81" width="31.5" height="12.26" fill="#ffdf00"/><rect x="1080.5" y="330.95" width="31.5" height="12.26" fill="#ffcf00"/><rect x="1080.5" y="319.09" width="31.5" height="12.26" fill="#ffbf00"/><rect x="1080.5" y="307.23" width="31.5" height="12.26" fill="#ffaf00"/><rect x="1080.5" y="295.37" width="31.5" height="12.26" fill="#ff9f00"/><rect x="1080.5" y="283.51" width="31.5" height="12.26" fill="#ff8f00"/><rect x="1080.5" y="271.65" width="31.5" height="12.26" fill="#ff8000"/><rect x="1080.5" y="259.79" width="31.5" height="12.26" fill="#ff7000"/><rect x="1080.5" y="247.93" width="31.5" height="12.26" fill="#ff6000"/><rect x="1080.5" y="236.07" width="31.5" height="12.26" fill="#ff5000"/><rect x="1080.5" y="224.21" width="31.5" height="12.26" fill="#ff4000"/><rect x="1080.5" y="212.35" width="31.5" height="12.26" fill="#ff3000"/><rect x="1080.5" y="200.49" width="31.5" height="12.26" fill="#ff2000"/><rect x="1080.5" y="188.63" width="31.5" height="12.26" fill="#ff1000"/><rect x="1080.5" y="176.77" width="31.5" height="12.26" fill="#ff0000"/><rect x="1080.5" y="164.92" width="31.5" height="12.26" fill="#ef0000"/><rect x="1080.5" y="153.06" width="31.5" height="12.26" fill="#df0000"/><rect x="1080.5" y="141.20" width="31.5" height="12.26" fill="#cf0000"/><rect x="1080.5" y="129.34" width="31.5" height="12.26" fill="#bf0000"/><rect x="1080.5" y="117.48" width="31.5" height="12.26" fill="#af0000"/><rect x="1080.5" y="105.62" width="31.5" height="12.26" fill="#9f0000"/><rect x="1080.5" y="93.76" width="31.5" height="12.26" fill="#8f0000"/><rect x="1080.5" y="81.90" width="31.5" height="12.26" fill="#800000"/><rect x="1080.5" y="81.9" width="31.5" height="759.0" fill="none" stroke="#262626" stroke-width="1"/>
<line x1="1105.0" y1="714.4" x2="1112.0" y2="714.4" stroke="#262626" stroke-width="1"/><line x1="1105.0" y1="587.9" x2="1112.0" y2="587.9" stroke="#262626" stroke-width="1"/><line x1="1105.0" y1="461.4" x2="1112.0" y2="461.4" stroke="#262626" stroke-width="1"/><line x1="1105.0" y1="334.9" x2="1112.0" y2="334.9" stroke="#262626" stroke-width="1"/><line x1="1105.0" y1="208.4" x2="1112.0" y2="208.4" stroke="#262626" stroke-width="1"/>
<text x="173.30" y="37.60" style="font-size:31.53px" class="ti" textLength="834.49" lengthAdjust="spacingAndGlyphs">IMERG Mean Monthly Accumulated Precipitation</text><text x="19.93" y="108.60" style="font-size:39.94px" class="yr" textLength="84.52" lengthAdjust="spacingAndGlyphs">2009</text><text x="19.93" y="188.30" style="font-size:39.94px" class="yr" textLength="84.54" lengthAdjust="spacingAndGlyphs">2010</text><text x="19.88" y="270.10" style="font-size:39.94px" class="yr" textLength="84.78" lengthAdjust="spacingAndGlyphs">2011</text><text x="19.93" y="351.80" style="font-size:39.94px" class="yr" textLength="84.52" lengthAdjust="spacingAndGlyphs">2012</text><text x="19.93" y="434.20" style="font-size:39.94px" class="yr" textLength="84.52" lengthAdjust="spacingAndGlyphs">2013</text><text x="19.95" y="516.70" style="font-size:39.94px" class="yr" textLength="83.52" lengthAdjust="spacingAndGlyphs">2014</text><text x="19.93" y="596.00" style="font-size:39.94px" class="yr" textLength="84.52" lengthAdjust="spacingAndGlyphs">2015</text><text x="19.93" y="678.80" style="font-size:39.94px" class="yr" textLength="84.52" lengthAdjust="spacingAndGlyphs">2016</text><text x="19.93" y="761.10" style="font-size:39.94px" class="yr" textLength="84.52" lengthAdjust="spacingAndGlyphs">2017</text><text x="19.93" y="845.00" style="font-size:39.94px" class="yr" textLength="84.52" lengthAdjust="spacingAndGlyphs">2018</text><text x="123.55" y="915.30" style="font-size:38.34px" class="mo" textLength="54.86" lengthAdjust="spacingAndGlyphs">Jan</text><text x="198.81" y="915.30" style="font-size:35.89px" class="mo" textLength="62.57" lengthAdjust="spacingAndGlyphs">Feb</text><text x="275.07" y="915.30" style="font-size:38.34px" class="mo" textLength="71.81" lengthAdjust="spacingAndGlyphs">Mar</text><text x="363.49" y="915.30" style="font-size:38.34px" class="mo" textLength="59.63" lengthAdjust="spacingAndGlyphs">Apr</text><text x="434.66" y="915.30" style="font-size:38.34px" class="mo" textLength="74.85" lengthAdjust="spacingAndGlyphs">May</text><text x="524.69" y="915.30" style="font-size:38.34px" class="mo" textLength="58.11" lengthAdjust="spacingAndGlyphs">Jun</text><text x="611.82" y="915.30" style="font-size:35.89px" class="mo" textLength="45.33" lengthAdjust="spacingAndGlyphs">Jul</text><text x="684.29" y="915.30" style="font-size:38.34px" class="mo" textLength="66.63" lengthAdjust="spacingAndGlyphs">Aug</text><text x="763.73" y="915.30" style="font-size:38.34px" class="mo" textLength="63.59" lengthAdjust="spacingAndGlyphs">Sep</text><text x="844.90" y="915.30" style="font-size:38.34px" class="mo" textLength="57.64" lengthAdjust="spacingAndGlyphs">Oct</text><text x="919.02" y="915.30" style="font-size:38.34px" class="mo" textLength="69.04" lengthAdjust="spacingAndGlyphs">Nov</text><text x="997.58" y="915.30" style="font-size:38.34px" class="mo" textLength="64.73" lengthAdjust="spacingAndGlyphs">Dec</text><text x="1123.68" y="852.25" style="font-size:35.48px" class="tk" textLength="18.64" lengthAdjust="spacingAndGlyphs">0</text><text x="1122.53" y="725.75" style="font-size:35.48px" class="tk" textLength="43.41" lengthAdjust="spacingAndGlyphs">50</text><text x="1121.44" y="599.25" style="font-size:35.48px" class="tk" textLength="66.77" lengthAdjust="spacingAndGlyphs">100</text><text x="1122.53" y="472.75" style="font-size:35.48px" class="tk" textLength="65.62" lengthAdjust="spacingAndGlyphs">150</text><text x="1122.53" y="346.25" style="font-size:35.48px" class="tk" textLength="65.62" lengthAdjust="spacingAndGlyphs">200</text><text x="1122.53" y="219.75" style="font-size:35.48px" class="tk" textLength="65.62" lengthAdjust="spacingAndGlyphs">250</text><text x="1122.53" y="93.25" style="font-size:35.48px" class="tk" textLength="65.62" lengthAdjust="spacingAndGlyphs">300</text><text transform="translate(1225.70,740.00) rotate(-90)" x="0" y="0" style="font-size:34.00px" class="lb" textLength="557.61" lengthAdjust="spacingAndGlyphs">Accumulated Precipitation (mm)</text>
</svg>
</body></html>
